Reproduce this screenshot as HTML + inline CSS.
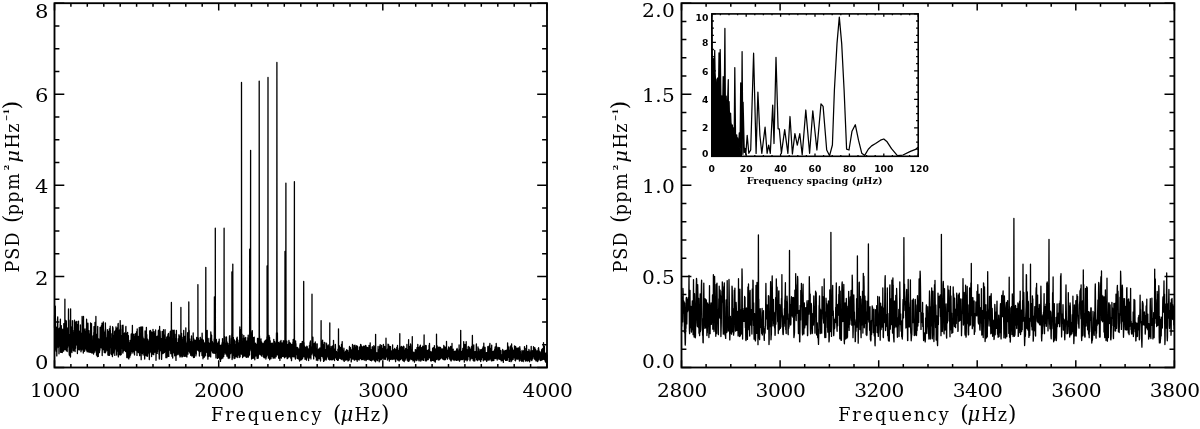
<!DOCTYPE html>
<html lang="en">
<head>
<meta charset="utf-8">
<title>PSD</title>
<style>
html,body{margin:0;padding:0;background:#fff;}
body{width:1200px;height:429px;overflow:hidden;}
svg{display:block;filter:grayscale(1);}
text{fill:#000;}
.s{font-family:"DejaVu Serif","Liberation Serif",serif;}
.b{font-family:"DejaVu Sans","Liberation Sans",sans-serif;font-weight:bold;}
.bs{font-family:"DejaVu Serif","Liberation Serif",serif;font-weight:bold;}
.mu{font-style:italic;}
.sup{font-weight:bold;}
.mub{font-style:italic;}
</style>
</head>
<body>
<svg width="1200" height="429" viewBox="0 0 1200 429">
<path d="M54.5,327.8L54.6,314.5L54.6,316.9L54.7,322.4L54.8,320.2L54.8,307.8L54.9,339.2L55.0,324.4L55.0,326.0L55.1,340.4L55.2,342.5L55.2,320.8L55.3,306.2L55.4,330.4L55.4,336.5L55.5,334.5L55.6,345.0L55.6,349.4L55.7,345.9L55.7,338.4L55.8,344.2L55.9,342.1L55.9,351.0L56.0,348.9L56.1,340.0L56.1,343.8L56.2,339.8L56.3,332.2L56.3,327.2L56.4,339.0L56.5,336.2L56.5,342.1L56.6,338.7L56.7,333.3L56.7,342.2L56.8,355.9L56.9,349.9L56.9,329.2L57.0,328.2L57.1,341.8L57.1,348.2L57.2,348.0L57.3,344.2L57.3,344.3L57.4,326.0L57.5,318.7L57.5,330.5L57.6,330.0L57.7,326.2L57.7,316.8L57.8,328.5L57.8,330.1L57.9,331.4L58.0,336.7L58.0,342.1L58.1,343.3L58.2,328.9L58.2,328.7L58.3,339.5L58.4,339.6L58.4,347.0L58.5,343.4L58.6,338.1L58.6,347.6L58.7,337.7L58.8,332.2L58.8,338.3L58.9,347.4L59.0,353.8L59.0,353.0L59.1,338.2L59.2,334.9L59.2,339.4L59.3,338.6L59.4,340.3L59.4,328.2L59.5,333.2L59.6,344.6L59.6,344.4L59.7,343.2L59.8,344.3L59.8,335.2L59.9,338.5L60.0,346.0L60.0,333.6L60.1,342.8L60.1,345.4L60.2,323.9L60.3,331.5L60.3,323.1L60.4,319.2L60.5,340.5L60.5,352.3L60.6,346.6L60.7,340.2L60.7,346.5L60.8,343.2L60.9,328.4L60.9,343.4L61.0,349.9L61.1,349.8L61.1,345.9L61.2,333.4L61.3,326.7L61.3,325.6L61.4,334.2L61.5,339.4L61.5,347.4L61.6,352.4L61.7,351.7L61.7,349.1L61.8,345.5L61.9,341.4L61.9,333.0L62.0,341.4L62.1,338.9L62.1,341.4L62.2,340.3L62.2,350.3L62.3,352.5L62.4,335.8L62.4,330.8L62.5,339.9L62.6,342.6L62.6,342.8L62.7,329.1L62.8,337.4L62.8,349.8L62.9,341.4L63.0,334.7L63.0,343.6L63.1,339.0L63.2,337.6L63.2,331.6L63.3,344.8L63.4,347.7L63.4,347.2L63.5,342.7L63.6,351.2L63.6,351.2L63.7,340.8L63.8,334.8L63.8,323.6L63.9,335.6L64.0,337.3L64.0,337.3L64.1,341.3L64.2,342.2L64.2,344.3L64.3,345.3L64.3,346.2L64.4,344.7L64.5,342.1L64.5,337.3L64.6,348.9L64.7,349.5L64.7,343.2L64.8,347.3L64.9,299.2L64.9,324.8L65.0,322.8L65.1,325.4L65.1,346.5L65.2,349.3L65.3,341.9L65.3,335.6L65.4,347.5L65.5,335.0L65.5,331.4L65.6,338.9L65.7,337.8L65.7,321.8L65.8,320.5L65.9,321.9L65.9,332.8L66.0,334.1L66.1,347.6L66.1,348.4L66.2,350.6L66.3,342.1L66.3,320.9L66.4,330.8L66.5,346.7L66.5,337.2L66.6,334.2L66.6,340.8L66.7,329.5L66.8,334.5L66.8,345.3L66.9,347.9L67.0,346.8L67.0,331.8L67.1,332.3L67.2,344.9L67.2,351.5L67.3,346.0L67.4,331.2L67.4,333.3L67.5,347.8L67.6,343.1L67.6,328.6L67.7,328.8L67.8,335.4L67.8,327.7L67.9,335.4L68.0,344.6L68.0,341.5L68.1,338.3L68.2,342.4L68.2,336.9L68.3,328.4L68.4,345.9L68.4,328.6L68.5,309.0L68.6,328.4L68.6,342.8L68.7,342.2L68.7,338.7L68.8,338.8L68.9,340.7L68.9,338.8L69.0,341.8L69.1,348.5L69.1,350.7L69.2,353.0L69.3,354.9L69.3,352.5L69.4,343.2L69.5,346.7L69.5,347.7L69.6,338.5L69.7,334.4L69.7,351.3L69.8,355.7L69.9,347.5L69.9,339.7L70.0,339.5L70.1,332.7L70.1,320.7L70.2,320.0L70.3,332.6L70.3,338.7L70.4,350.6L70.5,357.0L70.5,354.7L70.6,308.8L70.7,339.3L70.7,348.1L70.8,346.7L70.9,335.7L70.9,350.5L71.0,351.0L71.0,341.1L71.1,344.2L71.2,347.7L71.2,341.7L71.3,336.2L71.4,338.3L71.4,345.6L71.5,344.9L71.6,348.5L71.6,339.8L71.7,326.9L71.8,332.9L71.8,343.6L71.9,352.5L72.0,346.1L72.0,347.0L72.1,345.9L72.2,335.5L72.2,334.0L72.3,332.5L72.4,320.7L72.4,331.3L72.5,346.6L72.6,345.7L72.6,343.5L72.7,344.0L72.8,330.5L72.8,339.2L72.9,332.0L73.0,333.0L73.0,334.3L73.1,338.4L73.1,344.5L73.2,336.1L73.3,348.8L73.3,349.5L73.4,350.7L73.5,347.2L73.5,336.6L73.6,333.3L73.7,342.2L73.7,350.9L73.8,348.0L73.9,341.8L73.9,339.4L74.0,341.3L74.1,349.8L74.1,343.6L74.2,327.5L74.3,333.4L74.3,321.0L74.4,324.5L74.5,322.0L74.5,320.2L74.6,333.5L74.7,347.9L74.7,343.0L74.8,340.9L74.9,345.8L74.9,346.9L75.0,346.8L75.1,351.5L75.1,346.2L75.2,343.1L75.3,340.8L75.3,344.1L75.4,348.5L75.4,347.9L75.5,338.7L75.6,346.3L75.6,348.3L75.7,339.3L75.8,336.7L75.8,322.0L75.9,345.2L76.0,342.8L76.0,328.4L76.1,342.3L76.2,336.5L76.2,336.3L76.3,326.0L76.4,331.1L76.4,341.5L76.5,339.2L76.6,341.8L76.6,344.9L76.7,329.3L76.8,321.3L76.8,334.7L76.9,341.3L77.0,343.1L77.0,340.3L77.1,328.6L77.2,333.2L77.2,333.2L77.3,333.1L77.4,347.0L77.4,353.6L77.5,349.6L77.5,346.5L77.6,339.3L77.7,347.3L77.7,340.5L77.8,337.5L77.9,324.4L77.9,327.6L78.0,346.3L78.1,345.9L78.1,341.3L78.2,331.1L78.3,339.2L78.3,336.9L78.4,329.3L78.5,321.1L78.5,336.8L78.6,340.3L78.7,340.2L78.7,349.7L78.8,344.0L78.9,344.3L78.9,340.7L79.0,331.2L79.1,339.4L79.1,342.9L79.2,345.0L79.3,336.9L79.3,343.7L79.4,349.9L79.5,338.9L79.5,333.4L79.6,345.2L79.7,347.8L79.7,342.1L79.8,338.7L79.8,334.9L79.9,330.8L80.0,342.5L80.0,342.1L80.1,345.3L80.2,349.2L80.2,338.1L80.3,343.1L80.4,334.1L80.4,324.9L80.5,333.4L80.6,334.6L80.6,344.1L80.7,345.1L80.8,333.0L80.8,340.3L80.9,351.2L81.0,349.6L81.0,351.8L81.1,346.8L81.2,341.9L81.2,351.0L81.3,347.5L81.4,344.5L81.4,339.0L81.5,336.0L81.6,343.5L81.6,345.4L81.7,343.5L81.8,338.6L81.8,339.9L81.9,339.0L81.9,343.5L82.0,349.2L82.1,337.4L82.1,316.4L82.2,320.7L82.3,333.7L82.3,346.3L82.4,348.0L82.5,339.8L82.5,343.8L82.6,334.3L82.7,326.9L82.7,343.9L82.8,347.1L82.9,350.3L82.9,345.5L83.0,338.1L83.1,334.1L83.1,327.6L83.2,339.6L83.3,353.0L83.3,347.8L83.4,341.9L83.5,349.8L83.5,316.5L83.6,327.9L83.7,332.6L83.7,333.3L83.8,332.2L83.9,334.9L83.9,331.9L84.0,334.8L84.0,338.0L84.1,335.3L84.2,337.9L84.2,337.1L84.3,338.5L84.4,347.6L84.4,346.6L84.5,348.7L84.6,351.3L84.6,341.3L84.7,342.9L84.8,343.8L84.8,343.1L84.9,331.2L85.0,329.0L85.0,337.2L85.1,348.7L85.2,346.8L85.2,338.3L85.3,338.8L85.4,338.1L85.4,331.2L85.5,337.1L85.6,347.8L85.6,341.5L85.7,339.3L85.8,335.8L85.8,333.6L85.9,336.1L86.0,340.9L86.0,344.1L86.1,336.9L86.2,347.6L86.2,350.0L86.3,339.6L86.3,341.1L86.4,344.4L86.5,343.1L86.5,326.8L86.6,319.2L86.7,330.1L86.7,336.5L86.8,330.7L86.9,324.6L86.9,339.7L87.0,350.0L87.1,351.8L87.1,343.2L87.2,333.8L87.3,336.8L87.3,330.2L87.4,343.7L87.5,340.2L87.5,336.2L87.6,331.3L87.7,325.0L87.7,331.3L87.8,345.2L87.9,342.0L87.9,323.1L88.0,324.9L88.1,335.8L88.1,342.2L88.2,348.2L88.3,348.9L88.3,348.8L88.4,351.8L88.4,351.9L88.5,345.6L88.6,339.2L88.6,341.0L88.7,334.4L88.8,339.0L88.8,342.2L88.9,335.0L89.0,340.0L89.0,330.6L89.1,336.8L89.2,338.5L89.2,346.7L89.3,352.3L89.4,348.1L89.4,342.2L89.5,342.4L89.6,335.8L89.6,343.4L89.7,350.8L89.8,345.5L89.8,348.7L89.9,345.4L90.0,338.0L90.0,340.1L90.1,350.1L90.2,345.1L90.2,333.8L90.3,342.9L90.4,342.0L90.4,348.6L90.5,347.4L90.6,340.0L90.6,322.9L90.7,337.4L90.7,352.4L90.8,348.8L90.9,337.1L90.9,339.7L91.0,338.6L91.1,338.0L91.1,339.7L91.2,336.4L91.3,343.0L91.3,344.4L91.4,349.9L91.5,334.8L91.5,323.6L91.6,336.7L91.7,342.8L91.7,341.5L91.8,351.9L91.9,348.3L91.9,346.7L92.0,353.2L92.1,351.0L92.1,350.1L92.2,344.4L92.3,348.8L92.3,348.3L92.4,352.5L92.5,352.6L92.5,342.6L92.6,345.4L92.7,349.9L92.7,344.2L92.8,344.4L92.8,343.5L92.9,346.0L93.0,335.9L93.0,345.2L93.1,348.9L93.2,339.6L93.2,338.8L93.3,350.1L93.4,341.8L93.4,347.1L93.5,352.5L93.6,354.1L93.6,350.7L93.7,341.3L93.8,332.5L93.8,340.5L93.9,342.5L94.0,339.8L94.0,326.6L94.1,339.1L94.2,347.0L94.2,352.4L94.3,343.4L94.4,336.7L94.4,342.3L94.5,340.4L94.6,344.0L94.6,346.9L94.7,346.1L94.8,351.0L94.8,349.7L94.9,342.2L95.0,328.7L95.0,322.3L95.1,332.6L95.1,341.5L95.2,345.5L95.3,334.6L95.3,338.1L95.4,342.6L95.5,337.9L95.5,322.8L95.6,338.6L95.7,342.5L95.7,343.0L95.8,343.2L95.9,316.5L95.9,347.9L96.0,344.0L96.1,345.2L96.1,349.8L96.2,352.5L96.3,349.1L96.3,343.3L96.4,346.3L96.5,355.2L96.5,352.9L96.6,346.4L96.7,346.0L96.7,343.9L96.8,352.6L96.9,352.4L96.9,343.4L97.0,348.7L97.1,336.4L97.1,334.1L97.2,344.7L97.2,347.2L97.3,346.9L97.4,350.8L97.4,356.7L97.5,352.1L97.6,350.9L97.6,341.7L97.7,326.4L97.8,340.1L97.8,348.8L97.9,353.8L98.0,348.4L98.0,350.8L98.1,347.4L98.2,351.5L98.2,352.0L98.3,356.4L98.4,349.7L98.4,339.3L98.5,339.2L98.6,338.9L98.6,340.5L98.7,347.7L98.8,346.3L98.8,343.4L98.9,343.2L99.0,342.3L99.0,345.2L99.1,339.2L99.2,340.4L99.2,352.2L99.3,346.1L99.4,350.4L99.4,352.6L99.5,352.1L99.5,348.4L99.6,349.4L99.7,346.6L99.7,341.5L99.8,345.5L99.9,350.2L99.9,346.5L100.0,340.6L100.1,332.4L100.1,327.3L100.2,333.4L100.3,336.1L100.3,339.5L100.4,341.7L100.5,332.4L100.5,335.0L100.6,334.6L100.7,330.1L100.7,334.6L100.8,340.5L100.9,341.5L100.9,329.8L101.0,340.5L101.1,339.5L101.1,347.8L101.2,340.0L101.3,325.9L101.3,336.6L101.4,344.2L101.5,341.9L101.5,343.1L101.6,346.6L101.6,345.8L101.7,332.4L101.8,325.9L101.8,335.3L101.9,347.4L102.0,338.2L102.0,323.2L102.1,329.6L102.2,351.4L102.2,355.5L102.3,348.8L102.4,323.5L102.4,337.8L102.5,345.0L102.6,338.5L102.6,347.7L102.7,348.7L102.8,346.5L102.8,345.4L102.9,343.0L103.0,344.2L103.0,331.0L103.1,334.6L103.2,349.4L103.2,340.3L103.3,321.9L103.4,328.4L103.4,339.1L103.5,347.1L103.6,349.8L103.6,338.4L103.7,333.3L103.7,345.2L103.8,340.2L103.9,339.2L103.9,340.7L104.0,337.4L104.1,343.9L104.1,344.3L104.2,349.2L104.3,352.5L104.3,351.9L104.4,348.1L104.5,331.8L104.5,335.7L104.6,341.4L104.7,349.9L104.7,349.1L104.8,348.6L104.9,344.1L104.9,346.1L105.0,336.8L105.1,329.8L105.1,347.2L105.2,350.6L105.3,352.8L105.3,341.8L105.4,322.9L105.5,343.2L105.5,327.4L105.6,332.9L105.7,335.9L105.7,337.6L105.8,344.3L105.9,349.9L105.9,351.8L106.0,349.9L106.0,350.3L106.1,341.8L106.2,339.4L106.2,341.1L106.3,342.5L106.4,340.4L106.4,338.7L106.5,348.4L106.6,347.7L106.6,346.2L106.7,348.2L106.8,344.3L106.8,344.5L106.9,337.6L107.0,346.0L107.0,345.5L107.1,348.7L107.2,350.3L107.2,345.7L107.3,335.8L107.4,329.7L107.4,334.7L107.5,333.0L107.6,345.3L107.6,345.7L107.7,349.2L107.8,346.6L107.8,344.1L107.9,355.0L108.0,353.7L108.0,337.2L108.1,334.4L108.1,347.3L108.2,353.4L108.3,345.6L108.3,350.5L108.4,341.2L108.5,331.4L108.5,343.7L108.6,351.4L108.7,355.3L108.7,347.3L108.8,335.6L108.9,335.6L108.9,343.3L109.0,347.1L109.1,335.4L109.1,342.3L109.2,343.7L109.3,339.0L109.3,330.1L109.4,328.8L109.5,350.6L109.5,355.3L109.6,346.4L109.7,341.0L109.7,348.0L109.8,343.9L109.9,336.7L109.9,342.2L110.0,347.5L110.1,343.5L110.1,336.5L110.2,326.2L110.3,346.8L110.3,343.5L110.4,330.4L110.4,336.6L110.5,346.4L110.6,343.7L110.6,345.1L110.7,344.7L110.8,344.6L110.8,345.4L110.9,338.7L111.0,343.3L111.0,353.4L111.1,352.4L111.2,338.8L111.2,343.0L111.3,344.0L111.4,354.5L111.4,353.9L111.5,347.1L111.6,343.8L111.6,338.1L111.7,340.6L111.8,342.0L111.8,334.3L111.9,335.5L112.0,333.3L112.0,338.7L112.1,340.3L112.2,345.5L112.2,345.4L112.3,341.8L112.4,345.3L112.4,356.6L112.5,354.5L112.5,333.7L112.6,326.7L112.7,342.4L112.7,354.7L112.8,352.1L112.9,347.6L112.9,333.7L113.0,327.7L113.1,333.5L113.1,346.3L113.2,335.0L113.3,336.5L113.3,348.2L113.4,353.0L113.5,347.6L113.5,351.3L113.6,339.6L113.7,336.2L113.7,342.5L113.8,336.8L113.9,347.5L113.9,348.8L114.0,342.7L114.1,338.9L114.1,343.8L114.2,345.7L114.3,341.4L114.3,336.9L114.4,344.4L114.5,344.6L114.5,338.1L114.6,331.6L114.7,341.6L114.7,347.6L114.8,352.8L114.8,355.4L114.9,342.3L115.0,341.1L115.0,350.2L115.1,344.4L115.2,341.1L115.2,345.5L115.3,330.3L115.4,344.2L115.4,348.8L115.5,346.9L115.6,341.4L115.6,343.8L115.7,344.6L115.8,346.8L115.8,348.1L115.9,346.4L116.0,327.3L116.0,327.0L116.1,337.9L116.2,336.3L116.2,344.3L116.3,338.4L116.4,328.2L116.4,335.2L116.5,349.6L116.6,349.5L116.6,351.1L116.7,355.0L116.8,348.3L116.8,331.7L116.9,341.8L116.9,340.0L117.0,346.8L117.1,349.2L117.1,337.1L117.2,336.6L117.3,344.7L117.3,347.0L117.4,343.2L117.5,348.4L117.5,335.0L117.6,327.7L117.7,339.4L117.7,344.1L117.8,349.7L117.9,351.3L117.9,344.6L118.0,324.3L118.1,326.9L118.1,327.0L118.2,323.3L118.3,337.5L118.3,356.0L118.4,356.9L118.5,354.9L118.5,350.3L118.6,344.9L118.7,337.3L118.7,330.2L118.8,348.6L118.9,349.6L118.9,347.3L119.0,347.8L119.1,350.3L119.1,350.9L119.2,340.2L119.2,336.3L119.3,344.8L119.4,335.2L119.4,341.1L119.5,354.5L119.6,353.0L119.6,350.6L119.7,349.1L119.8,346.9L119.8,332.8L119.9,329.2L120.0,338.7L120.0,340.4L120.1,347.8L120.2,320.6L120.2,346.4L120.3,338.3L120.4,348.5L120.4,355.1L120.5,345.9L120.6,340.4L120.6,331.0L120.7,325.2L120.8,340.8L120.8,345.3L120.9,343.6L121.0,336.0L121.0,343.2L121.1,349.2L121.2,351.7L121.2,354.5L121.3,345.4L121.3,340.2L121.4,340.0L121.5,338.8L121.5,340.7L121.6,335.6L121.7,340.3L121.7,345.9L121.8,342.5L121.9,336.0L121.9,342.2L122.0,346.5L122.1,348.0L122.1,347.5L122.2,347.1L122.3,338.8L122.3,329.2L122.4,330.9L122.5,325.5L122.5,331.2L122.6,339.7L122.7,345.1L122.7,349.3L122.8,352.9L122.9,353.0L122.9,337.6L123.0,325.2L123.1,327.2L123.1,333.2L123.2,349.8L123.3,347.4L123.3,351.2L123.4,349.1L123.4,346.0L123.5,343.3L123.6,343.1L123.6,333.3L123.7,339.3L123.8,339.8L123.8,348.5L123.9,345.4L124.0,340.3L124.0,350.8L124.1,350.6L124.2,343.5L124.2,344.5L124.3,344.3L124.4,350.2L124.4,346.5L124.5,333.0L124.6,336.7L124.6,339.4L124.7,344.3L124.8,345.9L124.8,348.6L124.9,340.0L125.0,337.7L125.0,340.4L125.1,343.7L125.2,343.7L125.2,346.3L125.3,349.4L125.4,347.5L125.4,342.4L125.5,346.7L125.6,351.6L125.6,349.2L125.7,340.2L125.7,336.3L125.8,327.2L125.9,326.5L125.9,343.0L126.0,339.9L126.1,339.8L126.1,339.7L126.2,349.9L126.3,342.8L126.3,339.1L126.4,345.1L126.5,347.8L126.5,339.4L126.6,334.3L126.7,342.4L126.7,350.5L126.8,357.6L126.9,351.0L126.9,333.5L127.0,342.1L127.1,342.4L127.1,352.6L127.2,349.9L127.3,344.8L127.3,337.4L127.4,336.1L127.5,353.4L127.5,354.5L127.6,332.3L127.7,337.6L127.7,349.3L127.8,355.6L127.8,354.0L127.9,352.5L128.0,346.2L128.0,349.2L128.1,358.1L128.2,357.2L128.2,348.1L128.3,349.3L128.4,340.4L128.4,335.7L128.5,342.1L128.6,348.3L128.6,343.8L128.7,350.7L128.8,356.6L128.8,358.9L128.9,356.7L129.0,352.4L129.0,349.8L129.1,349.3L129.2,348.7L129.2,347.3L129.3,343.0L129.4,350.3L129.4,345.6L129.5,345.0L129.6,346.3L129.6,351.7L129.7,354.4L129.8,357.2L129.8,352.4L129.9,348.2L130.0,347.1L130.0,352.4L130.1,344.7L130.1,340.3L130.2,340.5L130.3,349.0L130.3,351.0L130.4,351.2L130.5,355.2L130.5,347.9L130.6,344.1L130.7,341.5L130.7,341.2L130.8,342.5L130.9,349.0L130.9,353.8L131.0,353.8L131.1,345.3L131.1,339.2L131.2,334.5L131.3,333.8L131.3,347.9L131.4,342.2L131.5,341.6L131.5,351.8L131.6,347.0L131.7,344.9L131.7,342.2L131.8,350.1L131.9,343.4L131.9,334.0L132.0,341.4L132.1,347.8L132.1,351.5L132.2,344.5L132.2,343.7L132.3,333.9L132.4,325.4L132.4,339.0L132.5,344.5L132.6,342.3L132.6,343.1L132.7,347.4L132.8,341.5L132.8,345.9L132.9,353.0L133.0,346.0L133.0,344.3L133.1,343.3L133.2,345.5L133.2,351.6L133.3,345.2L133.4,340.6L133.4,334.3L133.5,345.7L133.6,344.1L133.6,342.5L133.7,348.6L133.8,350.8L133.8,349.7L133.9,349.4L134.0,343.5L134.0,334.2L134.1,338.2L134.2,338.2L134.2,343.8L134.3,341.4L134.4,347.8L134.4,349.2L134.5,354.9L134.5,347.5L134.6,338.7L134.7,345.8L134.7,349.6L134.8,337.5L134.9,340.6L134.9,346.4L135.0,342.6L135.1,343.5L135.1,349.7L135.2,345.4L135.3,344.9L135.3,344.7L135.4,345.7L135.5,334.1L135.5,333.7L135.6,338.6L135.7,347.5L135.7,348.9L135.8,341.4L135.9,347.8L135.9,350.5L136.0,345.6L136.1,350.6L136.1,345.4L136.2,337.5L136.3,341.2L136.3,346.1L136.4,345.7L136.5,342.9L136.5,331.8L136.6,337.1L136.6,338.8L136.7,345.5L136.8,334.2L136.8,331.4L136.9,346.8L137.0,355.4L137.0,350.2L137.1,341.2L137.2,330.2L137.2,329.0L137.3,339.9L137.4,348.5L137.4,352.3L137.5,350.3L137.6,343.9L137.6,339.5L137.7,343.3L137.8,338.3L137.8,344.2L137.9,349.2L138.0,352.1L138.0,347.3L138.1,337.7L138.2,336.5L138.2,342.3L138.3,336.8L138.4,342.7L138.4,349.3L138.5,352.6L138.6,351.9L138.6,342.4L138.7,337.8L138.8,346.9L138.8,349.0L138.9,347.3L138.9,347.2L139.0,350.2L139.1,348.7L139.1,344.0L139.2,343.3L139.3,338.5L139.3,327.3L139.4,334.6L139.5,351.1L139.5,353.6L139.6,354.4L139.7,355.7L139.7,353.8L139.8,342.6L139.9,337.6L139.9,348.6L140.0,346.5L140.1,343.5L140.1,352.4L140.2,352.2L140.3,351.0L140.3,351.1L140.4,352.4L140.5,344.8L140.5,334.5L140.6,341.6L140.7,339.7L140.7,327.1L140.8,337.4L140.9,343.7L140.9,346.4L141.0,334.4L141.0,341.9L141.1,356.1L141.2,359.7L141.2,347.1L141.3,326.8L141.4,335.3L141.4,345.2L141.5,342.7L141.6,340.7L141.6,346.1L141.7,348.1L141.8,338.0L141.8,333.7L141.9,343.9L142.0,346.2L142.0,353.4L142.1,349.1L142.2,353.2L142.2,351.5L142.3,349.8L142.4,343.7L142.4,340.2L142.5,331.9L142.6,327.0L142.6,330.9L142.7,333.6L142.8,339.9L142.8,347.4L142.9,340.8L143.0,340.9L143.0,337.0L143.1,348.5L143.1,355.0L143.2,349.6L143.3,351.4L143.3,350.4L143.4,343.4L143.5,340.3L143.5,340.6L143.6,341.4L143.7,344.2L143.7,347.7L143.8,340.3L143.9,339.0L143.9,343.6L144.0,343.8L144.1,350.1L144.1,345.1L144.2,351.0L144.3,352.6L144.3,346.9L144.4,344.6L144.5,341.2L144.5,349.3L144.6,357.9L144.7,355.3L144.7,359.1L144.8,354.7L144.9,344.6L144.9,356.2L145.0,353.8L145.1,333.9L145.1,330.9L145.2,334.9L145.3,339.0L145.3,342.7L145.4,348.9L145.4,352.9L145.5,353.3L145.6,347.7L145.6,335.5L145.7,345.4L145.8,345.0L145.8,348.5L145.9,344.7L146.0,345.5L146.0,353.8L146.1,355.3L146.2,348.9L146.2,336.5L146.3,340.8L146.4,332.9L146.4,327.4L146.5,355.9L146.6,351.8L146.6,346.6L146.7,347.7L146.8,345.9L146.8,334.6L146.9,347.4L147.0,354.2L147.0,349.8L147.1,346.3L147.2,350.1L147.2,347.7L147.3,344.4L147.4,339.0L147.4,343.6L147.5,353.4L147.5,356.3L147.6,354.0L147.7,346.5L147.7,346.7L147.8,348.0L147.9,339.7L147.9,339.6L148.0,346.4L148.1,348.0L148.1,346.8L148.2,351.6L148.3,352.8L148.3,351.9L148.4,342.2L148.5,346.2L148.5,343.7L148.6,347.2L148.7,341.3L148.7,342.7L148.8,345.9L148.9,345.5L148.9,342.6L149.0,346.7L149.1,353.4L149.1,354.0L149.2,350.2L149.3,357.3L149.3,359.6L149.4,357.6L149.5,352.0L149.5,342.6L149.6,336.5L149.7,340.1L149.7,331.0L149.8,342.1L149.8,352.6L149.9,347.4L150.0,345.4L150.0,352.7L150.1,346.9L150.2,341.2L150.2,336.8L150.3,334.0L150.4,330.5L150.4,331.7L150.5,336.0L150.6,350.5L150.6,351.0L150.7,346.5L150.8,341.0L150.8,341.0L150.9,331.2L151.0,337.6L151.0,351.7L151.1,347.0L151.2,340.1L151.2,345.7L151.3,341.4L151.4,342.3L151.4,338.1L151.5,340.8L151.6,354.5L151.6,356.5L151.7,346.7L151.8,338.4L151.8,332.5L151.9,338.5L151.9,341.9L152.0,347.7L152.1,344.0L152.1,334.8L152.2,333.0L152.3,337.3L152.3,340.9L152.4,336.1L152.5,339.3L152.5,340.1L152.6,340.6L152.7,337.5L152.7,347.1L152.8,354.2L152.9,350.9L152.9,342.8L153.0,329.3L153.1,337.9L153.1,337.0L153.2,337.3L153.3,342.5L153.3,338.9L153.4,334.3L153.5,339.2L153.5,340.0L153.6,344.3L153.7,352.0L153.7,354.7L153.8,352.6L153.9,351.3L153.9,351.2L154.0,340.8L154.1,331.6L154.1,340.3L154.2,343.4L154.2,349.5L154.3,352.2L154.4,349.3L154.4,347.5L154.5,352.3L154.6,349.9L154.6,344.9L154.7,336.2L154.8,333.9L154.8,335.1L154.9,350.8L155.0,352.2L155.0,344.0L155.1,344.0L155.2,351.4L155.2,352.2L155.3,346.9L155.4,348.9L155.4,348.7L155.5,336.5L155.6,329.9L155.6,337.5L155.7,346.6L155.8,351.1L155.8,346.6L155.9,345.0L156.0,357.6L156.0,360.3L156.1,354.2L156.2,350.3L156.2,346.7L156.3,344.9L156.3,344.1L156.4,346.5L156.5,338.9L156.5,342.7L156.6,336.9L156.7,341.9L156.7,352.1L156.8,348.3L156.9,336.4L156.9,339.8L157.0,344.6L157.1,352.1L157.1,350.8L157.2,353.4L157.3,344.4L157.3,346.3L157.4,345.2L157.5,348.6L157.5,351.5L157.6,344.5L157.7,335.9L157.7,339.0L157.8,340.4L157.9,336.5L157.9,344.1L158.0,340.2L158.1,343.3L158.1,340.4L158.2,344.5L158.3,330.9L158.3,343.7L158.4,338.5L158.5,330.1L158.5,343.1L158.6,349.2L158.6,347.1L158.7,344.8L158.8,343.0L158.8,334.6L158.9,340.4L159.0,352.2L159.0,354.4L159.1,353.1L159.2,353.0L159.2,357.4L159.3,359.0L159.4,357.0L159.4,357.3L159.5,351.2L159.6,326.5L159.6,330.4L159.7,348.4L159.8,350.8L159.8,339.2L159.9,333.6L160.0,348.7L160.0,341.7L160.1,330.9L160.2,332.3L160.2,332.3L160.3,336.9L160.4,340.4L160.4,346.5L160.5,342.0L160.6,340.8L160.6,345.4L160.7,338.7L160.7,344.7L160.8,350.6L160.9,340.2L160.9,338.5L161.0,344.8L161.1,343.7L161.1,343.8L161.2,346.1L161.3,351.9L161.3,350.9L161.4,350.6L161.5,355.5L161.5,358.9L161.6,359.3L161.7,355.2L161.7,352.6L161.8,343.2L161.9,339.8L161.9,349.4L162.0,349.5L162.1,349.8L162.1,337.2L162.2,331.3L162.3,335.4L162.3,339.6L162.4,342.4L162.5,345.5L162.5,343.8L162.6,343.7L162.7,344.8L162.7,353.7L162.8,351.4L162.8,340.9L162.9,331.4L163.0,337.5L163.0,349.8L163.1,347.2L163.2,342.8L163.2,350.8L163.3,353.3L163.4,341.9L163.4,334.8L163.5,329.7L163.6,335.8L163.6,349.2L163.7,345.2L163.8,346.5L163.8,348.7L163.9,342.9L164.0,341.2L164.0,345.3L164.1,341.4L164.2,334.9L164.2,338.0L164.3,341.5L164.4,352.6L164.4,350.0L164.5,349.3L164.6,350.7L164.6,345.1L164.7,337.2L164.8,346.0L164.8,350.0L164.9,351.4L165.0,348.7L165.0,341.7L165.1,334.7L165.1,329.7L165.2,337.3L165.3,349.6L165.3,349.9L165.4,350.9L165.5,343.7L165.5,344.0L165.6,344.5L165.7,346.6L165.7,344.9L165.8,349.4L165.9,357.3L165.9,357.7L166.0,349.7L166.1,344.1L166.1,352.9L166.2,355.4L166.3,353.2L166.3,351.5L166.4,349.5L166.5,350.1L166.5,339.2L166.6,340.4L166.7,348.7L166.7,337.3L166.8,342.7L166.9,357.7L166.9,356.9L167.0,356.5L167.1,355.6L167.1,349.5L167.2,337.5L167.2,336.3L167.3,345.8L167.4,342.8L167.4,345.0L167.5,355.0L167.6,347.9L167.6,343.4L167.7,340.8L167.8,341.5L167.8,349.2L167.9,350.6L168.0,344.0L168.0,334.7L168.1,334.1L168.2,344.0L168.2,351.2L168.3,356.4L168.4,354.2L168.4,339.0L168.5,333.3L168.6,343.7L168.6,352.9L168.7,355.8L168.8,356.4L168.8,355.9L168.9,349.5L169.0,346.7L169.0,346.7L169.1,348.3L169.2,346.1L169.2,340.0L169.3,341.2L169.4,341.4L169.4,337.5L169.5,338.8L169.5,341.0L169.6,344.2L169.7,347.6L169.7,349.7L169.8,337.8L169.9,348.6L169.9,345.4L170.0,343.3L170.1,350.3L170.1,343.3L170.2,331.7L170.3,340.0L170.3,347.5L170.4,342.8L170.5,334.5L170.5,340.3L170.6,348.0L170.7,346.6L170.7,351.6L170.8,353.6L170.9,339.4L170.9,330.7L171.0,343.5L171.1,347.1L171.1,343.6L171.2,343.4L171.3,347.7L171.3,343.1L171.4,302.4L171.5,348.0L171.5,342.3L171.6,338.5L171.6,343.8L171.7,343.2L171.8,340.6L171.8,346.9L171.9,353.8L172.0,356.3L172.0,343.6L172.1,349.9L172.2,347.3L172.2,347.9L172.3,345.9L172.4,349.4L172.4,350.0L172.5,351.6L172.6,348.9L172.6,350.1L172.7,358.1L172.8,349.5L172.8,330.2L172.9,341.5L173.0,351.2L173.0,352.1L173.1,343.7L173.2,348.0L173.2,345.2L173.3,345.3L173.4,346.6L173.4,350.5L173.5,351.5L173.6,352.3L173.6,349.8L173.7,348.9L173.8,342.7L173.8,350.5L173.9,350.0L173.9,352.8L174.0,345.8L174.1,333.5L174.1,330.2L174.2,330.1L174.3,333.4L174.3,340.8L174.4,344.5L174.5,341.0L174.5,348.2L174.6,348.8L174.7,352.0L174.7,355.8L174.8,351.8L174.9,334.2L174.9,340.0L175.0,348.3L175.1,343.9L175.1,347.9L175.2,349.7L175.3,352.8L175.3,345.0L175.4,345.9L175.5,349.8L175.5,348.2L175.6,350.0L175.7,345.7L175.7,353.8L175.8,350.7L175.9,349.6L175.9,357.8L176.0,360.4L176.0,355.5L176.1,343.9L176.2,342.5L176.2,337.9L176.3,340.3L176.4,330.4L176.4,331.9L176.5,343.9L176.6,353.3L176.6,348.4L176.7,345.3L176.8,349.4L176.8,355.0L176.9,349.4L177.0,344.2L177.0,348.0L177.1,347.0L177.2,348.5L177.2,352.0L177.3,353.3L177.4,347.2L177.4,343.0L177.5,348.9L177.6,346.6L177.6,349.6L177.7,344.8L177.8,351.0L177.8,353.9L177.9,350.6L178.0,342.5L178.0,343.4L178.1,349.8L178.2,354.5L178.2,344.4L178.3,338.6L178.3,343.3L178.4,348.6L178.5,339.8L178.5,341.8L178.6,348.8L178.7,352.1L178.7,353.0L178.8,352.4L178.9,346.0L178.9,335.0L179.0,334.8L179.1,340.4L179.1,349.6L179.2,343.1L179.3,348.3L179.3,343.0L179.4,338.7L179.5,339.5L179.5,353.0L179.6,348.2L179.7,352.0L179.7,355.4L179.8,348.3L179.9,343.6L179.9,353.8L180.0,357.1L180.1,345.9L180.1,339.3L180.2,347.3L180.3,339.4L180.3,335.8L180.4,349.7L180.4,354.8L180.5,349.6L180.6,351.4L180.6,356.2L180.7,346.8L180.8,340.9L180.8,347.3L180.9,307.4L181.0,349.5L181.0,346.6L181.1,348.9L181.2,350.2L181.2,338.8L181.3,345.1L181.4,352.5L181.4,352.5L181.5,339.5L181.6,333.5L181.6,345.6L181.7,351.9L181.8,353.3L181.8,352.0L181.9,356.1L182.0,357.0L182.0,353.9L182.1,349.2L182.2,345.1L182.2,337.2L182.3,345.2L182.4,346.5L182.4,348.5L182.5,344.5L182.5,339.3L182.6,342.3L182.7,341.9L182.7,350.1L182.8,354.6L182.9,352.1L182.9,349.5L183.0,349.2L183.1,356.3L183.1,354.8L183.2,356.1L183.3,355.1L183.3,345.1L183.4,352.9L183.5,352.0L183.5,345.5L183.6,342.8L183.7,330.5L183.7,332.2L183.8,336.6L183.9,336.0L183.9,349.2L184.0,353.9L184.1,346.5L184.1,345.6L184.2,354.0L184.3,350.9L184.3,343.7L184.4,345.2L184.5,354.2L184.5,348.7L184.6,352.0L184.7,356.4L184.7,354.3L184.8,350.1L184.8,337.5L184.9,336.4L185.0,349.6L185.0,354.6L185.1,355.6L185.2,355.5L185.2,350.8L185.3,351.3L185.4,345.7L185.4,340.5L185.5,351.6L185.6,355.9L185.6,354.6L185.7,350.8L185.8,340.8L185.8,327.8L185.9,345.9L186.0,345.5L186.0,341.5L186.1,352.3L186.2,356.4L186.2,355.5L186.3,354.8L186.4,354.1L186.4,348.4L186.5,344.9L186.6,350.0L186.6,347.1L186.7,343.8L186.8,351.9L186.8,343.3L186.9,349.8L186.9,357.0L187.0,350.6L187.1,351.9L187.1,344.3L187.2,344.7L187.3,352.8L187.3,351.3L187.4,351.6L187.5,353.4L187.5,349.9L187.6,334.2L187.7,332.7L187.7,343.3L187.8,351.3L187.9,354.2L187.9,347.9L188.0,351.5L188.1,349.1L188.1,345.6L188.2,348.1L188.3,342.1L188.3,347.6L188.4,347.4L188.5,340.9L188.5,346.2L188.6,351.0L188.7,348.6L188.7,340.7L188.8,301.9L188.9,339.2L188.9,347.2L189.0,347.6L189.1,341.1L189.1,330.2L189.2,331.3L189.2,343.5L189.3,341.7L189.4,348.8L189.4,351.8L189.5,352.1L189.6,350.5L189.6,341.6L189.7,344.2L189.8,338.8L189.8,340.9L189.9,353.1L190.0,346.5L190.0,341.8L190.1,341.7L190.2,351.2L190.2,352.7L190.3,345.7L190.4,350.8L190.4,350.0L190.5,344.3L190.6,344.3L190.6,341.9L190.7,355.3L190.8,350.4L190.8,344.6L190.9,344.0L191.0,345.6L191.0,351.3L191.1,349.8L191.2,345.0L191.2,350.1L191.3,341.2L191.3,341.2L191.4,345.6L191.5,336.0L191.5,345.2L191.6,352.3L191.7,343.2L191.7,347.4L191.8,343.4L191.9,353.1L191.9,356.1L192.0,353.0L192.1,354.6L192.1,350.8L192.2,351.4L192.3,344.7L192.3,347.6L192.4,350.2L192.5,350.9L192.5,341.6L192.6,347.4L192.7,350.9L192.7,354.5L192.8,355.6L192.9,352.0L192.9,354.3L193.0,354.9L193.1,355.5L193.1,341.1L193.2,332.9L193.3,342.1L193.3,345.9L193.4,354.7L193.5,357.6L193.5,348.1L193.6,343.0L193.6,344.6L193.7,343.2L193.8,347.4L193.8,355.5L193.9,350.6L194.0,344.3L194.0,339.2L194.1,346.0L194.2,346.5L194.2,347.7L194.3,357.4L194.4,354.5L194.4,352.1L194.5,348.6L194.6,344.2L194.6,350.9L194.7,351.7L194.8,346.2L194.8,348.2L194.9,350.0L195.0,341.6L195.0,340.7L195.1,344.6L195.2,352.4L195.2,353.1L195.3,350.1L195.4,349.1L195.4,344.4L195.5,347.0L195.6,351.4L195.6,343.1L195.7,340.2L195.7,345.8L195.8,350.0L195.9,355.9L195.9,352.9L196.0,349.0L196.1,350.8L196.1,354.4L196.2,352.7L196.3,353.9L196.3,349.0L196.4,348.0L196.5,342.3L196.5,346.2L196.6,342.0L196.7,337.4L196.7,344.0L196.8,345.4L196.9,341.8L196.9,346.8L197.0,349.5L197.1,341.8L197.1,346.4L197.2,348.1L197.3,343.5L197.3,343.2L197.4,338.9L197.5,343.0L197.5,344.2L197.6,342.0L197.7,342.3L197.7,347.7L197.8,350.2L197.9,342.6L197.9,284.6L198.0,342.6L198.0,348.5L198.1,350.4L198.2,347.1L198.2,340.2L198.3,337.8L198.4,339.1L198.4,347.7L198.5,350.9L198.6,344.5L198.6,350.0L198.7,350.4L198.8,342.3L198.8,340.1L198.9,341.8L199.0,340.6L199.0,345.4L199.1,341.7L199.2,345.6L199.2,350.9L199.3,351.4L199.4,356.1L199.4,355.1L199.5,346.1L199.6,353.2L199.6,352.4L199.7,348.0L199.8,344.4L199.8,342.5L199.9,351.9L200.0,349.8L200.0,342.1L200.1,346.9L200.1,346.4L200.2,337.6L200.3,337.3L200.3,350.3L200.4,351.4L200.5,348.6L200.5,345.9L200.6,350.8L200.7,346.4L200.7,339.3L200.8,343.6L200.9,350.3L200.9,342.8L201.0,340.5L201.1,344.8L201.1,343.0L201.2,339.2L201.3,339.1L201.3,346.3L201.4,347.2L201.5,345.6L201.5,350.9L201.6,348.5L201.7,339.8L201.7,347.4L201.8,351.7L201.9,346.9L201.9,352.3L202.0,355.6L202.1,344.0L202.1,333.1L202.2,336.8L202.2,339.7L202.3,338.7L202.4,343.6L202.4,339.4L202.5,345.8L202.6,343.3L202.6,344.0L202.7,343.2L202.8,350.8L202.8,353.1L202.9,355.9L203.0,358.8L203.0,353.9L203.1,339.9L203.2,341.4L203.2,352.3L203.3,348.5L203.4,344.3L203.4,340.5L203.5,341.3L203.6,343.4L203.6,351.9L203.7,357.4L203.8,355.6L203.8,345.6L203.9,350.4L204.0,353.8L204.0,355.9L204.1,354.7L204.2,353.1L204.2,346.7L204.3,350.9L204.4,357.0L204.4,354.9L204.5,346.5L204.5,342.9L204.6,349.7L204.7,348.1L204.7,346.6L204.8,346.0L204.9,353.8L204.9,349.4L205.0,345.3L205.1,344.3L205.1,344.5L205.2,349.6L205.3,353.6L205.3,355.8L205.4,353.9L205.5,350.7L205.5,352.0L205.6,343.7L205.7,346.6L205.7,337.4L205.8,267.3L205.9,337.4L205.9,352.5L206.0,346.7L206.1,342.9L206.1,341.8L206.2,341.8L206.3,350.4L206.3,347.4L206.4,339.5L206.5,344.3L206.5,348.9L206.6,346.0L206.6,336.1L206.7,335.4L206.8,344.2L206.8,352.1L206.9,350.3L207.0,345.4L207.0,341.0L207.1,332.2L207.2,330.4L207.2,342.3L207.3,351.6L207.4,353.5L207.4,356.1L207.5,350.7L207.6,343.8L207.6,350.4L207.7,353.0L207.8,350.2L207.8,355.5L207.9,359.2L208.0,352.4L208.0,344.4L208.1,338.5L208.2,340.1L208.2,342.7L208.3,346.7L208.4,356.5L208.4,353.6L208.5,346.6L208.6,347.2L208.6,354.6L208.7,355.8L208.8,349.6L208.8,352.5L208.9,343.0L208.9,345.4L209.0,350.3L209.1,350.1L209.1,353.5L209.2,354.9L209.3,352.5L209.3,343.3L209.4,351.5L209.5,356.0L209.5,355.5L209.6,356.1L209.7,346.1L209.7,346.7L209.8,355.2L209.9,346.8L209.9,343.9L210.0,355.4L210.1,356.2L210.1,354.3L210.2,348.2L210.3,345.5L210.3,338.2L210.4,341.8L210.5,354.5L210.5,352.7L210.6,355.7L210.7,356.9L210.7,345.6L210.8,331.8L210.9,333.0L210.9,348.0L211.0,352.0L211.0,347.0L211.1,339.8L211.2,346.5L211.2,348.3L211.3,347.1L211.4,346.1L211.4,342.2L211.5,343.8L211.6,335.2L211.6,337.6L211.7,339.7L211.8,341.2L211.8,345.5L211.9,344.0L212.0,343.1L212.0,344.4L212.1,347.4L212.2,350.8L212.2,347.0L212.3,341.5L212.4,348.7L212.4,348.4L212.5,348.6L212.6,342.4L212.6,349.5L212.7,352.8L212.8,349.3L212.8,349.8L212.9,351.6L213.0,346.9L213.0,345.4L213.1,343.8L213.2,344.7L213.2,347.8L213.3,353.0L213.3,352.2L213.4,345.4L213.5,345.3L213.5,347.7L213.6,349.2L213.7,352.2L213.7,353.1L213.8,351.5L213.9,351.5L213.9,343.7L214.0,342.9L214.1,338.9L214.1,342.6L214.2,346.7L214.3,342.7L214.3,347.4L214.4,296.9L214.5,346.6L214.5,343.5L214.6,341.8L214.7,344.4L214.7,348.8L214.8,349.9L214.9,348.7L214.9,351.5L215.0,353.4L215.1,347.7L215.1,335.9L215.2,331.6L215.3,325.7L215.3,228.2L215.4,325.7L215.4,343.5L215.5,349.2L215.6,347.6L215.6,349.9L215.7,352.7L215.8,348.3L215.8,346.2L215.9,355.4L216.0,357.9L216.0,350.5L216.1,346.8L216.2,349.2L216.2,342.7L216.3,339.3L216.4,342.4L216.4,341.4L216.5,348.0L216.6,351.8L216.6,352.1L216.7,349.7L216.8,350.2L216.8,347.9L216.9,343.3L217.0,349.7L217.0,349.9L217.1,347.1L217.2,344.3L217.2,347.0L217.3,347.8L217.4,349.5L217.4,353.4L217.5,358.4L217.6,357.0L217.6,356.4L217.7,358.3L217.7,356.8L217.8,346.4L217.9,343.0L217.9,348.7L218.0,353.2L218.1,357.0L218.1,353.6L218.2,351.4L218.3,341.8L218.3,343.0L218.4,345.5L218.5,348.2L218.5,355.9L218.6,354.4L218.7,357.5L218.7,356.3L218.8,351.6L218.9,353.8L218.9,356.3L219.0,352.8L219.1,352.1L219.1,348.3L219.2,339.1L219.3,345.4L219.3,350.0L219.4,354.2L219.5,357.1L219.5,348.5L219.6,345.4L219.7,357.4L219.7,359.2L219.8,354.2L219.8,349.0L219.9,347.5L220.0,352.3L220.0,355.1L220.1,351.1L220.2,346.2L220.2,347.6L220.3,348.9L220.4,347.2L220.4,358.4L220.5,361.4L220.6,357.8L220.6,352.9L220.7,355.3L220.8,354.8L220.8,345.2L220.9,348.5L221.0,351.5L221.0,346.4L221.1,346.9L221.2,349.2L221.2,352.5L221.3,346.4L221.4,349.6L221.4,355.3L221.5,357.2L221.6,355.7L221.6,355.1L221.7,358.8L221.8,356.8L221.8,352.1L221.9,343.8L221.9,350.7L222.0,351.1L222.1,351.6L222.1,347.1L222.2,342.4L222.3,349.5L222.3,354.9L222.4,347.0L222.5,340.5L222.5,338.6L222.6,350.9L222.7,348.3L222.7,342.1L222.8,355.5L222.9,358.0L222.9,349.1L223.0,351.3L223.1,355.3L223.1,346.7L223.2,343.5L223.3,345.8L223.3,350.6L223.4,347.9L223.5,352.2L223.5,352.3L223.6,350.6L223.7,356.4L223.7,349.8L223.8,343.3L223.9,350.7L223.9,350.1L224.0,325.7L224.1,228.2L224.1,325.7L224.2,344.5L224.2,354.3L224.3,348.1L224.4,338.8L224.4,347.8L224.5,342.0L224.6,338.9L224.6,348.5L224.7,350.9L224.8,346.7L224.8,345.2L224.9,336.9L225.0,349.9L225.0,350.3L225.1,343.5L225.2,350.9L225.2,349.9L225.3,352.4L225.4,345.3L225.4,343.2L225.5,344.7L225.6,348.4L225.6,353.2L225.7,347.7L225.8,344.0L225.8,349.2L225.9,351.7L226.0,348.2L226.0,354.2L226.1,349.1L226.2,345.3L226.2,349.9L226.3,352.8L226.3,350.1L226.4,337.1L226.5,337.0L226.5,337.2L226.6,344.5L226.7,346.6L226.7,345.1L226.8,352.2L226.9,356.2L226.9,355.9L227.0,343.2L227.1,342.0L227.1,353.1L227.2,351.9L227.3,348.4L227.3,344.3L227.4,347.7L227.5,352.1L227.5,351.1L227.6,347.3L227.7,348.0L227.7,343.3L227.8,348.0L227.9,355.7L227.9,356.6L228.0,345.1L228.1,349.9L228.1,357.9L228.2,351.7L228.3,347.5L228.3,354.1L228.4,353.5L228.5,353.4L228.5,352.7L228.6,355.5L228.6,355.0L228.7,346.6L228.8,355.0L228.8,356.6L228.9,355.6L229.0,357.5L229.0,358.5L229.1,356.3L229.2,351.0L229.2,343.1L229.3,353.2L229.4,354.6L229.4,339.0L229.5,336.0L229.6,347.7L229.6,356.8L229.7,357.7L229.8,350.9L229.8,341.1L229.9,335.7L230.0,339.4L230.0,338.6L230.1,342.0L230.2,352.0L230.2,350.6L230.3,347.1L230.4,349.4L230.4,345.7L230.5,344.9L230.6,353.0L230.6,353.7L230.7,350.6L230.7,346.4L230.8,351.1L230.9,346.9L230.9,346.8L231.0,348.1L231.1,344.3L231.1,350.2L231.2,352.1L231.3,347.5L231.3,346.7L231.4,352.7L231.5,346.2L231.5,338.4L231.6,339.6L231.7,351.7L231.7,342.7L231.8,333.7L231.9,336.7L231.9,271.9L232.0,343.6L232.1,359.6L232.1,355.1L232.2,342.2L232.3,339.4L232.3,346.1L232.4,354.7L232.5,357.5L232.5,357.9L232.6,356.6L232.7,346.0L232.7,336.5L232.8,264.1L232.9,336.5L232.9,342.2L233.0,342.4L233.0,341.7L233.1,346.4L233.2,344.1L233.2,342.4L233.3,339.4L233.4,337.4L233.4,346.4L233.5,349.3L233.6,348.5L233.6,345.4L233.7,350.8L233.8,348.2L233.8,351.4L233.9,355.8L234.0,350.4L234.0,345.4L234.1,357.6L234.2,358.6L234.2,353.2L234.3,346.8L234.4,339.9L234.4,344.7L234.5,351.3L234.6,350.7L234.6,346.9L234.7,347.9L234.8,350.8L234.8,353.2L234.9,357.9L235.0,358.2L235.0,351.3L235.1,344.9L235.1,349.0L235.2,349.2L235.3,352.4L235.3,354.5L235.4,355.1L235.5,349.1L235.5,349.4L235.6,346.4L235.7,349.8L235.7,349.2L235.8,345.1L235.9,348.7L235.9,341.2L236.0,343.6L236.1,347.7L236.1,356.1L236.2,356.7L236.3,354.0L236.3,351.8L236.4,355.4L236.5,354.1L236.5,347.8L236.6,344.1L236.7,342.6L236.7,338.2L236.8,345.2L236.9,353.8L236.9,351.0L237.0,342.4L237.1,349.5L237.1,349.5L237.2,337.1L237.3,346.9L237.3,357.6L237.4,353.7L237.4,344.9L237.5,348.8L237.6,351.0L237.6,345.6L237.7,342.4L237.8,348.6L237.8,345.3L237.9,340.1L238.0,345.3L238.0,348.8L238.1,349.0L238.2,343.5L238.2,347.6L238.3,347.5L238.4,348.2L238.4,353.2L238.5,354.2L238.6,344.4L238.6,347.7L238.7,353.5L238.8,355.6L238.8,353.1L238.9,351.6L239.0,356.3L239.0,351.6L239.1,352.8L239.2,357.5L239.2,350.5L239.3,342.4L239.4,345.2L239.4,349.4L239.5,349.4L239.5,347.2L239.6,340.2L239.7,343.3L239.7,331.7L239.8,327.0L239.9,336.2L239.9,345.1L240.0,356.2L240.1,356.8L240.1,354.2L240.2,346.5L240.3,345.5L240.3,344.6L240.4,347.2L240.5,342.5L240.5,337.5L240.6,337.6L240.7,329.6L240.7,331.0L240.8,337.6L240.9,351.9L240.9,346.0L241.0,338.7L241.1,339.1L241.1,347.3L241.2,353.8L241.3,354.1L241.3,352.2L241.4,341.6L241.5,282.0L241.5,82.4L241.6,282.0L241.6,335.7L241.7,344.4L241.8,342.7L241.8,339.0L241.9,343.2L242.0,339.6L242.0,337.0L242.1,334.2L242.2,344.1L242.2,347.0L242.3,344.1L242.4,350.2L242.4,354.9L242.5,347.8L242.6,352.3L242.6,357.6L242.7,356.4L242.8,349.7L242.8,351.0L242.9,351.1L243.0,355.1L243.0,353.5L243.1,350.8L243.2,348.1L243.2,352.5L243.3,356.3L243.4,355.4L243.4,351.9L243.5,338.1L243.6,345.9L243.6,350.9L243.7,343.4L243.8,341.4L243.8,335.5L243.9,345.1L243.9,355.8L244.0,350.5L244.1,341.2L244.1,351.6L244.2,356.0L244.3,349.9L244.3,348.4L244.4,352.2L244.5,343.9L244.5,338.1L244.6,351.1L244.7,351.3L244.7,348.0L244.8,352.5L244.9,352.7L244.9,355.6L245.0,355.9L245.1,348.8L245.1,342.6L245.2,349.2L245.3,351.1L245.3,352.8L245.4,354.6L245.5,354.5L245.5,353.4L245.6,354.9L245.7,348.1L245.7,337.5L245.8,350.1L245.9,356.9L245.9,350.4L246.0,354.7L246.0,355.9L246.1,346.0L246.2,345.7L246.2,346.4L246.3,343.5L246.4,341.7L246.4,345.8L246.5,347.5L246.6,351.7L246.6,350.0L246.7,357.4L246.8,351.9L246.8,347.8L246.9,349.2L247.0,348.0L247.0,347.3L247.1,354.8L247.2,351.7L247.2,340.6L247.3,347.5L247.4,348.7L247.4,345.0L247.5,353.9L247.6,354.7L247.6,350.8L247.7,341.0L247.8,342.8L247.8,337.6L247.9,348.0L248.0,356.7L248.0,357.0L248.1,353.1L248.2,338.5L248.2,335.1L248.3,341.4L248.3,352.1L248.4,357.1L248.5,354.4L248.5,347.1L248.6,356.1L248.7,354.7L248.7,350.8L248.8,346.2L248.9,346.3L248.9,347.7L249.0,342.0L249.1,338.3L249.1,342.2L249.2,342.3L249.3,353.1L249.3,354.5L249.4,348.4L249.5,353.5L249.5,355.1L249.6,337.9L249.7,249.1L249.7,337.9L249.8,348.4L249.9,349.1L249.9,348.1L250.0,345.2L250.1,343.9L250.1,344.7L250.2,338.0L250.3,348.7L250.3,339.6L250.4,340.3L250.4,339.6L250.5,302.3L250.6,150.3L250.6,302.3L250.7,330.0L250.8,336.1L250.8,342.9L250.9,332.5L251.0,344.4L251.0,350.8L251.1,340.6L251.2,335.8L251.2,338.2L251.3,341.6L251.4,337.0L251.4,341.6L251.5,354.4L251.6,359.1L251.6,357.4L251.7,355.1L251.8,354.0L251.8,347.2L251.9,345.6L252.0,345.8L252.0,343.0L252.1,346.0L252.2,346.2L252.2,331.1L252.3,330.7L252.4,345.2L252.4,355.7L252.5,357.5L252.6,348.6L252.6,343.1L252.7,346.1L252.7,354.8L252.8,358.3L252.9,357.8L252.9,351.6L253.0,343.8L253.1,343.9L253.1,349.8L253.2,343.3L253.3,343.3L253.3,340.9L253.4,339.8L253.5,340.3L253.5,337.7L253.6,346.2L253.7,349.8L253.7,354.9L253.8,349.0L253.9,355.9L253.9,355.1L254.0,356.6L254.1,358.1L254.1,349.4L254.2,337.1L254.3,342.6L254.3,350.2L254.4,346.9L254.5,348.4L254.5,350.7L254.6,347.0L254.7,348.2L254.7,351.1L254.8,357.6L254.8,359.8L254.9,350.8L255.0,345.0L255.0,348.3L255.1,351.8L255.2,349.1L255.2,352.0L255.3,346.3L255.4,349.8L255.4,351.6L255.5,356.0L255.6,349.5L255.6,343.1L255.7,347.4L255.8,352.1L255.8,355.6L255.9,350.5L256.0,347.8L256.0,348.2L256.1,352.3L256.2,345.0L256.2,344.4L256.3,348.7L256.4,352.1L256.4,353.3L256.5,353.6L256.6,350.3L256.6,348.1L256.7,344.6L256.8,346.3L256.8,350.3L256.9,356.7L257.0,355.8L257.0,347.7L257.1,348.6L257.1,358.0L257.2,358.4L257.3,351.1L257.3,343.7L257.4,344.3L257.5,338.5L257.5,347.5L257.6,351.2L257.7,348.2L257.7,349.0L257.8,356.5L257.9,357.1L257.9,346.3L258.0,338.5L258.1,351.4L258.1,357.5L258.2,358.2L258.3,357.0L258.3,345.4L258.4,345.4L258.5,354.9L258.5,343.2L258.6,342.8L258.7,345.3L258.7,344.8L258.8,351.2L258.9,351.7L258.9,353.1L259.0,353.2L259.1,353.0L259.1,348.0L259.2,281.6L259.2,81.1L259.3,281.6L259.4,340.4L259.4,342.2L259.5,335.7L259.6,339.1L259.6,340.7L259.7,348.8L259.8,346.5L259.8,350.0L259.9,354.6L260.0,349.9L260.0,346.2L260.1,349.0L260.2,352.9L260.2,350.4L260.3,342.5L260.4,350.6L260.4,352.2L260.5,350.5L260.6,345.2L260.6,346.6L260.7,341.1L260.8,344.9L260.8,347.5L260.9,345.1L261.0,338.8L261.0,351.8L261.1,355.3L261.2,351.3L261.2,346.5L261.3,347.0L261.3,351.9L261.4,349.8L261.5,350.0L261.5,350.1L261.6,351.8L261.7,343.8L261.7,342.1L261.8,352.5L261.9,356.3L261.9,349.5L262.0,352.7L262.1,352.5L262.1,351.9L262.2,354.4L262.3,351.4L262.3,348.6L262.4,349.6L262.5,348.7L262.5,350.7L262.6,351.4L262.7,348.9L262.7,349.2L262.8,344.3L262.9,345.9L262.9,351.3L263.0,343.4L263.1,351.1L263.1,352.4L263.2,346.9L263.3,344.5L263.3,351.1L263.4,352.6L263.5,353.0L263.5,356.9L263.6,348.6L263.6,351.2L263.7,354.3L263.8,348.9L263.8,351.8L263.9,352.3L264.0,349.8L264.0,356.5L264.1,357.7L264.2,354.9L264.2,347.4L264.3,341.9L264.4,349.4L264.4,355.3L264.5,350.8L264.6,351.5L264.6,357.8L264.7,355.8L264.8,343.5L264.8,345.1L264.9,345.8L265.0,340.9L265.0,344.1L265.1,347.8L265.2,354.8L265.2,352.2L265.3,342.6L265.4,348.6L265.4,350.4L265.5,350.0L265.6,348.0L265.6,355.4L265.7,348.3L265.7,340.2L265.8,341.1L265.9,353.7L265.9,359.0L266.0,358.1L266.1,352.3L266.1,340.5L266.2,345.9L266.3,347.2L266.3,343.8L266.4,351.6L266.5,354.6L266.5,356.7L266.6,356.6L266.7,347.6L266.7,339.3L266.8,350.9L266.9,350.7L266.9,336.8L267.0,343.8L267.1,342.1L267.1,266.0L267.2,342.1L267.3,352.3L267.3,345.2L267.4,341.7L267.5,349.9L267.5,353.4L267.6,354.4L267.7,348.7L267.7,355.1L267.8,352.7L267.9,346.4L267.9,280.5L268.0,77.4L268.0,280.5L268.1,348.7L268.2,347.9L268.2,345.9L268.3,344.7L268.4,355.2L268.4,358.2L268.5,356.8L268.6,353.4L268.6,353.6L268.7,355.5L268.8,349.4L268.8,347.1L268.9,340.7L269.0,342.4L269.0,335.3L269.1,337.0L269.2,342.4L269.2,346.7L269.3,343.4L269.4,340.0L269.4,342.5L269.5,337.1L269.6,337.9L269.6,352.4L269.7,359.8L269.8,358.1L269.8,353.4L269.9,352.5L270.0,350.0L270.0,351.2L270.1,355.5L270.1,353.9L270.2,340.7L270.3,347.8L270.3,350.3L270.4,349.4L270.5,351.0L270.5,358.0L270.6,357.9L270.7,354.2L270.7,349.3L270.8,353.7L270.9,353.4L270.9,358.5L271.0,358.7L271.1,352.3L271.1,343.6L271.2,344.9L271.3,349.2L271.3,354.9L271.4,349.4L271.5,349.3L271.5,346.0L271.6,346.9L271.7,350.7L271.7,351.7L271.8,343.1L271.9,344.4L271.9,349.5L272.0,354.2L272.1,356.5L272.1,352.8L272.2,350.4L272.3,353.3L272.3,352.0L272.4,350.1L272.4,343.2L272.5,346.7L272.6,353.8L272.6,350.3L272.7,345.7L272.8,346.8L272.8,347.6L272.9,352.8L273.0,351.0L273.0,352.5L273.1,356.8L273.2,358.3L273.2,353.8L273.3,351.7L273.4,355.4L273.4,353.5L273.5,353.3L273.6,354.0L273.6,355.8L273.7,349.8L273.8,340.2L273.8,339.3L273.9,342.8L274.0,352.3L274.0,352.5L274.1,351.9L274.2,350.1L274.2,355.4L274.3,352.1L274.4,353.8L274.4,346.2L274.5,356.4L274.5,357.8L274.6,353.1L274.7,350.4L274.7,341.6L274.8,350.4L274.9,356.8L274.9,355.5L275.0,358.1L275.1,355.5L275.1,345.4L275.2,344.0L275.3,353.4L275.3,351.9L275.4,343.2L275.5,343.4L275.5,345.5L275.6,351.0L275.7,356.1L275.7,354.9L275.8,349.0L275.9,346.7L275.9,348.1L276.0,351.4L276.1,356.7L276.1,356.4L276.2,353.7L276.3,347.8L276.3,350.7L276.4,341.3L276.5,332.8L276.5,333.5L276.6,344.0L276.7,338.0L276.7,341.4L276.8,350.7L276.8,276.0L276.9,62.4L277.0,276.0L277.0,346.2L277.1,341.7L277.2,352.6L277.2,354.9L277.3,349.4L277.4,347.4L277.4,332.8L277.5,343.0L277.6,347.6L277.6,349.2L277.7,351.2L277.8,353.4L277.8,351.1L277.9,351.2L278.0,346.8L278.0,347.8L278.1,354.0L278.2,354.8L278.2,347.8L278.3,344.6L278.4,342.3L278.4,342.4L278.5,344.7L278.6,354.7L278.6,358.1L278.7,350.4L278.8,346.4L278.8,348.7L278.9,355.1L278.9,355.7L279.0,354.5L279.1,355.3L279.1,358.4L279.2,357.6L279.3,355.7L279.3,357.9L279.4,354.1L279.5,344.9L279.5,346.3L279.6,342.9L279.7,353.6L279.7,352.3L279.8,349.4L279.9,355.9L279.9,360.4L280.0,357.4L280.1,348.2L280.1,341.7L280.2,350.4L280.3,348.0L280.3,354.6L280.4,357.4L280.5,354.1L280.5,352.7L280.6,356.0L280.7,352.9L280.7,353.4L280.8,357.7L280.9,356.4L280.9,355.8L281.0,347.1L281.0,340.3L281.1,350.8L281.2,352.2L281.2,345.6L281.3,351.6L281.4,358.0L281.4,356.9L281.5,356.6L281.6,355.0L281.6,352.2L281.7,347.1L281.8,356.0L281.8,355.5L281.9,345.1L282.0,344.2L282.0,346.2L282.1,342.9L282.2,353.5L282.2,356.3L282.3,347.0L282.4,343.8L282.4,347.6L282.5,351.8L282.6,354.6L282.6,354.7L282.7,353.2L282.8,353.6L282.8,353.8L282.9,344.3L283.0,342.9L283.0,351.3L283.1,352.2L283.2,350.1L283.2,356.5L283.3,349.6L283.3,340.7L283.4,341.6L283.5,344.8L283.5,349.5L283.6,348.4L283.7,344.9L283.7,344.4L283.8,354.3L283.9,355.3L283.9,346.8L284.0,348.7L284.1,346.9L284.1,344.0L284.2,342.9L284.3,354.9L284.3,353.7L284.4,348.0L284.5,356.0L284.5,357.8L284.6,355.2L284.7,348.8L284.7,340.5L284.8,341.6L284.9,351.5L284.9,338.5L285.0,251.4L285.1,338.5L285.1,352.4L285.2,343.3L285.3,339.7L285.3,349.3L285.4,351.8L285.4,349.8L285.5,348.6L285.6,345.4L285.6,350.9L285.7,356.9L285.8,355.7L285.8,312.2L285.9,183.1L286.0,312.2L286.0,351.4L286.1,344.1L286.2,343.8L286.2,343.6L286.3,345.9L286.4,351.7L286.4,356.0L286.5,354.6L286.6,352.5L286.6,353.2L286.7,348.6L286.8,341.2L286.8,345.5L286.9,352.3L287.0,354.4L287.0,347.3L287.1,344.5L287.2,353.9L287.2,358.7L287.3,357.4L287.4,354.3L287.4,356.4L287.5,358.4L287.6,353.2L287.6,348.7L287.7,354.1L287.7,350.4L287.8,353.3L287.9,357.9L287.9,354.5L288.0,351.7L288.1,350.0L288.1,344.5L288.2,355.2L288.3,354.2L288.3,350.2L288.4,350.2L288.5,356.0L288.5,357.0L288.6,352.2L288.7,347.2L288.7,348.4L288.8,343.7L288.9,340.4L288.9,350.9L289.0,350.9L289.1,347.4L289.1,351.1L289.2,350.0L289.3,350.3L289.3,348.1L289.4,346.7L289.5,342.2L289.5,349.9L289.6,356.8L289.7,352.8L289.7,348.8L289.8,351.3L289.8,349.7L289.9,350.7L290.0,351.0L290.0,349.4L290.1,345.2L290.2,351.8L290.2,345.8L290.3,349.3L290.4,356.5L290.4,355.4L290.5,357.0L290.6,354.3L290.6,343.2L290.7,354.7L290.8,358.2L290.8,357.6L290.9,351.7L291.0,344.4L291.0,344.8L291.1,351.4L291.2,351.6L291.2,356.4L291.3,353.0L291.4,349.0L291.4,358.1L291.5,360.6L291.6,358.8L291.6,356.4L291.7,353.6L291.8,351.1L291.8,344.6L291.9,348.8L292.0,354.1L292.0,356.1L292.1,352.0L292.1,352.4L292.2,347.2L292.3,347.4L292.3,350.6L292.4,355.0L292.5,356.5L292.5,349.8L292.6,344.3L292.7,350.0L292.7,350.6L292.8,348.2L292.9,342.4L292.9,349.6L293.0,355.0L293.1,350.9L293.1,343.6L293.2,339.5L293.3,345.3L293.3,355.7L293.4,355.8L293.5,353.1L293.5,356.8L293.6,353.6L293.7,351.8L293.7,352.4L293.8,356.7L293.9,355.2L293.9,350.3L294.0,351.8L294.1,354.9L294.1,351.3L294.2,355.7L294.2,355.1L294.3,311.8L294.4,181.7L294.4,311.8L294.5,348.1L294.6,344.6L294.6,345.1L294.7,348.3L294.8,351.3L294.8,356.9L294.9,356.3L295.0,356.2L295.0,348.5L295.1,352.2L295.2,357.0L295.2,355.3L295.3,358.0L295.4,359.0L295.4,358.7L295.5,350.7L295.6,340.9L295.6,344.2L295.7,346.3L295.8,348.0L295.8,345.3L295.9,343.6L296.0,347.3L296.0,351.0L296.1,349.9L296.2,347.1L296.2,354.7L296.3,352.7L296.4,353.7L296.4,348.6L296.5,349.3L296.5,353.7L296.6,353.5L296.7,351.3L296.7,350.6L296.8,355.0L296.9,354.9L296.9,348.6L297.0,352.9L297.1,358.1L297.1,358.2L297.2,356.5L297.3,347.3L297.3,347.5L297.4,357.4L297.5,358.5L297.5,354.5L297.6,354.7L297.7,349.9L297.7,352.9L297.8,350.8L297.9,347.9L297.9,350.4L298.0,355.7L298.1,352.1L298.1,351.2L298.2,355.7L298.3,356.3L298.3,350.4L298.4,349.6L298.5,350.2L298.5,351.6L298.6,349.1L298.6,350.3L298.7,357.6L298.8,359.2L298.8,358.2L298.9,354.8L299.0,357.0L299.0,358.4L299.1,358.2L299.2,353.4L299.2,351.6L299.3,354.8L299.4,353.0L299.4,353.2L299.5,359.9L299.6,361.0L299.6,358.7L299.7,356.3L299.8,347.5L299.8,351.1L299.9,344.9L300.0,348.9L300.0,354.1L300.1,348.8L300.2,346.5L300.2,343.6L300.3,346.3L300.4,356.6L300.4,360.0L300.5,355.5L300.6,349.7L300.6,354.4L300.7,355.6L300.7,349.9L300.8,356.4L300.9,354.7L300.9,354.6L301.0,349.8L301.1,356.7L301.1,356.2L301.2,354.1L301.3,345.0L301.3,343.5L301.4,355.3L301.5,353.4L301.5,348.5L301.6,358.8L301.7,359.8L301.7,355.8L301.8,353.1L301.9,345.2L301.9,345.0L302.0,349.7L302.1,356.9L302.1,358.7L302.2,351.8L302.3,348.7L302.3,341.3L302.4,346.4L302.5,353.0L302.5,354.0L302.6,358.5L302.7,357.2L302.7,356.8L302.8,356.2L302.9,347.9L302.9,355.6L303.0,354.9L303.0,356.9L303.1,354.5L303.2,351.5L303.2,345.8L303.3,351.6L303.4,350.2L303.4,351.9L303.5,349.9L303.6,341.1L303.6,341.7L303.7,281.4L303.8,341.7L303.8,351.0L303.9,356.7L304.0,355.5L304.0,346.3L304.1,342.6L304.2,354.7L304.2,356.0L304.3,354.2L304.4,356.0L304.4,354.7L304.5,356.2L304.6,356.8L304.6,353.2L304.7,350.6L304.8,350.2L304.8,346.3L304.9,348.6L305.0,356.2L305.0,359.3L305.1,358.0L305.1,351.6L305.2,351.9L305.3,355.1L305.3,349.3L305.4,350.0L305.5,356.1L305.5,359.0L305.6,351.9L305.7,347.7L305.7,352.3L305.8,348.9L305.9,349.6L305.9,351.9L306.0,353.1L306.1,354.3L306.1,350.1L306.2,348.3L306.3,351.4L306.3,358.6L306.4,359.6L306.5,360.0L306.5,355.4L306.6,349.5L306.7,351.2L306.7,351.1L306.8,346.1L306.9,349.6L306.9,350.2L307.0,353.4L307.1,355.8L307.1,356.1L307.2,349.6L307.3,346.7L307.3,351.6L307.4,351.3L307.4,351.8L307.5,352.5L307.6,355.5L307.6,356.4L307.7,354.8L307.8,357.1L307.8,356.7L307.9,357.4L308.0,354.4L308.0,354.3L308.1,354.1L308.2,357.7L308.2,358.5L308.3,354.6L308.4,352.4L308.4,348.9L308.5,353.7L308.6,360.6L308.6,360.4L308.7,352.6L308.8,355.1L308.8,353.8L308.9,350.2L309.0,351.2L309.0,355.3L309.1,355.8L309.2,358.2L309.2,355.0L309.3,352.7L309.4,345.5L309.4,352.4L309.5,355.7L309.5,355.4L309.6,345.7L309.7,350.0L309.7,356.1L309.8,355.1L309.9,355.3L309.9,347.0L310.0,342.6L310.1,348.6L310.1,355.3L310.2,348.2L310.3,353.4L310.3,349.0L310.4,341.0L310.5,349.3L310.5,357.5L310.6,355.1L310.7,356.8L310.7,355.8L310.8,351.4L310.9,357.1L310.9,358.9L311.0,353.3L311.1,347.9L311.1,346.8L311.2,347.1L311.3,351.4L311.3,354.6L311.4,352.0L311.5,350.1L311.5,351.2L311.6,349.2L311.7,350.9L311.7,351.1L311.8,349.3L311.8,348.5L311.9,345.5L312.0,294.2L312.0,345.5L312.1,350.7L312.2,351.8L312.2,345.2L312.3,337.3L312.4,341.8L312.4,350.7L312.5,352.4L312.6,352.6L312.6,353.2L312.7,348.2L312.8,347.3L312.8,345.1L312.9,337.2L313.0,341.7L313.0,348.6L313.1,355.1L313.2,354.5L313.2,353.9L313.3,353.1L313.4,351.6L313.4,348.4L313.5,354.8L313.6,355.8L313.6,356.0L313.7,358.9L313.8,354.4L313.8,346.8L313.9,350.1L313.9,356.5L314.0,356.3L314.1,351.9L314.1,352.1L314.2,351.2L314.3,350.2L314.3,343.4L314.4,348.4L314.5,355.6L314.5,354.8L314.6,351.0L314.7,349.8L314.7,351.7L314.8,351.0L314.9,350.7L314.9,353.9L315.0,349.7L315.1,351.5L315.1,355.7L315.2,355.7L315.3,348.7L315.3,342.0L315.4,348.2L315.5,353.6L315.5,354.4L315.6,355.1L315.7,356.6L315.7,350.2L315.8,349.3L315.9,354.4L315.9,354.2L316.0,352.5L316.1,357.4L316.1,356.3L316.2,351.5L316.2,355.3L316.3,354.3L316.4,356.8L316.4,360.2L316.5,355.9L316.6,348.5L316.6,356.3L316.7,351.8L316.8,344.0L316.8,343.8L316.9,346.1L317.0,354.0L317.0,359.6L317.1,349.2L317.2,343.8L317.2,352.1L317.3,351.6L317.4,357.1L317.4,359.5L317.5,354.5L317.6,358.7L317.6,357.7L317.7,358.3L317.8,360.5L317.8,357.3L317.9,354.9L318.0,352.5L318.0,351.5L318.1,350.9L318.2,352.7L318.2,353.9L318.3,350.6L318.3,351.4L318.4,357.6L318.5,351.0L318.5,349.4L318.6,357.2L318.7,357.4L318.7,356.6L318.8,356.9L318.9,350.3L318.9,348.8L319.0,358.8L319.1,358.3L319.1,354.1L319.2,358.4L319.3,358.1L319.3,352.7L319.4,354.0L319.5,350.6L319.5,349.8L319.6,354.1L319.7,355.7L319.7,354.8L319.8,349.2L319.9,348.0L319.9,354.7L320.0,356.9L320.1,356.2L320.1,353.2L320.2,352.6L320.3,352.6L320.3,352.3L320.4,358.2L320.4,359.2L320.5,361.0L320.6,360.3L320.6,358.0L320.7,353.4L320.8,353.0L320.8,350.2L320.9,347.8L321.0,349.8L321.0,353.4L321.1,320.6L321.2,352.3L321.2,355.7L321.3,356.2L321.4,349.1L321.4,345.7L321.5,352.0L321.6,349.1L321.6,341.2L321.7,352.2L321.8,354.2L321.8,349.0L321.9,354.5L322.0,350.7L322.0,356.4L322.1,355.6L322.2,348.5L322.2,342.8L322.3,349.8L322.4,346.7L322.4,347.6L322.5,341.1L322.6,340.2L322.6,342.6L322.7,346.7L322.7,355.7L322.8,356.4L322.9,357.1L322.9,355.8L323.0,352.3L323.1,349.6L323.1,350.1L323.2,357.7L323.3,358.7L323.3,355.6L323.4,351.5L323.5,348.3L323.5,357.0L323.6,361.4L323.7,357.7L323.7,344.4L323.8,348.6L323.9,359.7L323.9,360.9L324.0,356.5L324.1,347.4L324.1,345.9L324.2,344.2L324.3,342.3L324.3,343.6L324.4,350.8L324.5,358.3L324.5,360.2L324.6,359.0L324.7,349.8L324.7,355.9L324.8,358.4L324.8,358.1L324.9,358.0L325.0,352.7L325.0,350.8L325.1,352.6L325.2,353.3L325.2,356.0L325.3,358.3L325.4,358.5L325.4,358.7L325.5,351.3L325.6,349.5L325.6,353.2L325.7,356.8L325.8,355.8L325.8,356.1L325.9,359.8L326.0,354.1L326.0,343.0L326.1,347.3L326.2,353.7L326.2,358.5L326.3,359.9L326.4,356.0L326.4,350.2L326.5,354.4L326.6,346.9L326.6,343.6L326.7,349.5L326.8,351.9L326.8,350.6L326.9,356.1L327.0,357.1L327.0,352.6L327.1,353.1L327.1,352.6L327.2,347.7L327.3,348.0L327.3,347.7L327.4,350.9L327.5,347.0L327.5,349.2L327.6,349.3L327.7,347.7L327.7,354.2L327.8,354.7L327.9,349.5L327.9,345.7L328.0,349.0L328.1,354.6L328.1,352.3L328.2,349.8L328.3,344.9L328.3,355.7L328.4,359.2L328.5,357.8L328.5,355.7L328.6,353.8L328.7,352.8L328.7,350.1L328.8,353.0L328.9,347.0L328.9,351.6L329.0,353.0L329.1,348.0L329.1,347.6L329.2,347.5L329.2,348.6L329.3,353.2L329.4,354.2L329.4,353.3L329.5,354.8L329.6,358.3L329.6,359.9L329.7,354.1L329.8,322.9L329.8,352.2L329.9,348.4L330.0,350.2L330.0,354.2L330.1,354.6L330.2,349.8L330.2,350.7L330.3,355.1L330.4,355.7L330.4,358.2L330.5,357.6L330.6,359.6L330.6,358.3L330.7,357.2L330.8,357.1L330.8,354.9L330.9,356.2L331.0,352.0L331.0,349.2L331.1,354.0L331.2,347.5L331.2,346.4L331.3,350.4L331.4,349.3L331.4,353.5L331.5,353.1L331.5,356.4L331.6,357.0L331.7,355.9L331.7,359.1L331.8,359.9L331.9,358.3L331.9,358.6L332.0,356.3L332.1,358.5L332.1,352.3L332.2,349.7L332.3,352.1L332.3,357.8L332.4,358.3L332.5,353.0L332.5,349.6L332.6,346.0L332.7,354.7L332.7,354.0L332.8,356.7L332.9,359.6L332.9,359.1L333.0,359.3L333.1,359.0L333.1,358.7L333.2,359.1L333.3,353.8L333.3,349.9L333.4,352.3L333.5,344.5L333.5,340.3L333.6,345.3L333.6,344.6L333.7,344.8L333.8,352.2L333.8,350.9L333.9,357.9L334.0,357.8L334.0,355.1L334.1,351.4L334.2,348.9L334.2,349.0L334.3,349.9L334.4,354.2L334.4,359.2L334.5,360.5L334.6,355.5L334.6,354.1L334.7,351.6L334.8,350.3L334.8,348.8L334.9,350.8L335.0,351.2L335.0,354.6L335.1,356.0L335.2,351.2L335.2,352.0L335.3,355.2L335.4,352.2L335.4,344.4L335.5,347.5L335.6,353.4L335.6,357.9L335.7,356.2L335.8,356.8L335.8,351.7L335.9,353.0L335.9,354.8L336.0,354.4L336.1,356.0L336.1,351.1L336.2,353.2L336.3,352.0L336.3,352.9L336.4,351.5L336.5,352.0L336.5,356.5L336.6,359.4L336.7,357.7L336.7,354.8L336.8,358.7L336.9,355.8L336.9,355.3L337.0,357.1L337.1,358.7L337.1,357.1L337.2,353.5L337.3,354.1L337.3,359.3L337.4,359.7L337.5,360.3L337.5,360.4L337.6,356.6L337.7,358.4L337.7,359.6L337.8,357.3L337.9,355.4L337.9,349.1L338.0,354.3L338.0,352.7L338.1,352.8L338.2,359.4L338.2,359.8L338.3,360.2L338.4,358.3L338.4,355.3L338.5,328.8L338.6,350.8L338.6,356.0L338.7,353.6L338.8,351.0L338.8,352.0L338.9,354.8L339.0,354.7L339.0,355.6L339.1,353.5L339.2,356.6L339.2,355.3L339.3,352.3L339.4,345.8L339.4,350.4L339.5,350.2L339.6,349.2L339.6,348.5L339.7,356.6L339.8,358.4L339.8,347.6L339.9,348.3L340.0,350.5L340.0,351.0L340.1,350.1L340.1,353.4L340.2,351.9L340.3,347.5L340.3,350.7L340.4,356.7L340.5,355.1L340.5,354.2L340.6,355.3L340.7,354.6L340.7,354.8L340.8,352.5L340.9,356.0L340.9,356.2L341.0,359.0L341.1,358.7L341.1,358.7L341.2,358.3L341.3,358.7L341.3,359.0L341.4,357.3L341.5,346.3L341.5,344.3L341.6,350.9L341.7,358.0L341.7,353.8L341.8,356.2L341.9,355.3L341.9,359.6L342.0,358.4L342.1,355.4L342.1,348.5L342.2,341.6L342.3,350.1L342.3,356.2L342.4,350.0L342.4,348.7L342.5,356.7L342.6,358.0L342.6,353.9L342.7,350.2L342.8,353.6L342.8,354.6L342.9,352.5L343.0,354.3L343.0,357.1L343.1,356.3L343.2,353.7L343.2,355.5L343.3,358.5L343.4,360.0L343.4,360.2L343.5,359.9L343.6,358.8L343.6,356.1L343.7,353.1L343.8,356.1L343.8,352.5L343.9,348.2L344.0,351.1L344.0,355.8L344.1,359.1L344.2,360.7L344.2,361.4L344.3,359.1L344.4,352.4L344.4,355.7L344.5,358.1L344.5,355.8L344.6,356.4L344.7,354.9L344.7,355.5L344.8,359.5L344.9,354.2L344.9,355.0L345.0,359.6L345.1,358.4L345.1,359.0L345.2,357.6L345.3,359.6L345.3,358.8L345.4,355.0L345.5,351.2L345.5,356.6L345.6,360.2L345.7,358.8L345.7,358.1L345.8,359.9L345.9,360.0L345.9,358.7L346.0,355.0L346.1,355.9L346.1,353.5L346.2,352.3L346.3,353.6L346.3,352.1L346.4,351.0L346.5,353.4L346.5,354.5L346.6,353.3L346.7,352.8L346.7,349.6L346.8,354.9L346.8,359.6L346.9,359.4L347.0,359.1L347.0,359.6L347.1,356.8L347.2,354.3L347.2,351.9L347.3,353.1L347.4,351.7L347.4,350.8L347.5,355.2L347.6,350.9L347.6,351.9L347.7,353.8L347.8,351.5L347.8,350.5L347.9,357.5L348.0,361.1L348.0,360.3L348.1,359.5L348.2,358.8L348.2,357.8L348.3,352.1L348.4,355.4L348.4,352.7L348.5,354.3L348.6,352.3L348.6,352.6L348.7,359.1L348.8,359.9L348.8,360.2L348.9,360.4L348.9,358.7L349.0,355.3L349.1,358.3L349.1,359.0L349.2,358.9L349.3,359.4L349.3,357.8L349.4,348.3L349.5,346.5L349.5,353.6L349.6,357.3L349.7,354.2L349.7,353.0L349.8,356.1L349.9,352.3L349.9,350.4L350.0,355.2L350.1,357.3L350.1,354.4L350.2,355.2L350.3,349.8L350.3,353.0L350.4,356.1L350.5,347.7L350.5,348.5L350.6,353.6L350.7,352.3L350.7,352.9L350.8,350.9L350.9,353.9L350.9,356.2L351.0,358.8L351.1,351.4L351.1,353.0L351.2,359.9L351.2,361.9L351.3,361.4L351.4,358.1L351.4,357.9L351.5,357.5L351.6,350.3L351.6,350.0L351.7,356.4L351.8,356.6L351.8,353.5L351.9,351.3L352.0,350.5L352.0,353.6L352.1,351.0L352.2,350.1L352.2,353.1L352.3,352.1L352.4,352.9L352.4,350.1L352.5,344.5L352.6,351.7L352.6,358.2L352.7,359.1L352.8,357.3L352.8,348.2L352.9,354.9L353.0,356.5L353.0,354.8L353.1,357.6L353.2,352.2L353.2,356.7L353.3,358.6L353.3,358.1L353.4,357.1L353.5,357.9L353.5,352.4L353.6,350.8L353.7,353.5L353.7,352.2L353.8,357.3L353.9,359.3L353.9,352.0L354.0,345.5L354.1,352.0L354.1,357.9L354.2,359.9L354.3,353.0L354.3,349.1L354.4,351.1L354.5,357.9L354.5,358.2L354.6,360.1L354.7,359.6L354.7,355.9L354.8,355.0L354.9,349.2L354.9,346.8L355.0,345.2L355.1,345.7L355.1,352.1L355.2,356.3L355.3,357.2L355.3,355.7L355.4,346.8L355.5,348.9L355.5,356.1L355.6,357.5L355.6,353.6L355.7,350.2L355.8,355.7L355.8,358.9L355.9,357.9L356.0,358.7L356.0,359.6L356.1,358.1L356.2,353.2L356.2,349.1L356.3,358.5L356.4,354.2L356.4,349.8L356.5,350.6L356.6,350.4L356.6,346.9L356.7,345.7L356.8,351.6L356.8,356.9L356.9,358.2L357.0,355.3L357.0,359.4L357.1,358.3L357.2,361.2L357.2,361.3L357.3,356.3L357.4,350.4L357.4,346.4L357.5,350.5L357.6,352.7L357.6,351.4L357.7,356.8L357.7,357.7L357.8,350.3L357.9,354.2L357.9,350.4L358.0,351.6L358.1,357.6L358.1,353.9L358.2,355.0L358.3,350.6L358.3,353.0L358.4,356.2L358.5,359.5L358.5,358.6L358.6,358.8L358.7,355.8L358.7,351.4L358.8,352.3L358.9,351.8L358.9,351.9L359.0,352.7L359.1,357.1L359.1,360.0L359.2,358.2L359.3,353.1L359.3,347.0L359.4,355.9L359.5,358.5L359.5,359.0L359.6,354.9L359.7,353.6L359.7,352.3L359.8,351.9L359.8,351.3L359.9,356.7L360.0,356.0L360.0,355.7L360.1,351.5L360.2,353.9L360.2,352.4L360.3,349.4L360.4,355.1L360.4,357.9L360.5,357.4L360.6,355.1L360.6,344.3L360.7,346.3L360.8,352.3L360.8,358.5L360.9,358.1L361.0,348.3L361.0,344.7L361.1,349.2L361.2,355.5L361.2,355.4L361.3,351.8L361.4,357.9L361.4,359.7L361.5,356.3L361.6,346.8L361.6,354.0L361.7,359.0L361.8,356.3L361.8,346.4L361.9,350.2L362.0,355.7L362.0,354.7L362.1,353.0L362.1,354.4L362.2,358.8L362.3,359.3L362.3,354.3L362.4,350.3L362.5,352.1L362.5,347.2L362.6,349.5L362.7,353.1L362.7,351.1L362.8,355.2L362.9,348.2L362.9,349.4L363.0,349.6L363.1,355.2L363.1,359.8L363.2,358.1L363.3,356.2L363.3,349.8L363.4,351.2L363.5,348.4L363.5,349.9L363.6,346.1L363.7,347.5L363.7,349.3L363.8,351.7L363.9,357.2L363.9,359.2L364.0,358.5L364.1,353.5L364.1,347.3L364.2,347.5L364.2,346.3L364.3,353.4L364.4,358.9L364.4,359.3L364.5,357.3L364.6,358.4L364.6,359.8L364.7,360.2L364.8,352.8L364.8,350.6L364.9,353.3L365.0,354.0L365.0,357.9L365.1,358.8L365.2,352.8L365.2,345.8L365.3,355.5L365.4,354.9L365.4,355.7L365.5,355.0L365.6,358.4L365.6,358.1L365.7,357.7L365.8,353.2L365.8,345.5L365.9,348.2L366.0,352.5L366.0,358.1L366.1,360.6L366.2,359.3L366.2,355.2L366.3,354.7L366.4,356.9L366.4,356.0L366.5,357.7L366.5,358.9L366.6,355.7L366.7,359.2L366.7,354.2L366.8,347.2L366.9,347.6L366.9,350.3L367.0,357.6L367.1,358.6L367.1,356.8L367.2,352.8L367.3,357.3L367.3,359.4L367.4,358.7L367.5,359.0L367.5,350.5L367.6,348.2L367.7,354.3L367.7,355.1L367.8,347.7L367.9,353.2L367.9,357.5L368.0,358.4L368.1,355.3L368.1,356.2L368.2,351.3L368.3,352.3L368.3,354.0L368.4,358.3L368.5,355.6L368.5,353.5L368.6,356.7L368.6,357.0L368.7,357.2L368.8,357.7L368.8,359.6L368.9,355.5L369.0,345.3L369.0,355.3L369.1,357.2L369.2,354.3L369.2,355.4L369.3,359.7L369.4,358.3L369.4,347.9L369.5,351.4L369.6,359.6L369.6,357.4L369.7,353.9L369.8,354.3L369.8,353.1L369.9,354.3L370.0,353.7L370.0,359.2L370.1,349.2L370.2,342.8L370.2,344.8L370.3,357.0L370.4,360.4L370.4,352.7L370.5,354.3L370.6,355.8L370.6,354.2L370.7,353.3L370.8,355.0L370.8,356.0L370.9,354.6L370.9,352.5L371.0,349.7L371.1,352.8L371.1,349.9L371.2,355.7L371.3,357.6L371.3,357.0L371.4,360.6L371.5,360.8L371.5,357.7L371.6,352.6L371.7,354.6L371.7,358.0L371.8,356.3L371.9,355.2L371.9,360.5L372.0,359.7L372.1,353.6L372.1,347.4L372.2,350.4L372.3,354.5L372.3,346.6L372.4,351.4L372.5,358.1L372.5,351.1L372.6,351.7L372.7,358.2L372.7,359.6L372.8,348.9L372.9,348.2L372.9,353.3L373.0,356.9L373.0,355.7L373.1,353.0L373.2,354.1L373.2,355.7L373.3,356.5L373.4,357.3L373.4,359.1L373.5,353.9L373.6,347.9L373.6,353.2L373.7,355.6L373.8,345.7L373.8,345.9L373.9,353.8L374.0,357.0L374.0,351.3L374.1,358.5L374.2,360.4L374.2,356.4L374.3,356.2L374.4,354.0L374.4,355.2L374.5,359.0L374.6,360.6L374.6,360.8L374.7,360.2L374.8,353.7L374.8,347.0L374.9,352.4L375.0,356.3L375.0,359.0L375.1,356.7L375.2,346.2L375.2,349.4L375.3,356.1L375.3,358.1L375.4,358.4L375.5,361.8L375.5,352.6L375.6,334.3L375.7,352.6L375.7,350.4L375.8,355.3L375.9,359.8L375.9,360.2L376.0,360.6L376.1,358.1L376.1,356.7L376.2,352.8L376.3,353.7L376.3,355.6L376.4,357.4L376.5,356.5L376.5,355.6L376.6,357.3L376.7,357.5L376.7,359.0L376.8,355.0L376.9,352.7L376.9,359.4L377.0,358.9L377.1,353.7L377.1,354.8L377.2,358.6L377.3,357.0L377.3,353.3L377.4,357.7L377.4,358.1L377.5,360.3L377.6,360.7L377.6,358.0L377.7,359.1L377.8,357.9L377.8,358.9L377.9,357.2L378.0,357.1L378.0,350.7L378.1,346.5L378.2,350.2L378.2,355.3L378.3,354.7L378.4,353.9L378.4,352.8L378.5,351.8L378.6,356.0L378.6,357.9L378.7,355.5L378.8,357.7L378.8,353.8L378.9,352.7L379.0,349.5L379.0,349.9L379.1,358.0L379.2,361.8L379.2,360.3L379.3,353.8L379.4,356.6L379.4,357.3L379.5,353.6L379.5,349.6L379.6,350.6L379.7,346.1L379.7,356.3L379.8,360.6L379.9,359.5L379.9,359.3L380.0,354.7L380.1,349.7L380.1,346.7L380.2,344.6L380.3,348.7L380.3,355.7L380.4,354.0L380.5,357.1L380.5,354.5L380.6,350.5L380.7,356.4L380.7,356.5L380.8,353.6L380.9,354.4L380.9,355.9L381.0,357.6L381.1,356.6L381.1,359.5L381.2,359.0L381.3,357.2L381.3,350.9L381.4,350.0L381.5,356.7L381.5,353.8L381.6,345.3L381.7,347.9L381.7,352.8L381.8,352.5L381.8,347.4L381.9,350.7L382.0,353.7L382.0,356.1L382.1,351.6L382.2,355.3L382.2,359.0L382.3,354.1L382.4,348.4L382.4,348.3L382.5,355.1L382.6,358.1L382.6,355.7L382.7,357.5L382.8,351.8L382.8,355.3L382.9,357.7L383.0,352.4L383.0,355.5L383.1,357.4L383.2,355.9L383.2,352.0L383.3,350.2L383.4,351.8L383.4,344.3L383.5,352.3L383.6,353.5L383.6,354.4L383.7,355.6L383.8,358.5L383.8,359.2L383.9,359.3L383.9,358.6L384.0,356.3L384.1,354.5L384.1,357.2L384.2,357.0L384.3,352.8L384.3,356.4L384.4,350.7L384.5,350.4L384.5,349.1L384.6,346.3L384.7,355.7L384.7,358.1L384.8,357.7L384.9,359.0L384.9,350.9L385.0,354.2L385.1,355.4L385.1,349.7L385.2,350.7L385.3,351.5L385.3,354.8L385.4,354.1L385.5,359.0L385.5,359.3L385.6,355.2L385.7,357.7L385.7,357.6L385.8,355.6L385.9,357.3L385.9,353.3L386.0,338.2L386.1,353.1L386.1,353.0L386.2,351.8L386.2,352.5L386.3,356.7L386.4,356.9L386.4,356.5L386.5,352.0L386.6,350.5L386.6,349.8L386.7,354.6L386.8,354.2L386.8,352.5L386.9,354.0L387.0,350.0L387.0,352.4L387.1,354.9L387.2,353.8L387.2,353.6L387.3,349.9L387.4,356.4L387.4,360.0L387.5,359.7L387.6,359.3L387.6,358.7L387.7,352.7L387.8,348.2L387.8,349.6L387.9,354.5L388.0,354.0L388.0,344.1L388.1,349.8L388.2,354.0L388.2,355.8L388.3,351.1L388.3,348.1L388.4,354.0L388.5,351.5L388.5,347.0L388.6,346.5L388.7,344.8L388.7,345.4L388.8,351.9L388.9,355.9L388.9,359.0L389.0,356.7L389.1,354.6L389.1,354.7L389.2,353.2L389.3,356.2L389.3,361.0L389.4,361.1L389.5,358.2L389.5,352.0L389.6,352.9L389.7,355.6L389.7,348.2L389.8,351.5L389.9,352.1L389.9,346.5L390.0,348.7L390.1,352.3L390.1,351.0L390.2,355.8L390.3,358.9L390.3,359.4L390.4,352.8L390.5,348.2L390.5,346.7L390.6,353.0L390.6,356.6L390.7,355.1L390.8,359.1L390.8,355.9L390.9,351.3L391.0,353.7L391.0,357.6L391.1,357.1L391.2,356.3L391.2,356.0L391.3,356.2L391.4,352.6L391.4,352.6L391.5,356.8L391.6,354.1L391.6,353.2L391.7,353.9L391.8,351.3L391.8,350.8L391.9,352.9L392.0,359.6L392.0,359.5L392.1,356.0L392.2,354.4L392.2,352.6L392.3,351.6L392.4,350.7L392.4,354.2L392.5,352.9L392.6,344.8L392.6,347.4L392.7,349.7L392.7,353.1L392.8,349.3L392.9,349.2L392.9,357.8L393.0,359.1L393.1,356.5L393.1,355.8L393.2,351.5L393.3,351.9L393.3,353.6L393.4,356.2L393.5,357.6L393.5,359.0L393.6,358.9L393.7,354.4L393.7,354.0L393.8,355.1L393.9,356.4L393.9,356.9L394.0,352.0L394.1,349.6L394.1,353.4L394.2,352.2L394.3,353.8L394.3,354.8L394.4,356.6L394.5,358.9L394.5,353.8L394.6,350.4L394.7,348.4L394.7,354.2L394.8,354.2L394.9,348.8L394.9,351.8L395.0,359.3L395.0,358.9L395.1,356.2L395.2,357.6L395.2,356.4L395.3,358.8L395.4,360.1L395.4,358.0L395.5,358.7L395.6,360.6L395.6,361.7L395.7,359.7L395.8,356.0L395.8,352.0L395.9,351.9L396.0,349.6L396.0,352.6L396.1,352.7L396.2,354.9L396.2,359.0L396.3,355.3L396.4,353.1L396.4,354.9L396.5,353.2L396.6,355.1L396.6,357.6L396.7,358.9L396.8,353.5L396.8,347.3L396.9,351.0L397.0,351.8L397.0,353.4L397.1,349.8L397.1,352.7L397.2,355.3L397.3,355.5L397.3,356.4L397.4,356.4L397.5,354.2L397.5,345.4L397.6,352.5L397.7,358.7L397.7,360.0L397.8,358.1L397.9,353.9L397.9,353.6L398.0,358.4L398.1,360.0L398.1,350.1L398.2,351.1L398.3,352.9L398.3,352.6L398.4,351.6L398.5,351.9L398.5,354.4L398.6,357.5L398.7,356.8L398.7,358.7L398.8,355.2L398.9,353.4L398.9,350.8L399.0,352.6L399.1,358.3L399.1,361.1L399.2,360.8L399.2,358.7L399.3,356.2L399.4,348.1L399.4,354.8L399.5,358.5L399.6,355.6L399.6,357.5L399.7,352.3L399.8,333.7L399.8,347.7L399.9,355.7L400.0,359.7L400.0,357.6L400.1,353.5L400.2,350.9L400.2,353.9L400.3,348.3L400.4,347.0L400.4,352.7L400.5,354.5L400.6,353.4L400.6,357.4L400.7,359.5L400.8,359.0L400.8,355.5L400.9,357.1L401.0,357.8L401.0,357.5L401.1,355.8L401.2,355.6L401.2,355.0L401.3,356.3L401.4,352.5L401.4,353.7L401.5,350.9L401.5,346.4L401.6,352.3L401.7,356.5L401.7,357.5L401.8,358.5L401.9,353.7L401.9,352.6L402.0,357.1L402.1,351.7L402.1,352.2L402.2,354.5L402.3,353.1L402.3,353.1L402.4,349.2L402.5,351.4L402.5,347.3L402.6,347.2L402.7,357.0L402.7,360.3L402.8,355.9L402.9,348.4L402.9,353.1L403.0,356.5L403.1,359.9L403.1,360.7L403.2,360.6L403.3,360.7L403.3,356.8L403.4,348.5L403.5,346.6L403.5,346.1L403.6,347.4L403.6,350.5L403.7,356.0L403.8,352.2L403.8,353.2L403.9,355.9L404.0,352.7L404.0,346.7L404.1,352.9L404.2,360.8L404.2,361.6L404.3,359.8L404.4,352.8L404.4,351.9L404.5,351.4L404.6,353.1L404.6,358.5L404.7,360.4L404.8,359.8L404.8,355.4L404.9,350.2L405.0,352.2L405.0,354.9L405.1,360.2L405.2,359.8L405.2,357.5L405.3,359.9L405.4,354.7L405.4,352.2L405.5,357.4L405.6,352.9L405.6,351.3L405.7,348.5L405.8,354.9L405.8,358.2L405.9,354.8L405.9,351.4L406.0,354.7L406.1,356.7L406.1,350.6L406.2,349.8L406.3,353.5L406.3,354.9L406.4,350.6L406.5,348.3L406.5,355.3L406.6,355.8L406.7,351.5L406.7,356.9L406.8,353.7L406.9,344.4L406.9,346.0L407.0,351.9L407.1,356.7L407.1,360.1L407.2,358.4L407.3,355.2L407.3,352.5L407.4,349.3L407.5,351.6L407.5,356.8L407.6,353.6L407.7,356.9L407.7,355.6L407.8,356.2L407.9,361.1L407.9,361.0L408.0,356.7L408.0,356.7L408.1,358.4L408.2,357.0L408.2,354.7L408.3,350.3L408.4,354.5L408.4,357.4L408.5,353.6L408.6,339.6L408.6,354.9L408.7,354.6L408.8,357.1L408.8,361.4L408.9,358.5L409.0,352.7L409.0,355.2L409.1,352.9L409.2,346.3L409.2,346.2L409.3,353.4L409.4,355.4L409.4,358.0L409.5,352.1L409.6,353.1L409.6,349.7L409.7,352.3L409.8,358.9L409.8,360.1L409.9,355.5L410.0,355.6L410.0,356.9L410.1,352.8L410.2,350.3L410.2,353.7L410.3,348.5L410.3,348.7L410.4,358.9L410.5,352.2L410.5,343.9L410.6,352.0L410.7,352.5L410.7,344.7L410.8,347.1L410.9,357.6L410.9,355.7L411.0,352.8L411.1,349.7L411.1,351.6L411.2,352.3L411.3,356.5L411.3,353.8L411.4,350.9L411.5,357.6L411.5,359.3L411.6,353.6L411.7,357.6L411.7,359.5L411.8,359.2L411.9,357.1L411.9,350.9L412.0,355.1L412.1,355.5L412.1,350.8L412.2,348.3L412.3,336.6L412.3,351.1L412.4,356.1L412.4,352.7L412.5,352.8L412.6,355.6L412.6,358.2L412.7,354.9L412.8,352.3L412.8,358.4L412.9,360.5L413.0,359.8L413.0,360.9L413.1,360.5L413.2,355.8L413.2,357.5L413.3,359.3L413.4,356.1L413.4,355.2L413.5,352.1L413.6,354.6L413.6,352.4L413.7,353.6L413.8,353.8L413.8,354.7L413.9,358.8L414.0,357.2L414.0,353.1L414.1,352.9L414.2,357.8L414.2,359.6L414.3,358.2L414.4,357.3L414.4,361.3L414.5,362.1L414.6,359.4L414.6,353.0L414.7,353.5L414.7,357.1L414.8,355.5L414.9,353.5L414.9,354.9L415.0,352.0L415.1,353.9L415.1,358.8L415.2,357.7L415.3,355.5L415.3,349.7L415.4,354.5L415.5,358.7L415.5,359.7L415.6,358.4L415.7,355.1L415.7,356.7L415.8,354.6L415.9,353.4L415.9,349.9L416.0,354.1L416.1,353.9L416.1,358.3L416.2,360.7L416.3,356.7L416.3,351.4L416.4,352.4L416.5,358.0L416.5,357.7L416.6,354.8L416.7,355.4L416.7,355.5L416.8,352.8L416.8,352.2L416.9,357.4L417.0,356.7L417.0,347.6L417.1,353.6L417.2,359.8L417.2,360.1L417.3,356.6L417.4,352.7L417.4,355.1L417.5,356.3L417.6,355.9L417.6,354.0L417.7,349.1L417.8,345.5L417.8,344.5L417.9,351.1L418.0,358.3L418.0,354.7L418.1,357.2L418.2,357.3L418.2,354.3L418.3,356.3L418.4,356.8L418.4,355.7L418.5,352.3L418.6,347.6L418.6,357.9L418.7,359.6L418.8,354.0L418.8,357.0L418.9,360.2L418.9,360.8L419.0,358.2L419.1,359.2L419.1,360.8L419.2,360.9L419.3,358.0L419.3,347.7L419.4,346.8L419.5,356.9L419.5,357.9L419.6,354.7L419.7,353.7L419.7,350.3L419.8,352.7L419.9,353.5L419.9,356.8L420.0,352.7L420.1,345.7L420.1,348.1L420.2,351.7L420.3,358.9L420.3,351.9L420.4,345.1L420.5,348.4L420.5,346.9L420.6,356.5L420.7,360.0L420.7,360.6L420.8,361.1L420.9,356.1L420.9,350.9L421.0,355.0L421.1,357.5L421.1,354.1L421.2,350.8L421.2,356.6L421.3,352.4L421.4,349.5L421.4,356.6L421.5,357.3L421.6,356.0L421.6,347.7L421.7,349.4L421.8,351.1L421.8,358.1L421.9,359.9L422.0,355.0L422.0,356.5L422.1,357.1L422.2,356.5L422.2,356.4L422.3,355.7L422.4,353.0L422.4,359.8L422.5,356.2L422.6,353.4L422.6,353.1L422.7,346.1L422.8,349.6L422.8,355.5L422.9,355.6L423.0,356.8L423.0,354.1L423.1,357.3L423.2,358.4L423.2,355.8L423.3,356.6L423.3,359.8L423.4,358.1L423.5,359.9L423.5,360.4L423.6,359.3L423.7,355.2L423.7,351.7L423.8,350.5L423.9,353.5L423.9,355.1L424.0,350.3L424.1,335.0L424.1,347.7L424.2,351.8L424.3,346.7L424.3,349.5L424.4,350.2L424.5,353.2L424.5,351.1L424.6,351.3L424.7,354.7L424.7,357.7L424.8,355.3L424.9,353.2L424.9,348.7L425.0,348.0L425.1,354.2L425.1,357.5L425.2,355.3L425.3,357.5L425.3,360.7L425.4,360.8L425.5,353.4L425.5,345.5L425.6,351.0L425.6,351.6L425.7,353.3L425.8,357.3L425.8,354.8L425.9,353.7L426.0,352.5L426.0,354.9L426.1,357.3L426.2,349.9L426.2,345.6L426.3,357.2L426.4,358.9L426.4,359.1L426.5,360.8L426.6,360.1L426.6,359.4L426.7,359.4L426.8,357.6L426.8,350.7L426.9,351.0L427.0,353.2L427.0,355.0L427.1,356.3L427.2,351.0L427.2,350.4L427.3,351.0L427.4,355.8L427.4,355.9L427.5,358.0L427.6,359.5L427.6,357.4L427.7,355.4L427.7,359.4L427.8,355.6L427.9,350.5L427.9,352.9L428.0,351.8L428.1,352.1L428.1,357.7L428.2,359.5L428.3,359.5L428.3,357.7L428.4,354.3L428.5,358.3L428.5,352.7L428.6,349.6L428.7,351.6L428.7,357.1L428.8,354.1L428.9,353.2L428.9,350.7L429.0,356.2L429.1,351.4L429.1,345.4L429.2,352.7L429.3,350.7L429.3,353.5L429.4,346.9L429.5,343.4L429.5,344.4L429.6,347.2L429.7,351.1L429.7,356.1L429.8,358.0L429.9,354.7L429.9,355.8L430.0,354.5L430.0,353.8L430.1,355.8L430.2,354.0L430.2,356.3L430.3,351.3L430.4,357.2L430.4,356.8L430.5,353.9L430.6,358.6L430.6,360.7L430.7,360.0L430.8,358.8L430.8,359.3L430.9,358.8L431.0,359.2L431.0,358.9L431.1,360.5L431.2,361.1L431.2,360.4L431.3,355.1L431.4,358.3L431.4,358.0L431.5,352.6L431.6,351.8L431.6,356.8L431.7,359.0L431.8,357.0L431.8,356.1L431.9,355.2L432.0,356.2L432.0,352.3L432.1,353.9L432.1,354.3L432.2,357.2L432.3,358.0L432.3,359.6L432.4,360.4L432.5,356.5L432.5,351.6L432.6,348.4L432.7,349.3L432.7,351.0L432.8,354.0L432.9,360.4L432.9,358.7L433.0,352.5L433.1,353.7L433.1,357.1L433.2,353.8L433.3,352.1L433.3,347.6L433.4,352.6L433.5,360.2L433.5,360.3L433.6,357.9L433.7,352.2L433.7,348.4L433.8,355.0L433.9,353.8L433.9,354.1L434.0,359.6L434.1,361.0L434.1,359.4L434.2,352.7L434.3,346.8L434.3,354.0L434.4,350.0L434.4,345.7L434.5,350.8L434.6,353.8L434.6,357.5L434.7,351.8L434.8,353.7L434.8,360.6L434.9,360.4L435.0,359.3L435.0,354.6L435.1,356.9L435.2,360.0L435.2,361.6L435.3,362.0L435.4,359.0L435.4,348.9L435.5,351.3L435.6,356.8L435.6,353.8L435.7,350.3L435.8,352.2L435.8,349.8L435.9,352.5L436.0,351.5L436.0,351.4L436.1,350.7L436.2,349.3L436.2,354.8L436.3,352.8L436.4,355.4L436.4,359.5L436.5,352.5L436.5,334.2L436.6,349.3L436.7,352.4L436.7,350.4L436.8,353.4L436.9,358.5L436.9,357.4L437.0,351.7L437.1,352.2L437.1,347.0L437.2,346.0L437.3,348.0L437.3,350.1L437.4,358.8L437.5,359.1L437.5,354.7L437.6,347.8L437.7,351.8L437.7,358.1L437.8,358.1L437.9,356.8L437.9,353.4L438.0,352.5L438.1,354.0L438.1,351.6L438.2,353.8L438.3,359.9L438.3,360.1L438.4,354.2L438.5,353.9L438.5,356.4L438.6,355.7L438.6,351.1L438.7,347.1L438.8,351.2L438.8,351.8L438.9,353.5L439.0,352.5L439.0,348.2L439.1,351.1L439.2,355.9L439.2,351.3L439.3,353.7L439.4,357.7L439.4,359.8L439.5,350.8L439.6,347.2L439.6,358.1L439.7,356.1L439.8,349.6L439.8,353.6L439.9,354.6L440.0,353.9L440.0,358.9L440.1,356.9L440.2,358.8L440.2,358.6L440.3,358.0L440.4,358.8L440.4,354.4L440.5,347.4L440.6,349.9L440.6,349.1L440.7,350.1L440.8,356.5L440.8,356.5L440.9,357.3L440.9,350.2L441.0,353.9L441.1,355.2L441.1,355.2L441.2,356.5L441.3,357.5L441.3,353.1L441.4,352.9L441.5,354.4L441.5,356.5L441.6,352.7L441.7,348.9L441.7,351.4L441.8,354.4L441.9,353.4L441.9,351.7L442.0,353.6L442.1,358.5L442.1,358.2L442.2,349.4L442.3,350.9L442.3,355.8L442.4,356.0L442.5,350.8L442.5,348.9L442.6,355.8L442.7,355.1L442.7,352.3L442.8,352.4L442.9,355.7L442.9,354.2L443.0,350.3L443.0,355.0L443.1,355.9L443.2,355.4L443.2,359.6L443.3,357.8L443.4,354.3L443.4,353.8L443.5,350.3L443.6,351.4L443.6,352.1L443.7,350.4L443.8,345.3L443.8,349.4L443.9,356.9L444.0,354.2L444.0,356.6L444.1,354.8L444.2,348.8L444.2,353.5L444.3,349.2L444.4,355.9L444.4,359.2L444.5,359.4L444.6,353.8L444.6,346.9L444.7,353.1L444.8,359.9L444.8,359.7L444.9,356.7L445.0,356.4L445.0,356.6L445.1,349.6L445.2,347.2L445.2,353.8L445.3,354.6L445.3,353.1L445.4,351.8L445.5,358.5L445.5,359.3L445.6,359.3L445.7,354.4L445.7,353.9L445.8,357.1L445.9,354.0L445.9,347.6L446.0,352.0L446.1,354.6L446.1,352.1L446.2,353.6L446.3,356.9L446.3,349.5L446.4,346.4L446.5,354.6L446.5,341.5L446.6,352.5L446.7,349.9L446.7,353.3L446.8,354.3L446.9,357.8L446.9,357.2L447.0,355.1L447.1,350.0L447.1,353.5L447.2,357.1L447.3,353.4L447.3,357.0L447.4,354.2L447.4,350.9L447.5,359.2L447.6,358.7L447.6,355.4L447.7,358.6L447.8,355.7L447.8,354.1L447.9,354.0L448.0,354.3L448.0,351.1L448.1,353.2L448.2,354.4L448.2,351.3L448.3,351.9L448.4,354.6L448.4,348.5L448.5,348.9L448.6,350.4L448.6,349.9L448.7,346.8L448.8,350.4L448.8,355.9L448.9,356.4L449.0,355.4L449.0,356.6L449.1,354.3L449.2,349.2L449.2,353.4L449.3,356.2L449.4,357.9L449.4,358.2L449.5,357.0L449.6,353.5L449.6,352.5L449.7,356.4L449.7,355.7L449.8,355.6L449.9,347.8L449.9,354.0L450.0,359.4L450.1,356.5L450.1,353.2L450.2,359.0L450.3,359.3L450.3,354.4L450.4,358.0L450.5,360.0L450.5,356.1L450.6,346.3L450.7,346.6L450.7,352.7L450.8,355.3L450.9,349.3L450.9,347.3L451.0,350.2L451.1,357.6L451.1,361.0L451.2,360.3L451.3,354.7L451.3,351.9L451.4,351.8L451.5,358.1L451.5,360.1L451.6,355.3L451.7,355.2L451.7,353.5L451.8,357.1L451.8,359.9L451.9,353.5L452.0,343.5L452.0,352.6L452.1,354.5L452.2,353.1L452.2,355.0L452.3,354.8L452.4,356.5L452.4,357.1L452.5,353.5L452.6,349.7L452.6,352.4L452.7,352.2L452.8,350.5L452.8,349.7L452.9,355.3L453.0,356.0L453.0,359.1L453.1,356.8L453.2,349.1L453.2,351.9L453.3,358.2L453.4,358.9L453.4,354.5L453.5,352.7L453.6,355.0L453.6,359.7L453.7,356.1L453.8,357.3L453.8,357.8L453.9,357.4L454.0,356.4L454.0,355.6L454.1,360.5L454.1,360.2L454.2,357.8L454.3,355.2L454.3,351.7L454.4,352.6L454.5,359.3L454.5,357.1L454.6,357.1L454.7,356.7L454.7,357.1L454.8,353.7L454.9,353.6L454.9,357.7L455.0,352.8L455.1,350.9L455.1,354.1L455.2,358.1L455.3,359.2L455.3,357.6L455.4,358.5L455.5,359.9L455.5,359.8L455.6,356.1L455.7,354.4L455.7,355.9L455.8,359.7L455.9,358.0L455.9,357.1L456.0,358.7L456.1,358.7L456.1,355.8L456.2,352.6L456.2,351.5L456.3,356.2L456.4,359.8L456.4,360.4L456.5,358.9L456.6,351.5L456.6,349.5L456.7,352.5L456.8,353.0L456.8,349.8L456.9,354.8L457.0,354.5L457.0,349.2L457.1,348.4L457.2,353.4L457.2,353.0L457.3,356.3L457.4,360.0L457.4,360.1L457.5,355.7L457.6,349.6L457.6,351.6L457.7,354.0L457.8,354.9L457.8,353.9L457.9,358.6L458.0,360.2L458.0,359.4L458.1,352.5L458.2,351.8L458.2,351.2L458.3,355.7L458.3,359.8L458.4,355.2L458.5,355.1L458.5,355.6L458.6,350.8L458.7,356.0L458.7,354.5L458.8,354.1L458.9,354.5L458.9,354.0L459.0,359.0L459.1,353.5L459.1,344.9L459.2,355.9L459.3,360.0L459.3,357.6L459.4,356.7L459.5,361.2L459.5,360.8L459.6,355.1L459.7,352.6L459.7,356.6L459.8,358.3L459.9,356.2L459.9,352.3L460.0,354.6L460.1,359.3L460.1,357.5L460.2,349.1L460.3,350.5L460.3,358.6L460.4,358.0L460.5,359.8L460.5,359.0L460.6,351.9L460.6,350.7L460.7,330.3L460.8,350.7L460.8,357.6L460.9,359.7L461.0,357.8L461.0,359.4L461.1,358.7L461.2,352.8L461.2,352.0L461.3,352.2L461.4,354.8L461.4,356.9L461.5,353.6L461.6,355.4L461.6,357.8L461.7,352.8L461.8,354.2L461.8,356.8L461.9,356.8L462.0,355.4L462.0,351.3L462.1,352.4L462.2,359.7L462.2,359.7L462.3,352.8L462.4,351.7L462.4,357.5L462.5,358.2L462.6,352.4L462.6,350.9L462.7,358.8L462.7,357.1L462.8,348.4L462.9,355.8L462.9,359.3L463.0,353.8L463.1,356.0L463.1,353.3L463.2,353.2L463.3,358.5L463.3,355.6L463.4,355.8L463.5,358.0L463.5,353.5L463.6,350.7L463.7,353.8L463.7,341.7L463.8,355.9L463.9,354.1L463.9,352.2L464.0,348.7L464.1,351.7L464.1,355.3L464.2,359.4L464.3,362.0L464.3,361.1L464.4,358.5L464.5,355.0L464.5,359.7L464.6,359.3L464.7,354.9L464.7,353.6L464.8,352.1L464.9,344.3L464.9,344.4L465.0,354.2L465.0,357.7L465.1,352.6L465.2,348.6L465.2,350.5L465.3,352.8L465.4,358.1L465.4,356.4L465.5,351.0L465.6,351.6L465.6,358.3L465.7,360.0L465.8,359.4L465.8,355.3L465.9,357.8L466.0,359.5L466.0,357.2L466.1,355.1L466.2,355.9L466.2,341.7L466.3,355.9L466.4,353.7L466.4,353.7L466.5,351.6L466.6,355.4L466.6,357.3L466.7,356.2L466.8,358.1L466.8,355.8L466.9,349.6L467.0,354.3L467.0,350.3L467.1,354.5L467.1,360.9L467.2,360.5L467.3,355.5L467.3,354.8L467.4,358.4L467.5,357.6L467.5,357.1L467.6,354.8L467.7,352.3L467.7,353.0L467.8,354.9L467.9,359.4L467.9,359.6L468.0,353.0L468.1,348.8L468.1,347.5L468.2,349.3L468.3,346.5L468.3,353.2L468.4,355.0L468.5,355.9L468.5,351.3L468.6,349.4L468.7,355.4L468.7,356.3L468.8,352.7L468.9,355.9L468.9,354.2L469.0,353.6L469.1,356.4L469.1,353.6L469.2,351.7L469.3,356.8L469.3,353.4L469.4,353.9L469.4,356.9L469.5,353.0L469.6,352.6L469.6,351.7L469.7,347.2L469.8,350.1L469.8,355.1L469.9,359.9L470.0,360.8L470.0,359.3L470.1,354.8L470.2,354.6L470.2,359.1L470.3,357.4L470.4,357.0L470.4,354.2L470.5,355.5L470.6,353.7L470.6,353.7L470.7,351.7L470.8,349.1L470.8,357.2L470.9,359.1L471.0,354.4L471.0,355.7L471.1,352.3L471.2,355.3L471.2,356.5L471.3,355.0L471.4,354.4L471.4,351.7L471.5,357.2L471.5,357.2L471.6,354.4L471.7,346.4L471.7,348.7L471.8,346.1L471.9,346.5L471.9,354.0L472.0,354.5L472.1,358.3L472.1,355.6L472.2,353.9L472.3,348.7L472.3,346.1L472.4,335.4L472.5,351.7L472.5,351.5L472.6,356.6L472.7,356.9L472.7,357.8L472.8,356.3L472.9,354.5L472.9,353.4L473.0,354.9L473.1,359.7L473.1,360.3L473.2,357.3L473.3,355.4L473.3,357.8L473.4,356.9L473.5,353.7L473.5,354.6L473.6,348.8L473.7,352.5L473.7,350.8L473.8,344.9L473.8,353.9L473.9,360.5L474.0,361.1L474.0,357.4L474.1,357.5L474.2,351.5L474.2,355.9L474.3,360.7L474.4,359.8L474.4,360.2L474.5,356.8L474.6,357.1L474.6,360.0L474.7,359.2L474.8,354.9L474.8,360.8L474.9,360.3L475.0,358.5L475.0,354.8L475.1,351.6L475.2,357.3L475.2,355.1L475.3,356.4L475.4,355.5L475.4,356.5L475.5,356.2L475.6,353.9L475.6,356.0L475.7,355.9L475.8,351.5L475.8,355.0L475.9,357.2L475.9,357.3L476.0,356.2L476.1,351.4L476.1,350.8L476.2,352.8L476.3,344.6L476.3,346.3L476.4,344.0L476.5,353.2L476.5,356.7L476.6,359.8L476.7,358.2L476.7,355.7L476.8,355.8L476.9,354.1L476.9,356.5L477.0,354.4L477.1,351.8L477.1,354.4L477.2,358.1L477.3,355.3L477.3,357.4L477.4,357.6L477.5,358.1L477.5,355.6L477.6,359.6L477.7,360.6L477.7,358.7L477.8,359.0L477.9,356.6L477.9,356.1L478.0,349.6L478.0,346.9L478.1,351.8L478.2,354.7L478.2,356.4L478.3,357.4L478.4,359.1L478.4,355.8L478.5,356.7L478.6,358.3L478.6,358.4L478.7,359.0L478.8,358.1L478.8,348.8L478.9,352.5L479.0,357.2L479.0,355.1L479.1,353.5L479.2,352.2L479.2,357.6L479.3,359.9L479.4,356.3L479.4,351.4L479.5,352.1L479.6,353.9L479.6,356.0L479.7,359.4L479.8,358.1L479.8,356.4L479.9,356.3L480.0,359.1L480.0,358.4L480.1,358.9L480.2,354.3L480.2,357.1L480.3,358.5L480.3,349.7L480.4,354.6L480.5,356.8L480.5,353.8L480.6,358.8L480.7,361.5L480.7,360.7L480.8,357.4L480.9,351.9L480.9,355.6L481.0,359.6L481.1,355.0L481.1,355.4L481.2,356.8L481.3,355.4L481.3,350.8L481.4,357.2L481.5,359.6L481.5,358.3L481.6,357.0L481.7,351.0L481.7,349.3L481.8,350.8L481.9,350.2L481.9,349.7L482.0,354.3L482.1,354.6L482.1,355.8L482.2,356.6L482.3,354.8L482.3,357.3L482.4,357.7L482.4,354.5L482.5,351.9L482.6,351.4L482.6,350.8L482.7,348.3L482.8,351.6L482.8,349.1L482.9,347.8L483.0,354.0L483.0,355.3L483.1,346.8L483.2,353.9L483.2,359.8L483.3,360.8L483.4,359.0L483.4,355.9L483.5,354.1L483.6,350.8L483.6,353.8L483.7,359.6L483.8,356.5L483.8,343.1L483.9,354.8L484.0,346.8L484.0,356.0L484.1,354.8L484.2,353.9L484.2,359.3L484.3,359.6L484.4,359.9L484.4,359.8L484.5,352.1L484.6,347.7L484.6,352.9L484.7,351.1L484.7,357.1L484.8,355.9L484.9,351.2L484.9,347.3L485.0,356.3L485.1,353.3L485.1,347.5L485.2,353.6L485.3,358.1L485.3,355.9L485.4,353.5L485.5,354.5L485.5,358.0L485.6,359.1L485.7,353.5L485.7,358.9L485.8,360.0L485.9,355.3L485.9,358.5L486.0,357.4L486.1,355.4L486.1,353.7L486.2,355.3L486.3,355.7L486.3,352.6L486.4,353.2L486.5,352.6L486.5,356.1L486.6,360.4L486.7,361.4L486.7,360.8L486.8,357.8L486.8,360.7L486.9,359.9L487.0,356.9L487.0,353.5L487.1,355.2L487.2,357.5L487.2,355.6L487.3,356.7L487.4,359.2L487.4,359.5L487.5,356.4L487.6,353.7L487.6,358.3L487.7,354.3L487.8,348.1L487.8,346.6L487.9,350.4L488.0,353.5L488.0,359.7L488.1,360.2L488.2,355.6L488.2,358.9L488.3,357.2L488.4,357.0L488.4,357.0L488.5,356.0L488.6,354.9L488.6,353.0L488.7,350.6L488.8,356.6L488.8,356.4L488.9,349.2L489.0,346.2L489.0,346.4L489.1,347.2L489.1,354.7L489.2,359.9L489.3,356.6L489.3,358.4L489.4,359.9L489.5,353.2L489.5,349.5L489.6,346.5L489.7,344.8L489.7,347.8L489.8,353.8L489.9,343.4L489.9,355.7L490.0,354.0L490.1,349.4L490.1,353.9L490.2,356.1L490.3,355.9L490.3,355.9L490.4,349.6L490.5,350.2L490.5,355.6L490.6,352.9L490.7,354.1L490.7,358.7L490.8,353.4L490.9,349.9L490.9,359.3L491.0,360.0L491.1,357.7L491.1,352.7L491.2,348.1L491.2,353.3L491.3,357.2L491.4,360.8L491.4,359.9L491.5,357.6L491.6,356.3L491.6,351.8L491.7,345.2L491.8,354.6L491.8,360.9L491.9,357.5L492.0,359.0L492.0,357.7L492.1,357.7L492.2,360.0L492.2,353.9L492.3,351.4L492.4,353.1L492.4,351.4L492.5,352.4L492.6,353.3L492.6,356.5L492.7,353.2L492.8,351.8L492.8,354.9L492.9,355.0L493.0,360.5L493.0,360.6L493.1,359.9L493.2,357.9L493.2,356.3L493.3,357.0L493.4,351.2L493.4,352.9L493.5,352.6L493.5,352.6L493.6,355.0L493.7,355.2L493.7,353.0L493.8,359.7L493.9,360.3L493.9,355.2L494.0,351.5L494.1,357.2L494.1,354.0L494.2,354.2L494.3,351.5L494.3,353.3L494.4,358.3L494.5,352.7L494.5,351.3L494.6,358.4L494.7,354.9L494.7,349.2L494.8,352.3L494.9,357.5L494.9,357.7L495.0,356.3L495.1,351.8L495.1,347.6L495.2,346.9L495.3,351.1L495.3,352.9L495.4,348.4L495.5,350.3L495.5,358.6L495.6,358.5L495.6,354.0L495.7,355.4L495.8,358.7L495.8,356.6L495.9,356.4L496.0,353.7L496.0,349.9L496.1,354.4L496.2,349.6L496.2,343.4L496.3,344.9L496.4,348.5L496.4,355.9L496.5,358.0L496.6,355.0L496.6,352.7L496.7,353.6L496.8,350.2L496.8,346.9L496.9,347.8L497.0,354.3L497.0,356.1L497.1,350.2L497.2,357.4L497.2,360.0L497.3,358.1L497.4,353.4L497.4,355.0L497.5,352.2L497.6,350.3L497.6,353.0L497.7,353.7L497.7,357.2L497.8,358.0L497.9,352.2L497.9,354.8L498.0,355.1L498.1,356.6L498.1,358.1L498.2,352.0L498.3,347.8L498.3,347.5L498.4,353.2L498.5,356.0L498.5,358.1L498.6,353.1L498.7,350.6L498.7,357.2L498.8,358.9L498.9,352.9L498.9,350.4L499.0,356.7L499.1,359.3L499.1,356.6L499.2,351.2L499.3,353.2L499.3,354.9L499.4,356.3L499.5,357.1L499.5,354.5L499.6,347.7L499.7,354.6L499.7,358.0L499.8,356.0L499.9,358.7L499.9,359.1L500.0,357.6L500.0,359.1L500.1,357.5L500.2,356.5L500.2,357.0L500.3,358.4L500.4,357.1L500.4,353.6L500.5,359.7L500.6,358.9L500.6,353.7L500.7,350.5L500.8,354.1L500.8,354.7L500.9,357.8L501.0,350.7L501.0,354.6L501.1,358.6L501.2,358.3L501.2,356.1L501.3,360.9L501.4,360.7L501.4,356.7L501.5,359.8L501.6,358.2L501.6,358.1L501.7,356.4L501.8,359.8L501.8,358.8L501.9,359.7L502.0,356.4L502.0,356.4L502.1,358.1L502.1,355.0L502.2,356.0L502.3,355.2L502.3,354.5L502.4,356.7L502.5,360.6L502.5,360.3L502.6,355.5L502.7,353.3L502.7,349.4L502.8,353.9L502.9,353.0L502.9,356.1L503.0,356.3L503.1,355.9L503.1,357.5L503.2,359.7L503.3,361.1L503.3,362.4L503.4,360.6L503.5,351.4L503.5,351.0L503.6,355.9L503.7,351.3L503.7,351.9L503.8,356.9L503.9,356.7L503.9,355.5L504.0,355.5L504.1,354.6L504.1,355.3L504.2,353.6L504.3,356.9L504.3,355.0L504.4,354.5L504.4,359.2L504.5,358.5L504.6,357.6L504.6,357.6L504.7,354.0L504.8,352.1L504.8,355.4L504.9,352.8L505.0,350.4L505.0,357.6L505.1,356.1L505.2,357.9L505.2,355.5L505.3,354.1L505.4,358.1L505.4,357.1L505.5,356.5L505.6,360.4L505.6,360.1L505.7,357.3L505.8,356.6L505.8,358.9L505.9,359.3L506.0,359.8L506.0,358.5L506.1,352.5L506.2,350.3L506.2,354.8L506.3,359.8L506.4,360.3L506.4,354.7L506.5,354.8L506.5,357.0L506.6,354.1L506.7,350.2L506.7,353.4L506.8,356.7L506.9,356.6L506.9,355.3L507.0,360.3L507.1,359.5L507.1,355.4L507.2,356.8L507.3,353.8L507.3,355.7L507.4,360.1L507.5,356.9L507.5,354.2L507.6,342.9L507.7,356.4L507.7,353.0L507.8,345.4L507.9,350.3L507.9,350.6L508.0,352.3L508.1,355.3L508.1,353.8L508.2,354.6L508.3,357.3L508.3,354.8L508.4,354.4L508.5,348.5L508.5,351.9L508.6,354.6L508.7,357.0L508.7,353.0L508.8,349.2L508.8,349.9L508.9,350.9L509.0,347.0L509.0,348.3L509.1,359.9L509.2,361.4L509.2,359.6L509.3,354.9L509.4,357.5L509.4,361.3L509.5,360.5L509.6,360.2L509.6,355.4L509.7,357.8L509.8,359.6L509.8,357.5L509.9,354.9L510.0,357.8L510.0,355.9L510.1,357.6L510.2,357.5L510.2,353.3L510.3,350.6L510.4,349.9L510.4,352.9L510.5,353.6L510.6,352.4L510.6,348.9L510.7,345.9L510.8,350.2L510.8,350.5L510.9,349.2L510.9,356.8L511.0,361.7L511.1,360.8L511.1,354.9L511.2,355.1L511.3,357.7L511.3,351.6L511.4,356.8L511.5,357.6L511.5,348.3L511.6,343.9L511.7,350.3L511.7,359.7L511.8,360.8L511.9,359.9L511.9,353.4L512.0,351.6L512.1,354.0L512.1,355.1L512.2,354.6L512.3,350.5L512.3,348.0L512.4,350.8L512.5,357.1L512.5,357.8L512.6,356.1L512.7,353.7L512.7,353.2L512.8,356.6L512.9,356.6L512.9,351.3L513.0,356.9L513.1,359.4L513.1,358.5L513.2,350.5L513.2,352.7L513.3,351.5L513.4,350.2L513.4,351.9L513.5,355.1L513.6,355.3L513.6,355.5L513.7,351.8L513.8,353.2L513.8,352.3L513.9,352.2L514.0,356.9L514.0,355.8L514.1,357.9L514.2,357.9L514.2,357.5L514.3,355.8L514.4,354.1L514.4,352.0L514.5,345.8L514.6,347.2L514.6,350.9L514.7,350.9L514.8,356.0L514.8,356.3L514.9,353.4L515.0,346.5L515.0,352.7L515.1,360.4L515.2,355.1L515.2,346.3L515.3,354.5L515.3,360.3L515.4,360.7L515.5,360.8L515.5,360.1L515.6,355.3L515.7,346.7L515.7,348.3L515.8,353.9L515.9,356.0L515.9,357.3L516.0,358.2L516.1,354.9L516.1,359.0L516.2,358.5L516.3,353.4L516.3,350.1L516.4,352.0L516.5,353.4L516.5,350.9L516.6,352.3L516.7,352.9L516.7,358.5L516.8,354.6L516.9,348.2L516.9,353.3L517.0,356.6L517.1,355.6L517.1,353.6L517.2,351.9L517.3,358.1L517.3,359.0L517.4,359.1L517.4,354.8L517.5,358.5L517.6,359.0L517.6,358.9L517.7,359.2L517.8,354.8L517.8,355.3L517.9,358.7L518.0,356.5L518.0,358.7L518.1,358.0L518.2,350.6L518.2,347.8L518.3,353.6L518.4,352.8L518.4,353.6L518.5,352.1L518.6,355.3L518.6,352.9L518.7,348.1L518.8,352.4L518.8,359.1L518.9,352.2L519.0,351.4L519.0,353.1L519.1,354.4L519.2,354.3L519.2,351.6L519.3,349.7L519.4,357.8L519.4,361.1L519.5,356.9L519.6,354.7L519.6,357.2L519.7,356.2L519.7,350.7L519.8,346.7L519.9,350.3L519.9,352.1L520.0,349.1L520.1,348.8L520.1,354.8L520.2,354.6L520.3,358.7L520.3,357.2L520.4,356.7L520.5,354.7L520.5,351.4L520.6,351.9L520.7,355.2L520.7,359.2L520.8,357.8L520.9,359.2L520.9,360.5L521.0,360.6L521.1,357.2L521.1,358.8L521.2,359.4L521.3,358.1L521.3,356.8L521.4,358.7L521.5,360.7L521.5,359.7L521.6,358.9L521.7,357.0L521.7,357.3L521.8,361.3L521.8,361.0L521.9,355.5L522.0,353.7L522.0,350.6L522.1,350.4L522.2,354.4L522.2,354.9L522.3,356.6L522.4,357.3L522.4,357.5L522.5,359.3L522.6,352.2L522.6,351.3L522.7,356.2L522.8,355.9L522.8,354.5L522.9,355.5L523.0,357.1L523.0,356.2L523.1,360.6L523.2,361.0L523.2,361.6L523.3,360.4L523.4,358.5L523.4,352.4L523.5,351.6L523.6,358.0L523.6,356.8L523.7,350.7L523.8,356.1L523.8,356.4L523.9,354.1L524.0,354.6L524.0,358.3L524.1,358.8L524.1,356.9L524.2,356.2L524.3,357.8L524.3,354.5L524.4,354.0L524.5,346.7L524.5,352.1L524.6,357.7L524.7,359.4L524.7,355.7L524.8,355.8L524.9,358.6L524.9,356.3L525.0,352.8L525.1,350.9L525.1,348.3L525.2,356.6L525.3,361.0L525.3,358.0L525.4,354.8L525.5,353.9L525.5,352.8L525.6,357.3L525.7,359.4L525.7,360.9L525.8,355.8L525.9,352.7L525.9,356.6L526.0,358.7L526.1,359.5L526.1,360.6L526.2,355.9L526.2,352.6L526.3,355.8L526.4,358.9L526.4,356.0L526.5,348.9L526.6,345.4L526.6,352.9L526.7,358.6L526.8,357.2L526.8,355.3L526.9,354.1L527.0,354.1L527.0,352.5L527.1,356.5L527.2,359.9L527.2,359.2L527.3,361.2L527.4,360.3L527.4,361.1L527.5,358.2L527.6,359.9L527.6,360.1L527.7,355.6L527.8,352.3L527.8,351.4L527.9,355.1L528.0,357.4L528.0,355.4L528.1,355.3L528.2,359.5L528.2,358.5L528.3,356.4L528.4,358.6L528.4,358.7L528.5,356.4L528.5,356.8L528.6,359.5L528.7,360.6L528.7,360.3L528.8,352.7L528.9,349.4L528.9,352.2L529.0,355.7L529.1,355.0L529.1,353.3L529.2,350.2L529.3,355.6L529.3,359.7L529.4,358.0L529.5,359.2L529.5,361.8L529.6,358.9L529.7,354.7L529.7,356.7L529.8,353.9L529.9,356.8L529.9,360.9L530.0,359.1L530.1,360.3L530.1,353.9L530.2,352.0L530.3,354.7L530.3,353.4L530.4,355.5L530.5,353.5L530.5,355.3L530.6,354.8L530.6,355.7L530.7,358.0L530.8,353.5L530.8,350.6L530.9,353.0L531.0,357.9L531.0,359.1L531.1,357.7L531.2,350.6L531.2,346.3L531.3,354.6L531.4,355.5L531.4,357.8L531.5,355.8L531.6,355.6L531.6,355.9L531.7,360.6L531.8,360.4L531.8,360.5L531.9,360.3L532.0,359.1L532.0,355.3L532.1,356.9L532.2,353.4L532.2,351.5L532.3,353.4L532.4,350.8L532.4,356.3L532.5,358.3L532.6,357.9L532.6,358.9L532.7,355.0L532.8,353.2L532.8,350.3L532.9,353.1L532.9,358.8L533.0,356.6L533.1,357.5L533.1,356.4L533.2,354.7L533.3,356.8L533.3,355.2L533.4,352.9L533.5,346.6L533.5,350.0L533.6,354.7L533.7,355.4L533.7,355.1L533.8,353.4L533.9,350.6L533.9,355.1L534.0,355.7L534.1,355.0L534.1,352.9L534.2,352.7L534.3,356.1L534.3,356.3L534.4,355.2L534.5,358.0L534.5,359.0L534.6,353.4L534.7,353.7L534.7,349.6L534.8,347.6L534.9,350.7L534.9,358.2L535.0,358.9L535.0,356.9L535.1,358.5L535.2,359.4L535.2,359.7L535.3,357.1L535.4,357.4L535.4,358.3L535.5,356.8L535.6,349.5L535.6,352.1L535.7,358.5L535.8,358.4L535.8,352.8L535.9,360.3L536.0,360.9L536.0,356.3L536.1,355.3L536.2,355.6L536.2,355.0L536.3,353.5L536.4,353.1L536.4,360.9L536.5,360.2L536.6,358.0L536.6,353.7L536.7,350.9L536.8,355.4L536.8,358.8L536.9,357.8L537.0,352.8L537.0,358.7L537.1,360.2L537.1,356.7L537.2,351.6L537.3,351.0L537.3,352.3L537.4,355.3L537.5,357.8L537.5,360.6L537.6,361.3L537.7,361.6L537.7,361.0L537.8,360.4L537.9,357.4L537.9,359.9L538.0,355.7L538.1,354.5L538.1,353.5L538.2,352.8L538.3,348.3L538.3,354.4L538.4,358.0L538.5,351.8L538.5,350.2L538.6,347.7L538.7,349.7L538.7,357.3L538.8,357.3L538.9,349.9L538.9,354.1L539.0,360.0L539.1,359.0L539.1,356.4L539.2,351.2L539.3,351.8L539.3,355.7L539.4,356.1L539.4,353.3L539.5,355.6L539.6,351.7L539.6,352.9L539.7,357.3L539.8,357.9L539.8,352.1L539.9,352.4L540.0,352.0L540.0,353.1L540.1,351.9L540.2,355.4L540.2,354.6L540.3,355.3L540.4,355.2L540.4,352.8L540.5,359.4L540.6,360.5L540.6,357.3L540.7,356.5L540.8,359.9L540.8,358.5L540.9,356.1L541.0,353.8L541.0,353.2L541.1,355.9L541.2,358.5L541.2,360.2L541.3,357.5L541.4,357.4L541.4,356.9L541.5,353.7L541.5,351.7L541.6,351.2L541.7,349.7L541.7,354.5L541.8,355.7L541.9,359.2L541.9,360.0L542.0,359.9L542.1,355.1L542.1,356.5L542.2,353.9L542.3,353.0L542.3,353.5L542.4,348.7L542.5,350.3L542.5,351.0L542.6,350.9L542.7,350.1L542.7,354.5L542.8,354.2L542.9,359.4L542.9,358.5L543.0,357.5L543.1,355.3L543.1,353.0L543.2,358.0L543.3,356.2L543.3,356.2L543.4,359.3L543.5,352.5L543.5,342.7L543.6,351.2L543.7,355.6L543.7,353.4L543.8,354.3L543.8,352.4L543.9,353.1L544.0,347.8L544.0,349.1L544.1,353.6L544.2,356.9L544.2,354.1L544.3,346.2L544.4,346.1L544.4,352.7L544.5,357.2L544.6,359.5L544.6,357.1L544.7,355.6L544.8,358.3L544.8,359.1L544.9,354.1L545.0,353.7L545.0,355.7L545.1,361.0L545.2,360.7L545.2,358.4L545.3,355.7L545.4,360.4L545.4,357.1L545.5,353.3L545.6,353.9L545.6,360.0L545.7,362.2L545.8,360.8L545.8,355.5L545.9,358.6L545.9,361.9L546.0,359.8L546.1,353.9L546.1,354.2L546.2,352.7L546.3,354.4L546.3,355.2L546.4,358.1L546.5,361.1L546.5,362.3L546.6,360.0L546.7,358.1L546.7,357.5L546.8,356.4L546.9,355.2L546.9,360.1L547.0,354.4" fill="none" stroke="#000" stroke-width="1.3" stroke-linejoin="round"/>
<rect x="54.5" y="3.2" width="492.5" height="364.3" fill="none" stroke="#000" stroke-width="1.85"/>
<path d="M54.5,367.5v-7.3M54.5,3.2v7.3M70.9,367.5v-3.6M70.9,3.2v3.6M87.3,367.5v-3.6M87.3,3.2v3.6M103.8,367.5v-3.6M103.8,3.2v3.6M120.2,367.5v-3.6M120.2,3.2v3.6M136.6,367.5v-3.6M136.6,3.2v3.6M153.0,367.5v-3.6M153.0,3.2v3.6M169.4,367.5v-3.6M169.4,3.2v3.6M185.8,367.5v-3.6M185.8,3.2v3.6M202.2,367.5v-3.6M202.2,3.2v3.6M218.7,367.5v-7.3M218.7,3.2v7.3M235.1,367.5v-3.6M235.1,3.2v3.6M251.5,367.5v-3.6M251.5,3.2v3.6M267.9,367.5v-3.6M267.9,3.2v3.6M284.3,367.5v-3.6M284.3,3.2v3.6M300.8,367.5v-3.6M300.8,3.2v3.6M317.2,367.5v-3.6M317.2,3.2v3.6M333.6,367.5v-3.6M333.6,3.2v3.6M350.0,367.5v-3.6M350.0,3.2v3.6M366.4,367.5v-3.6M366.4,3.2v3.6M382.8,367.5v-7.3M382.8,3.2v7.3M399.2,367.5v-3.6M399.2,3.2v3.6M415.7,367.5v-3.6M415.7,3.2v3.6M432.1,367.5v-3.6M432.1,3.2v3.6M448.5,367.5v-3.6M448.5,3.2v3.6M464.9,367.5v-3.6M464.9,3.2v3.6M481.3,367.5v-3.6M481.3,3.2v3.6M497.8,367.5v-3.6M497.8,3.2v3.6M514.2,367.5v-3.6M514.2,3.2v3.6M530.6,367.5v-3.6M530.6,3.2v3.6M547.0,367.5v-7.3M547.0,3.2v7.3M54.5,367.5h9.8M547.0,367.5h-9.8M54.5,344.7h4.9M547.0,344.7h-4.9M54.5,322.0h4.9M547.0,322.0h-4.9M54.5,299.2h4.9M547.0,299.2h-4.9M54.5,276.4h9.8M547.0,276.4h-9.8M54.5,253.7h4.9M547.0,253.7h-4.9M54.5,230.9h4.9M547.0,230.9h-4.9M54.5,208.1h4.9M547.0,208.1h-4.9M54.5,185.3h9.8M547.0,185.3h-9.8M54.5,162.6h4.9M547.0,162.6h-4.9M54.5,139.8h4.9M547.0,139.8h-4.9M54.5,117.0h4.9M547.0,117.0h-4.9M54.5,94.3h9.8M547.0,94.3h-9.8M54.5,71.5h4.9M547.0,71.5h-4.9M54.5,48.7h4.9M547.0,48.7h-4.9M54.5,26.0h4.9M547.0,26.0h-4.9M54.5,3.2h9.8M547.0,3.2h-9.8" fill="none" stroke="#000" stroke-width="1.48"/>
<text class="s" transform="translate(54.9,396.6) scale(1.120,1)" font-size="18.0" text-anchor="middle" letter-spacing="-0.3">1000</text>
<text class="s" transform="translate(219.1,396.6) scale(1.120,1)" font-size="18.0" text-anchor="middle" letter-spacing="-0.3">2000</text>
<text class="s" transform="translate(383.2,396.6) scale(1.120,1)" font-size="18.0" text-anchor="middle" letter-spacing="-0.3">3000</text>
<text class="s" transform="translate(547.4,396.6) scale(1.120,1)" font-size="18.0" text-anchor="middle" letter-spacing="-0.3">4000</text>
<text class="s" transform="translate(48.4,368.7) scale(1.176,1)" font-size="18.0" text-anchor="end">0</text>
<text class="s" transform="translate(48.4,284.5) scale(1.176,1)" font-size="18.0" text-anchor="end">2</text>
<text class="s" transform="translate(48.4,193.4) scale(1.176,1)" font-size="18.0" text-anchor="end">4</text>
<text class="s" transform="translate(48.4,102.4) scale(1.176,1)" font-size="18.0" text-anchor="end">6</text>
<text class="s" transform="translate(48.4,17.5) scale(1.176,1)" font-size="18.0" text-anchor="end">8</text>
<text class="s" x="211.0" y="421.0" font-size="17.6" letter-spacing="1.92">Frequency</text>
<text class="s" x="333.0" y="421.0" font-size="21.5" letter-spacing="0.00">(</text>
<text class="s mu" x="340.4" y="421.0" font-size="19.6" letter-spacing="0.00">μ</text>
<text class="s" x="354.4" y="421.0" font-size="17.6" letter-spacing="0.90">Hz</text>
<text class="s" x="380.9" y="421.0" font-size="21.5" letter-spacing="0.00">)</text>
<g transform="translate(18.6,272.6) rotate(-90)"><text class="s" x="0.0" y="0.0" font-size="17.6" letter-spacing="1.10">PSD</text><text class="s" x="49.6" y="0.0" font-size="21.5" letter-spacing="0.00">(</text><text class="s" x="57.3" y="0.0" font-size="17.6" letter-spacing="1.35">ppm</text><text class="s sup" x="102.4" y="-9.4" font-size="8.0" letter-spacing="0.00">2</text><text class="s mu" x="110.0" y="0.0" font-size="19.0" letter-spacing="0.00">μ</text><text class="s" x="124.2" y="0.0" font-size="17.6" letter-spacing="0.40">Hz</text><text class="s sup" x="151.6" y="-9.4" font-size="7.6" letter-spacing="0.30">−1</text><text class="s" x="163.4" y="0.0" font-size="21.5" letter-spacing="0.00">)</text></g>
<path d="M681.7,326.5L681.9,315.0L682.1,318.4L682.3,296.7L682.5,309.5L682.7,321.9L682.9,288.4L683.1,291.4L683.3,312.0L683.5,306.6L683.7,309.0L683.9,301.2L684.1,312.9L684.3,322.2L684.5,332.8L684.7,303.0L684.9,309.5L685.0,337.0L685.2,345.1L685.4,343.2L685.6,329.8L685.8,329.1L686.0,327.6L686.2,298.6L686.4,297.3L686.6,323.0L686.8,323.9L687.0,311.6L687.2,302.9L687.4,299.4L687.6,311.7L687.8,301.5L688.0,298.0L688.2,310.1L688.4,305.8L688.6,309.0L688.8,297.7L689.0,275.5L689.2,304.2L689.4,330.4L689.6,333.7L689.8,326.7L690.0,290.3L690.2,317.0L690.4,323.7L690.6,316.8L690.8,327.7L691.0,306.5L691.2,324.5L691.4,332.1L691.6,329.9L691.8,325.7L691.9,329.1L692.1,307.1L692.3,300.8L692.5,311.4L692.7,306.4L692.9,326.6L693.1,334.7L693.3,305.3L693.5,279.6L693.7,305.7L693.9,329.2L694.1,337.1L694.3,309.6L694.5,293.7L694.7,302.1L694.9,329.1L695.1,330.4L695.3,337.8L695.5,335.9L695.7,321.1L695.9,317.5L696.1,294.4L696.3,284.5L696.5,278.3L696.7,280.3L696.9,305.8L697.1,322.8L697.3,326.3L697.5,320.1L697.7,284.6L697.9,293.0L698.1,321.9L698.3,327.5L698.5,311.9L698.7,298.4L698.9,320.5L699.0,333.2L699.2,329.0L699.4,332.2L699.6,335.7L699.8,329.9L700.0,310.3L700.2,293.8L700.4,331.7L700.6,314.2L700.8,296.8L701.0,300.0L701.2,299.0L701.4,285.3L701.6,280.2L701.8,303.7L702.0,325.0L702.2,330.1L702.4,318.7L702.6,335.2L702.8,330.8L703.0,342.5L703.2,342.7L703.4,322.8L703.6,298.9L703.8,283.1L704.0,299.7L704.2,308.5L704.4,303.2L704.6,324.5L704.8,328.3L705.0,298.7L705.2,314.2L705.4,299.1L705.6,303.9L705.8,327.8L705.9,313.2L706.1,317.3L706.3,299.8L706.5,309.3L706.7,322.5L706.9,335.6L707.1,331.9L707.3,332.8L707.5,320.5L707.7,302.9L707.9,306.9L708.1,304.5L708.3,305.2L708.5,308.4L708.7,326.0L708.9,337.6L709.1,330.2L709.3,309.9L709.5,285.6L709.7,321.0L709.9,331.6L710.1,333.7L710.3,317.1L710.5,312.0L710.7,306.9L710.9,305.2L711.1,302.9L711.3,324.4L711.5,321.4L711.7,320.3L711.9,303.6L712.1,313.0L712.3,307.2L712.5,295.0L712.7,317.9L712.8,329.2L713.0,327.2L713.2,317.9L713.4,274.7L713.6,282.7L713.8,306.7L714.0,331.5L714.2,329.7L714.4,290.6L714.6,276.4L714.8,294.3L715.0,319.3L715.2,318.9L715.4,304.6L715.6,329.1L715.8,336.3L716.0,322.8L716.2,284.5L716.4,313.5L716.6,333.7L716.8,322.6L717.0,283.1L717.2,298.4L717.4,320.4L717.6,316.4L717.8,309.3L718.0,315.3L718.2,332.8L718.4,334.7L718.6,314.9L718.8,298.8L719.0,305.9L719.2,286.2L719.4,295.3L719.6,309.8L719.7,301.8L719.9,318.1L720.1,290.2L720.3,295.0L720.5,296.0L720.7,318.4L720.9,336.6L721.1,330.1L721.3,322.5L721.5,296.5L721.7,302.2L721.9,291.2L722.1,297.0L722.3,281.8L722.5,287.3L722.7,294.5L722.9,304.3L723.1,326.2L723.3,334.2L723.5,331.6L723.7,311.5L723.9,286.7L724.1,287.5L724.3,282.8L724.5,311.1L724.7,333.2L724.9,334.9L725.1,326.7L725.3,331.1L725.5,336.7L725.7,338.4L725.9,308.6L726.1,299.9L726.3,310.8L726.5,313.3L726.6,329.1L726.8,332.6L727.0,308.6L727.2,280.6L727.4,319.4L727.6,317.1L727.8,320.3L728.0,317.7L728.2,331.2L728.4,329.8L728.6,328.2L728.8,310.4L729.0,279.4L729.2,290.5L729.4,307.5L729.6,329.8L729.8,339.9L730.0,334.6L730.2,318.3L730.4,316.4L730.6,324.9L730.8,321.7L731.0,328.2L731.2,333.3L731.4,320.5L731.6,334.2L731.8,314.2L732.0,286.1L732.2,287.8L732.4,298.8L732.6,327.9L732.8,331.9L733.0,324.8L733.2,308.8L733.4,326.8L733.6,335.2L733.7,332.4L733.9,333.3L734.1,299.6L734.3,290.1L734.5,314.9L734.7,318.1L734.9,288.1L735.1,310.4L735.3,327.3L735.5,331.1L735.7,318.6L735.9,322.2L736.1,302.5L736.3,306.8L736.5,313.5L736.7,330.5L736.9,319.9L737.1,311.5L737.3,324.2L737.5,325.3L737.7,326.1L737.9,328.1L738.1,335.9L738.3,319.5L738.5,278.7L738.7,318.8L738.9,326.2L739.1,314.8L739.3,319.1L739.5,336.5L739.7,330.6L739.9,289.1L740.1,303.2L740.3,335.9L740.5,327.0L740.6,313.0L740.8,314.6L741.0,310.0L741.2,314.7L741.4,312.4L741.6,334.1L741.8,294.2L742.0,268.8L742.2,276.9L742.4,325.4L742.6,339.1L742.8,308.3L743.0,314.8L743.2,320.6L743.4,314.1L743.6,310.8L743.8,317.6L744.0,321.4L744.2,315.8L744.4,307.4L744.6,296.4L744.8,308.6L745.0,297.3L745.2,320.4L745.4,327.8L745.6,325.6L745.8,340.0L746.0,340.6L746.2,328.2L746.4,307.9L746.6,316.1L746.8,329.5L747.0,322.7L747.2,318.3L747.4,339.4L747.5,336.1L747.7,312.0L747.9,287.0L748.1,299.1L748.3,315.4L748.5,284.0L748.7,303.2L748.9,329.7L749.1,301.7L749.3,304.4L749.5,330.2L749.7,336.0L749.9,293.0L750.1,290.4L750.3,310.7L750.5,325.0L750.7,320.3L750.9,309.3L751.1,313.9L751.3,320.2L751.5,323.6L751.7,326.7L751.9,334.0L752.1,313.2L752.3,289.0L752.5,310.4L752.7,319.8L752.9,280.2L753.1,281.0L753.3,312.5L753.5,325.5L753.7,302.8L753.9,331.6L754.1,339.2L754.3,323.3L754.4,322.3L754.6,313.7L754.8,318.3L755.0,333.5L755.2,339.8L755.4,340.9L755.6,338.1L755.8,312.5L756.0,285.3L756.2,307.1L756.4,322.7L756.6,333.4L756.8,324.2L757.0,282.5L757.2,295.3L757.4,322.0L757.6,330.1L757.8,331.2L758.0,344.7L758.2,307.8L758.4,234.9L758.6,307.8L758.8,299.1L759.0,318.9L759.2,336.9L759.4,338.3L759.6,339.7L759.8,330.0L760.0,324.2L760.2,308.6L760.4,312.1L760.6,319.9L760.8,327.3L761.0,323.7L761.2,320.0L761.3,326.8L761.5,327.3L761.7,333.4L761.9,317.3L762.1,308.3L762.3,335.0L762.5,333.1L762.7,312.4L762.9,316.6L763.1,331.8L763.3,325.6L763.5,310.6L763.7,328.4L763.9,329.9L764.1,338.6L764.3,340.4L764.5,329.5L764.7,333.8L764.9,328.9L765.1,332.9L765.3,326.3L765.5,326.0L765.7,300.2L765.9,283.4L766.1,298.3L766.3,318.8L766.5,316.3L766.7,313.2L766.9,308.8L767.1,304.9L767.3,321.6L767.5,329.2L767.7,319.7L767.9,328.2L768.1,312.9L768.3,308.3L768.4,295.7L768.6,296.9L768.8,329.5L769.0,344.6L769.2,338.7L769.4,312.7L769.6,323.9L769.8,326.7L770.0,311.8L770.2,295.8L770.4,300.0L770.6,281.7L770.8,322.6L771.0,339.8L771.2,335.5L771.4,334.6L771.6,316.4L771.8,296.3L772.0,284.3L772.2,275.8L772.4,292.4L772.6,320.4L772.8,313.6L773.0,325.9L773.2,315.3L773.4,299.3L773.6,323.3L773.8,323.4L774.0,312.1L774.2,315.0L774.4,321.2L774.6,328.0L774.8,323.9L775.0,335.3L775.2,333.7L775.3,326.3L775.5,300.9L775.7,297.5L775.9,324.2L776.1,312.8L776.3,278.8L776.5,289.1L776.7,308.8L776.9,307.4L777.1,287.2L777.3,300.4L777.5,312.3L777.7,321.8L777.9,304.1L778.1,318.9L778.3,333.5L778.5,313.8L778.7,291.3L778.9,290.9L779.1,318.0L779.3,329.8L779.5,320.5L779.7,327.4L779.9,304.7L780.1,318.9L780.3,328.4L780.5,307.0L780.7,319.6L780.9,327.1L781.1,321.0L781.3,305.6L781.5,298.3L781.7,304.7L781.9,274.6L782.1,306.6L782.2,311.5L782.4,315.2L782.6,319.9L782.8,331.4L783.0,334.4L783.2,334.6L783.4,332.1L783.6,322.8L783.8,315.6L784.0,326.3L784.2,325.3L784.4,308.7L784.6,323.0L784.8,300.4L785.0,299.2L785.2,293.8L785.4,282.6L785.6,320.4L785.8,329.8L786.0,328.4L786.2,333.5L786.4,301.3L786.6,314.2L786.8,319.2L787.0,296.1L787.2,300.3L787.4,303.4L787.6,316.6L787.8,313.8L788.0,333.5L788.2,334.7L788.4,318.5L788.6,328.4L788.8,328.0L789.0,320.0L789.1,326.5L789.3,310.8L789.5,250.4L789.7,309.9L789.9,309.3L790.1,304.5L790.3,307.5L790.5,324.3L790.7,325.0L790.9,323.4L791.1,305.4L791.3,299.6L791.5,296.7L791.7,315.8L791.9,314.4L792.1,307.4L792.3,313.6L792.5,297.6L792.7,307.1L792.9,317.2L793.1,312.9L793.3,312.0L793.5,297.3L793.7,323.0L793.9,337.6L794.1,336.4L794.3,334.8L794.5,332.5L794.7,308.5L794.9,290.2L795.1,296.0L795.3,315.7L795.5,313.5L795.7,273.7L795.9,296.7L796.0,313.5L796.2,320.5L796.4,301.9L796.6,289.9L796.8,313.5L797.0,303.7L797.2,285.4L797.4,283.5L797.6,276.5L797.8,279.2L798.0,304.9L798.2,321.2L798.4,333.5L798.6,324.5L798.8,315.8L799.0,316.1L799.2,310.5L799.4,322.3L799.6,341.7L799.8,341.9L800.0,330.2L800.2,305.4L800.4,308.9L800.6,319.9L800.8,290.4L801.0,303.3L801.2,305.9L801.4,283.4L801.6,292.2L801.8,306.5L802.0,301.7L802.2,320.7L802.4,332.9L802.6,334.9L802.8,308.9L803.0,290.5L803.1,284.2L803.3,309.5L803.5,323.9L803.7,317.8L803.9,333.9L804.1,321.3L804.3,302.8L804.5,312.1L804.7,327.8L804.9,326.1L805.1,322.8L805.3,321.5L805.5,322.5L805.7,307.7L805.9,307.9L806.1,324.9L806.3,313.8L806.5,310.4L806.7,313.0L806.9,302.6L807.1,300.7L807.3,309.1L807.5,335.7L807.7,335.3L807.9,321.4L808.1,314.9L808.3,308.0L808.5,304.0L808.7,300.3L808.9,314.2L809.1,309.1L809.3,276.7L809.5,287.0L809.7,296.2L809.9,309.7L810.0,294.8L810.2,294.2L810.4,328.7L810.6,333.9L810.8,323.6L811.0,320.9L811.2,303.4L811.4,305.0L811.6,311.9L811.8,322.3L812.0,328.1L812.2,333.5L812.4,332.9L812.6,315.1L812.8,313.6L813.0,317.9L813.2,323.2L813.4,325.0L813.6,305.6L813.8,295.9L814.0,311.2L814.2,306.4L814.4,312.8L814.6,316.6L814.8,323.8L815.0,333.2L815.2,312.6L815.4,298.9L815.6,291.1L815.8,314.2L816.0,314.2L816.2,292.6L816.4,304.8L816.6,334.9L816.8,332.9L816.9,322.4L817.1,327.9L817.3,323.0L817.5,332.6L817.7,337.7L817.9,329.5L818.1,332.3L818.3,339.8L818.5,344.4L818.7,336.5L818.9,321.4L819.1,305.6L819.3,305.3L819.5,295.8L819.7,307.7L819.9,308.3L820.1,317.2L820.3,333.6L820.5,318.8L820.7,310.0L820.9,317.3L821.1,310.2L821.3,317.7L821.5,327.9L821.7,333.2L821.9,311.4L822.1,286.6L822.3,301.6L822.5,304.8L822.7,311.2L822.9,296.7L823.1,308.5L823.3,318.7L823.5,319.7L823.7,323.0L823.8,322.9L824.0,314.3L824.2,278.9L824.4,307.3L824.6,332.3L824.8,337.6L825.0,329.8L825.2,313.2L825.4,311.8L825.6,331.0L825.8,337.6L826.0,298.1L826.2,301.9L826.4,309.1L826.6,307.7L826.8,303.7L827.0,305.0L827.2,315.2L827.4,327.4L827.6,324.8L827.8,332.2L828.0,318.3L828.2,311.2L828.4,300.8L828.6,308.0L828.8,330.6L829.0,341.9L829.2,340.5L829.4,332.2L829.6,322.1L829.8,289.9L830.0,316.6L830.2,331.5L830.4,319.9L830.6,327.3L830.8,306.7L830.9,232.3L831.1,288.4L831.3,320.3L831.5,336.4L831.7,327.8L831.9,311.4L832.1,301.0L832.3,313.3L832.5,290.7L832.7,285.4L832.9,308.4L833.1,315.5L833.3,311.0L833.5,327.1L833.7,335.7L833.9,333.4L834.1,319.3L834.3,326.0L834.5,328.7L834.7,327.5L834.9,320.9L835.1,320.0L835.3,317.7L835.5,322.6L835.7,307.3L835.9,312.3L836.1,301.3L836.3,283.0L836.5,306.7L836.7,323.3L836.9,327.4L837.1,331.3L837.3,312.3L837.5,307.9L837.7,325.8L837.8,304.3L838.0,306.4L838.2,315.5L838.4,310.0L838.6,310.0L838.8,294.4L839.0,303.1L839.2,286.8L839.4,286.5L839.6,325.6L839.8,338.8L840.0,321.1L840.2,291.1L840.4,310.1L840.6,323.7L840.8,336.9L841.0,340.3L841.2,339.9L841.4,340.3L841.6,324.7L841.8,291.6L842.0,283.8L842.2,282.0L842.4,287.3L842.6,299.4L842.8,321.5L843.0,306.5L843.2,310.3L843.4,321.2L843.6,308.1L843.8,284.5L844.0,309.2L844.2,340.6L844.4,343.8L844.6,336.6L844.7,308.6L844.9,304.9L845.1,303.0L845.3,309.9L845.5,331.4L845.7,339.0L845.9,336.5L846.1,319.1L846.3,298.4L846.5,306.3L846.7,317.1L846.9,338.2L847.1,336.5L847.3,327.6L847.5,337.2L847.7,316.2L847.9,306.2L848.1,327.2L848.3,308.9L848.5,302.8L848.7,291.3L848.9,317.1L849.1,330.4L849.3,316.6L849.5,303.1L849.7,316.2L849.9,324.3L850.1,299.7L850.3,296.9L850.5,311.4L850.7,317.0L850.9,299.9L851.1,290.5L851.3,318.8L851.5,320.7L851.6,303.7L851.8,325.2L852.0,312.3L852.2,275.1L852.4,281.6L852.6,305.0L852.8,324.1L853.0,337.7L853.2,331.2L853.4,318.3L853.6,307.7L853.8,294.8L854.0,303.9L854.2,324.5L854.4,311.9L854.6,324.9L854.8,319.7L855.0,322.5L855.2,341.7L855.4,341.4L855.6,324.3L855.8,324.3L856.0,331.3L856.2,325.5L856.4,316.3L856.6,298.7L856.8,315.4L857.0,327.0L857.2,311.7L857.4,255.8L857.6,317.3L857.8,316.0L858.0,326.0L858.2,343.2L858.4,331.3L858.5,308.3L858.7,318.4L858.9,308.9L859.1,282.8L859.3,282.2L859.5,311.0L859.7,319.3L859.9,329.5L860.1,305.9L860.3,309.8L860.5,296.4L860.7,306.5L860.9,333.0L861.1,337.7L861.3,319.7L861.5,319.9L861.7,325.1L861.9,308.6L862.1,298.8L862.3,312.2L862.5,291.3L862.7,292.5L862.9,333.1L863.1,306.4L863.3,273.3L863.5,305.7L863.7,307.4L863.9,276.2L864.1,285.9L864.3,327.8L864.5,320.4L864.7,308.7L864.9,296.2L865.1,304.0L865.3,306.7L865.5,323.3L865.6,312.6L865.8,301.0L866.0,327.8L866.2,334.7L866.4,312.0L866.6,327.9L866.8,335.5L867.0,334.2L867.2,325.9L867.4,301.2L867.6,317.9L867.8,319.6L868.0,300.9L868.2,290.7L868.4,244.0L868.6,302.0L868.8,322.0L869.0,308.1L869.2,308.6L869.4,319.7L869.6,330.3L869.8,317.1L870.0,306.7L870.2,331.1L870.4,339.4L870.6,336.7L870.8,340.9L871.0,339.7L871.2,320.9L871.4,327.4L871.6,334.6L871.8,321.8L872.0,318.4L872.2,305.9L872.4,315.9L872.5,307.1L872.7,311.9L872.9,312.7L873.1,316.1L873.3,332.7L873.5,326.2L873.7,309.7L873.9,309.1L874.1,328.6L874.3,335.9L874.5,330.1L874.7,326.7L874.9,342.7L875.1,345.8L875.3,335.2L875.5,309.7L875.7,311.4L875.9,325.8L876.1,319.5L876.3,311.4L876.5,317.2L876.7,305.6L876.9,312.9L877.1,332.6L877.3,328.2L877.5,319.3L877.7,296.4L877.9,315.4L878.1,332.2L878.3,336.4L878.5,331.3L878.7,317.7L878.9,324.4L879.1,315.8L879.3,310.9L879.4,297.0L879.6,314.0L879.8,313.2L880.0,330.7L880.2,340.2L880.4,324.4L880.6,303.1L880.8,307.0L881.0,329.7L881.2,328.2L881.4,316.5L881.6,319.1L881.8,319.7L882.0,308.6L882.2,306.2L882.4,327.0L882.6,324.3L882.8,288.0L883.0,311.9L883.2,336.7L883.4,337.7L883.6,323.7L883.8,308.1L884.0,317.9L884.2,322.6L884.4,321.2L884.6,313.6L884.8,293.8L885.0,279.5L885.2,275.7L885.4,302.0L885.6,330.5L885.8,316.1L886.0,326.1L886.2,326.6L886.3,314.6L886.5,322.9L886.7,324.5L886.9,320.3L887.1,306.8L887.3,288.0L887.5,329.1L887.7,335.7L887.9,313.5L888.1,325.5L888.3,338.1L888.5,340.8L888.7,330.4L888.9,334.3L889.1,340.8L889.3,341.1L889.5,329.7L889.7,288.3L889.9,284.8L890.1,325.0L890.3,329.2L890.5,316.3L890.7,312.1L890.9,298.9L891.1,308.3L891.3,311.5L891.5,324.5L891.7,308.4L891.9,280.2L892.1,289.8L892.3,304.2L892.5,333.0L892.7,305.0L892.9,277.9L893.1,291.0L893.2,285.1L893.4,323.5L893.6,337.5L893.8,339.8L894.0,341.9L894.2,321.9L894.4,301.2L894.6,317.4L894.8,327.7L895.0,314.0L895.2,300.8L895.4,324.0L895.6,307.3L895.8,295.3L896.0,323.8L896.2,326.8L896.4,321.5L896.6,288.4L896.8,295.1L897.0,301.9L897.2,329.7L897.4,337.3L897.6,317.7L897.8,323.5L898.0,325.9L898.2,323.3L898.4,323.3L898.6,320.3L898.8,309.5L899.0,336.6L899.2,322.1L899.4,311.0L899.6,309.9L899.8,281.8L900.0,296.1L900.2,319.6L900.3,319.9L900.5,324.8L900.7,313.8L900.9,326.8L901.1,331.1L901.3,320.6L901.5,324.0L901.7,336.7L901.9,329.9L902.1,337.2L902.3,339.0L902.5,334.6L902.7,318.4L902.9,304.4L903.1,299.3L903.3,311.5L903.5,317.9L903.7,298.6L903.9,237.6L904.1,288.5L904.3,304.7L904.5,284.2L904.7,295.3L904.9,298.2L905.1,310.5L905.3,301.7L905.5,302.9L905.7,316.2L905.9,328.1L906.1,318.5L906.3,310.1L906.5,292.2L906.7,289.5L906.9,314.4L907.1,327.5L907.2,318.7L907.4,327.3L907.6,340.5L907.8,340.5L908.0,311.1L908.2,279.4L908.4,301.5L908.6,303.7L908.8,310.8L909.0,326.9L909.2,316.7L909.4,312.4L909.6,307.5L909.8,317.0L910.0,326.8L910.2,297.3L910.4,279.8L910.6,326.2L910.8,333.2L911.0,334.0L911.2,340.8L911.4,337.9L911.6,335.3L911.8,335.1L912.0,328.0L912.2,300.2L912.4,301.6L912.6,310.4L912.8,317.4L913.0,322.5L913.2,301.7L913.4,298.9L913.6,301.5L913.8,320.7L914.0,321.1L914.1,329.4L914.3,335.6L914.5,327.2L914.7,319.2L914.9,335.1L915.1,320.0L915.3,299.4L915.5,309.2L915.7,304.7L915.9,305.8L916.1,328.3L916.3,335.6L916.5,335.4L916.7,328.5L916.9,314.5L917.1,330.5L917.3,308.3L917.5,295.7L917.7,303.9L917.9,326.0L918.1,314.0L918.3,310.2L918.5,300.3L918.7,322.4L918.9,303.1L919.1,279.0L919.3,308.5L919.5,300.4L919.7,311.4L919.9,285.3L920.1,271.1L920.3,275.0L920.5,286.1L920.7,301.9L920.9,321.8L921.0,329.4L921.2,316.5L921.4,320.8L921.6,315.5L921.8,312.8L922.0,320.6L922.2,313.6L922.4,322.8L922.6,302.5L922.8,326.5L923.0,324.6L923.2,313.2L923.4,331.8L923.6,340.5L923.8,337.4L924.0,332.6L924.2,334.8L924.4,332.8L924.6,334.4L924.8,333.2L925.0,339.6L925.2,341.9L925.4,339.0L925.6,317.9L925.8,330.5L926.0,329.3L926.2,308.1L926.4,304.9L926.6,324.8L926.8,333.6L927.0,325.6L927.2,321.8L927.4,318.4L927.6,322.4L927.8,306.6L927.9,313.1L928.1,314.5L928.3,326.4L928.5,329.7L928.7,335.8L928.9,339.0L929.1,323.5L929.3,303.9L929.5,291.0L929.7,294.8L929.9,301.5L930.1,313.7L930.3,339.0L930.5,332.3L930.7,307.4L930.9,312.2L931.1,325.8L931.3,312.7L931.5,305.8L931.7,287.9L931.9,308.0L932.1,338.5L932.3,338.8L932.5,329.1L932.7,306.5L932.9,291.2L933.1,317.3L933.3,312.8L933.5,313.9L933.7,335.8L933.9,341.6L934.1,334.9L934.3,308.4L934.5,284.7L934.7,313.3L934.9,297.3L935.0,280.3L935.2,300.5L935.4,312.9L935.6,327.5L935.8,304.9L936.0,312.4L936.2,340.1L936.4,339.0L936.6,334.8L936.8,315.9L937.0,324.9L937.2,337.3L937.4,344.0L937.6,345.6L937.8,333.5L938.0,293.1L938.2,302.7L938.4,324.6L938.6,312.6L938.8,298.6L939.0,306.4L939.2,296.5L939.4,307.7L939.6,303.4L939.8,303.0L940.0,300.2L940.2,294.8L940.4,316.6L940.6,308.6L940.8,318.9L941.0,335.7L941.2,307.6L941.4,234.3L941.6,294.6L941.8,307.0L941.9,299.0L942.1,311.0L942.3,331.5L942.5,326.9L942.7,304.2L942.9,306.4L943.1,285.4L943.3,281.5L943.5,289.4L943.7,298.1L943.9,332.6L944.1,333.9L944.3,316.2L944.5,288.6L944.7,304.6L944.9,329.8L945.1,330.1L945.3,324.7L945.5,310.9L945.7,307.4L945.9,313.6L946.1,303.8L946.3,312.8L946.5,337.2L946.7,338.0L946.9,314.4L947.1,313.0L947.3,323.0L947.5,320.4L947.7,301.8L947.9,285.9L948.1,302.2L948.3,304.6L948.5,311.3L948.7,307.4L948.8,290.1L949.0,301.7L949.2,321.0L949.4,302.8L949.6,312.2L949.8,328.3L950.0,336.8L950.2,300.7L950.4,286.5L950.6,329.8L950.8,322.1L951.0,296.0L951.2,312.0L951.4,315.8L951.6,313.1L951.8,333.3L952.0,325.2L952.2,332.7L952.4,332.0L952.6,329.6L952.8,332.6L953.0,315.2L953.2,287.0L953.4,297.2L953.6,293.8L953.8,297.9L954.0,323.4L954.2,323.6L954.4,326.5L954.6,298.1L954.8,313.2L955.0,318.3L955.2,318.5L955.4,323.5L955.6,327.6L955.7,310.0L955.9,309.2L956.1,315.3L956.3,323.5L956.5,308.2L956.7,293.1L956.9,303.3L957.1,314.9L957.3,311.0L957.5,304.4L957.7,312.0L957.9,331.4L958.1,330.2L958.3,295.0L958.5,301.2L958.7,320.7L958.9,321.4L959.1,300.5L959.3,293.1L959.5,320.7L959.7,317.9L959.9,306.7L960.1,306.9L960.3,320.2L960.5,314.2L960.7,298.8L960.9,317.5L961.1,321.0L961.3,319.0L961.5,335.7L961.7,328.6L961.9,314.7L962.1,312.9L962.3,298.9L962.5,302.9L962.7,305.7L962.8,298.9L963.0,278.6L963.2,295.1L963.4,325.1L963.6,314.4L963.8,323.7L964.0,316.7L964.2,292.5L964.4,311.6L964.6,294.4L964.8,321.1L965.0,334.2L965.2,335.1L965.4,312.9L965.6,285.1L965.8,310.1L966.0,337.2L966.2,336.2L966.4,324.4L966.6,323.2L966.8,323.8L967.0,295.8L967.2,286.4L967.4,312.8L967.6,316.1L967.8,309.9L968.0,304.8L968.2,331.6L968.4,334.9L968.6,334.8L968.8,315.0L969.0,313.2L969.2,326.1L969.4,313.5L969.6,288.0L969.7,305.6L969.9,315.9L970.1,305.8L970.3,311.7L970.5,325.1L970.7,295.4L970.9,282.9L971.1,315.7L971.3,263.5L971.5,307.5L971.7,297.1L971.9,310.7L972.1,314.8L972.3,328.7L972.5,326.4L972.7,318.0L972.9,297.6L973.1,311.7L973.3,325.8L973.5,311.2L973.7,325.5L973.9,314.4L974.1,300.9L974.3,334.4L974.5,332.4L974.7,319.0L974.9,331.7L975.1,320.1L975.3,313.7L975.5,313.6L975.7,314.8L975.9,302.0L976.1,310.2L976.3,315.3L976.5,302.5L976.6,304.9L976.8,315.9L977.0,291.5L977.2,293.0L977.4,299.0L977.6,297.1L977.8,284.7L978.0,299.2L978.2,321.1L978.4,323.2L978.6,319.2L978.8,324.0L979.0,314.5L979.2,294.2L979.4,311.0L979.6,322.4L979.8,329.2L980.0,330.2L980.2,325.6L980.4,311.4L980.6,307.6L980.8,322.9L981.0,320.3L981.2,319.8L981.4,288.7L981.6,313.7L981.8,335.1L982.0,323.7L982.2,310.3L982.4,333.7L982.6,334.6L982.8,315.3L983.0,329.4L983.2,337.5L983.4,321.8L983.5,282.8L983.7,283.8L983.9,308.3L984.1,318.5L984.3,294.6L984.5,286.8L984.7,298.2L984.9,327.9L985.1,341.5L985.3,338.8L985.5,316.4L985.7,305.2L985.9,304.8L986.1,329.7L986.3,338.0L986.5,318.7L986.7,318.4L986.9,311.6L987.1,325.7L987.3,336.9L987.5,311.3L987.7,271.7L987.9,307.9L988.1,315.5L988.3,309.9L988.5,317.4L988.7,316.6L988.9,323.6L989.1,326.0L989.3,311.6L989.5,296.4L989.7,307.2L989.9,306.3L990.1,299.6L990.3,296.2L990.4,318.8L990.6,321.5L990.8,333.8L991.0,324.8L991.2,293.7L991.4,305.2L991.6,330.2L991.8,333.2L992.0,315.3L992.2,308.5L992.4,317.3L992.6,336.3L992.8,321.8L993.0,326.7L993.2,328.8L993.4,327.2L993.6,323.1L993.8,320.1L994.0,339.5L994.2,338.4L994.4,328.6L994.6,318.4L994.8,304.4L995.0,308.0L995.2,334.8L995.4,325.7L995.6,325.9L995.8,324.4L996.0,326.1L996.2,312.3L996.4,311.8L996.6,328.4L996.8,308.7L997.0,301.1L997.2,313.9L997.4,330.1L997.5,334.2L997.7,328.0L997.9,331.6L998.1,337.3L998.3,336.7L998.5,322.0L998.7,315.1L998.9,321.2L999.1,336.5L999.3,329.4L999.5,326.0L999.7,332.3L999.9,332.5L1000.1,320.6L1000.3,308.0L1000.5,303.6L1000.7,322.4L1000.9,336.7L1001.1,338.9L1001.3,333.1L1001.5,303.4L1001.7,295.4L1001.9,307.5L1002.1,309.6L1002.3,296.6L1002.5,316.6L1002.7,315.6L1002.9,294.3L1003.1,291.0L1003.3,311.3L1003.5,309.5L1003.7,322.8L1003.9,337.4L1004.1,337.9L1004.3,320.3L1004.4,295.8L1004.6,303.8L1004.8,313.5L1005.0,317.2L1005.2,313.1L1005.4,332.0L1005.6,338.1L1005.8,335.1L1006.0,307.6L1006.2,304.7L1006.4,302.5L1006.6,320.4L1006.8,336.7L1007.0,318.5L1007.2,317.8L1007.4,319.8L1007.6,300.6L1007.8,321.5L1008.0,315.6L1008.2,313.9L1008.4,315.5L1008.6,313.5L1008.8,333.4L1009.0,311.3L1009.2,277.2L1009.4,321.3L1009.6,337.3L1009.8,327.7L1010.0,324.3L1010.2,342.1L1010.4,340.7L1010.6,317.8L1010.8,307.9L1011.0,324.1L1011.2,330.9L1011.3,322.2L1011.5,306.6L1011.7,316.1L1011.9,334.6L1012.1,327.5L1012.3,293.9L1012.5,299.4L1012.7,332.0L1012.9,329.5L1013.1,336.5L1013.3,333.3L1013.5,305.2L1013.7,300.5L1013.9,218.5L1014.1,300.5L1014.3,328.1L1014.5,336.3L1014.7,328.6L1014.9,335.1L1015.1,332.1L1015.3,308.7L1015.5,305.5L1015.7,306.3L1015.9,316.8L1016.1,325.0L1016.3,311.9L1016.5,319.1L1016.7,328.6L1016.9,308.7L1017.1,314.5L1017.3,324.7L1017.5,324.9L1017.7,319.1L1017.9,302.8L1018.1,307.3L1018.2,336.4L1018.4,336.2L1018.6,308.6L1018.8,304.5L1019.0,327.7L1019.2,330.2L1019.4,307.3L1019.6,301.1L1019.8,332.7L1020.0,325.9L1020.2,291.1L1020.4,320.6L1020.6,334.5L1020.8,312.7L1021.0,321.4L1021.2,310.9L1021.4,310.1L1021.6,331.7L1021.8,319.9L1022.0,320.7L1022.2,329.7L1022.4,311.4L1022.6,300.5L1022.8,312.8L1023.0,264.2L1023.2,321.0L1023.4,313.9L1023.6,306.4L1023.8,292.4L1024.0,304.4L1024.2,318.7L1024.4,335.0L1024.6,345.5L1024.8,341.8L1025.0,331.4L1025.1,317.4L1025.3,336.4L1025.5,334.7L1025.7,317.0L1025.9,311.7L1026.1,306.0L1026.3,274.6L1026.5,275.0L1026.7,314.5L1026.9,328.5L1027.1,307.9L1027.3,291.9L1027.5,299.4L1027.7,308.6L1027.9,330.0L1028.1,323.3L1028.3,301.5L1028.5,304.1L1028.7,330.5L1028.9,337.4L1029.1,335.1L1029.3,318.7L1029.5,328.7L1029.7,335.5L1029.9,326.2L1030.1,317.8L1030.3,321.0L1030.5,264.2L1030.7,321.0L1030.9,312.5L1031.1,312.5L1031.3,303.7L1031.5,319.1L1031.7,326.8L1031.9,322.1L1032.1,329.9L1032.2,320.9L1032.4,295.8L1032.6,314.6L1032.8,298.8L1033.0,315.5L1033.2,341.2L1033.4,339.4L1033.6,319.4L1033.8,316.5L1034.0,330.9L1034.2,328.0L1034.4,326.0L1034.6,316.8L1034.8,306.6L1035.0,309.5L1035.2,317.1L1035.4,334.9L1035.6,336.0L1035.8,309.6L1036.0,292.9L1036.2,287.7L1036.4,294.5L1036.6,283.4L1036.8,310.4L1037.0,317.4L1037.2,321.3L1037.4,302.7L1037.6,295.2L1037.8,319.0L1038.0,322.6L1038.2,308.3L1038.4,321.2L1038.6,314.5L1038.8,311.9L1039.0,323.2L1039.1,311.8L1039.3,304.4L1039.5,324.6L1039.7,311.3L1039.9,313.2L1040.1,325.0L1040.3,309.3L1040.5,308.0L1040.7,304.3L1040.9,286.2L1041.1,298.1L1041.3,317.8L1041.5,337.2L1041.7,340.9L1041.9,334.7L1042.1,316.7L1042.3,315.9L1042.5,333.7L1042.7,327.1L1042.9,325.4L1043.1,314.4L1043.3,319.4L1043.5,312.1L1043.7,312.2L1043.9,304.4L1044.1,293.7L1044.3,326.2L1044.5,333.7L1044.7,315.2L1044.9,320.4L1045.1,306.6L1045.3,318.8L1045.5,323.7L1045.7,317.3L1045.9,315.2L1046.0,304.1L1046.2,326.3L1046.4,326.2L1046.6,315.0L1046.8,283.1L1047.0,292.4L1047.2,282.0L1047.4,283.3L1047.6,313.4L1047.8,315.5L1048.0,330.9L1048.2,319.9L1048.4,313.1L1048.6,292.5L1048.8,281.7L1049.0,239.3L1049.2,304.4L1049.4,303.3L1049.6,323.8L1049.8,325.0L1050.0,328.8L1050.2,322.5L1050.4,315.3L1050.6,311.1L1050.8,317.3L1051.0,336.5L1051.2,338.8L1051.4,326.5L1051.6,319.2L1051.8,328.7L1052.0,325.0L1052.2,312.2L1052.4,315.9L1052.6,292.7L1052.8,307.6L1052.9,300.5L1053.1,277.0L1053.3,313.1L1053.5,339.5L1053.7,341.8L1053.9,327.1L1054.1,327.6L1054.3,303.6L1054.5,321.1L1054.7,340.2L1054.9,336.6L1055.1,338.1L1055.3,324.5L1055.5,326.0L1055.7,337.4L1055.9,334.1L1056.1,317.3L1056.3,340.6L1056.5,338.5L1056.7,331.5L1056.9,316.9L1057.1,304.0L1057.3,326.7L1057.5,317.9L1057.7,323.0L1057.9,319.5L1058.1,323.6L1058.3,322.4L1058.5,313.0L1058.7,321.4L1058.9,321.3L1059.1,303.6L1059.3,317.6L1059.5,326.4L1059.7,326.7L1059.9,322.2L1060.0,303.0L1060.2,300.7L1060.4,308.7L1060.6,276.0L1060.8,282.5L1061.0,273.7L1061.2,310.1L1061.4,324.4L1061.6,336.9L1061.8,330.4L1062.0,320.5L1062.2,320.7L1062.4,314.0L1062.6,323.4L1062.8,315.1L1063.0,304.7L1063.2,315.3L1063.4,330.0L1063.6,318.6L1063.8,326.9L1064.0,327.9L1064.2,330.0L1064.4,319.9L1064.6,335.9L1064.8,339.8L1065.0,332.5L1065.2,333.6L1065.4,323.9L1065.6,321.9L1065.8,296.0L1066.0,285.0L1066.2,304.8L1066.4,316.3L1066.6,323.0L1066.8,327.2L1066.9,333.8L1067.1,320.8L1067.3,324.3L1067.5,330.8L1067.7,331.2L1067.9,333.3L1068.1,329.8L1068.3,292.6L1068.5,307.4L1068.7,326.3L1068.9,317.7L1069.1,311.7L1069.3,306.2L1069.5,327.8L1069.7,337.1L1069.9,322.9L1070.1,303.0L1070.3,306.0L1070.5,313.2L1070.7,321.6L1070.9,334.9L1071.1,330.0L1071.3,322.9L1071.5,322.8L1071.7,333.9L1071.9,330.9L1072.1,333.2L1072.3,314.6L1072.5,325.9L1072.7,331.4L1072.9,296.1L1073.1,315.9L1073.3,324.9L1073.5,312.6L1073.7,332.7L1073.8,343.6L1074.0,340.2L1074.2,327.0L1074.4,305.0L1074.6,319.8L1074.8,335.9L1075.0,317.5L1075.2,319.1L1075.4,324.5L1075.6,319.3L1075.8,300.7L1076.0,326.2L1076.2,336.0L1076.4,330.7L1076.6,325.5L1076.8,301.5L1077.0,294.7L1077.2,300.6L1077.4,298.3L1077.6,296.4L1077.8,314.7L1078.0,316.1L1078.2,320.9L1078.4,323.9L1078.6,316.7L1078.8,326.8L1079.0,328.2L1079.2,315.4L1079.4,304.9L1079.6,303.0L1079.8,300.7L1080.0,290.7L1080.2,303.8L1080.4,293.8L1080.6,288.7L1080.7,313.7L1080.9,318.6L1081.1,284.8L1081.3,313.1L1081.5,336.9L1081.7,340.5L1081.9,333.7L1082.1,321.2L1082.3,313.8L1082.5,300.9L1082.7,312.7L1082.9,335.8L1083.1,323.6L1083.3,270.0L1083.5,316.9L1083.7,284.7L1083.9,321.4L1084.1,316.6L1084.3,313.3L1084.5,334.6L1084.7,335.8L1084.9,337.2L1085.1,336.8L1085.3,305.9L1085.5,288.4L1085.7,309.2L1085.9,301.9L1086.1,326.0L1086.3,321.2L1086.5,302.4L1086.7,286.6L1086.9,322.5L1087.1,310.6L1087.3,287.6L1087.5,311.8L1087.6,329.8L1087.8,321.2L1088.0,311.5L1088.2,315.3L1088.4,329.6L1088.6,334.0L1088.8,311.6L1089.0,333.0L1089.2,337.7L1089.4,318.5L1089.6,331.6L1089.8,327.0L1090.0,318.9L1090.2,312.1L1090.4,318.7L1090.6,320.4L1090.8,307.8L1091.0,310.1L1091.2,307.9L1091.4,321.8L1091.6,339.0L1091.8,343.0L1092.0,340.6L1092.2,328.7L1092.4,340.2L1092.6,337.0L1092.8,325.0L1093.0,311.5L1093.2,318.4L1093.4,327.4L1093.6,319.9L1093.8,324.5L1094.0,334.1L1094.2,335.3L1094.4,323.0L1094.6,312.2L1094.7,330.8L1094.9,314.8L1095.1,289.9L1095.3,284.0L1095.5,299.1L1095.7,311.5L1095.9,336.5L1096.1,338.2L1096.3,319.9L1096.5,333.2L1096.7,326.4L1096.9,325.4L1097.1,325.6L1097.3,321.5L1097.5,317.1L1097.7,309.5L1097.9,299.9L1098.1,323.8L1098.3,322.9L1098.5,294.4L1098.7,282.4L1098.9,283.2L1099.1,286.3L1099.3,316.2L1099.5,337.0L1099.7,323.7L1099.9,330.9L1100.1,337.1L1100.3,310.4L1100.5,295.4L1100.7,283.4L1100.9,276.7L1101.1,288.7L1101.3,312.7L1101.5,271.0L1101.6,320.3L1101.8,313.5L1102.0,295.2L1102.2,313.0L1102.4,321.8L1102.6,321.0L1102.8,321.1L1103.0,296.1L1103.2,298.3L1103.4,319.8L1103.6,309.2L1103.8,313.9L1104.0,332.1L1104.2,311.0L1104.4,296.9L1104.6,334.8L1104.8,337.6L1105.0,328.4L1105.2,308.4L1105.4,290.0L1105.6,310.8L1105.8,326.1L1106.0,340.5L1106.2,337.1L1106.4,327.9L1106.6,322.7L1106.8,304.8L1107.0,278.2L1107.2,315.9L1107.4,341.2L1107.6,327.4L1107.8,333.4L1108.0,328.3L1108.2,328.3L1108.4,337.6L1108.5,312.9L1108.7,303.0L1108.9,310.0L1109.1,302.9L1109.3,306.9L1109.5,310.7L1109.7,323.5L1109.9,310.2L1110.1,304.8L1110.3,317.0L1110.5,317.3L1110.7,339.5L1110.9,339.9L1111.1,337.2L1111.3,329.0L1111.5,322.7L1111.7,325.6L1111.9,302.4L1112.1,309.2L1112.3,308.0L1112.5,308.1L1112.7,317.4L1112.9,318.4L1113.1,309.7L1113.3,336.2L1113.5,338.6L1113.7,318.3L1113.9,303.5L1114.1,326.4L1114.3,313.4L1114.5,314.3L1114.7,303.7L1114.9,310.8L1115.1,330.9L1115.3,308.3L1115.4,302.9L1115.6,331.0L1115.8,317.2L1116.0,294.2L1116.2,306.7L1116.4,327.7L1116.6,328.3L1116.8,322.6L1117.0,304.6L1117.2,288.1L1117.4,285.3L1117.6,302.0L1117.8,309.0L1118.0,291.2L1118.2,298.6L1118.4,331.7L1118.6,331.5L1118.8,313.7L1119.0,319.1L1119.2,332.5L1119.4,324.0L1119.6,323.0L1119.8,312.4L1120.0,297.2L1120.2,315.2L1120.4,295.7L1120.6,271.2L1120.8,277.2L1121.0,291.4L1121.2,321.1L1121.4,329.4L1121.6,317.6L1121.8,308.1L1122.0,312.1L1122.2,298.2L1122.3,285.2L1122.5,288.6L1122.7,314.7L1122.9,321.8L1123.1,298.3L1123.3,327.0L1123.5,337.3L1123.7,330.0L1123.9,311.0L1124.1,317.5L1124.3,306.5L1124.5,298.6L1124.7,309.5L1124.9,312.2L1125.1,326.4L1125.3,329.6L1125.5,306.5L1125.7,316.9L1125.9,318.0L1126.1,324.0L1126.3,330.0L1126.5,305.6L1126.7,288.6L1126.9,287.6L1127.1,310.5L1127.3,321.5L1127.5,329.8L1127.7,310.0L1127.9,299.8L1128.1,326.3L1128.3,333.1L1128.5,309.3L1128.7,299.0L1128.9,324.1L1129.1,334.7L1129.3,323.7L1129.4,302.1L1129.6,310.3L1129.8,317.0L1130.0,322.5L1130.2,326.1L1130.4,315.6L1130.6,288.3L1130.8,315.7L1131.0,329.4L1131.2,321.3L1131.4,332.2L1131.6,333.9L1131.8,328.0L1132.0,334.0L1132.2,327.6L1132.4,323.4L1132.6,325.4L1132.8,331.2L1133.0,326.0L1133.2,311.9L1133.4,336.5L1133.6,333.3L1133.8,312.4L1134.0,299.4L1134.2,314.0L1134.4,316.5L1134.6,328.6L1134.8,300.2L1135.0,316.0L1135.2,331.8L1135.4,330.7L1135.6,322.1L1135.8,340.9L1136.0,340.4L1136.2,324.5L1136.3,336.6L1136.5,330.5L1136.7,329.8L1136.9,323.1L1137.1,336.5L1137.3,332.8L1137.5,336.4L1137.7,323.3L1137.9,323.0L1138.1,329.8L1138.3,317.7L1138.5,321.6L1138.7,318.3L1138.9,315.4L1139.1,324.4L1139.3,339.8L1139.5,338.9L1139.7,319.5L1139.9,310.8L1140.1,295.1L1140.3,313.2L1140.5,309.5L1140.7,322.0L1140.9,322.8L1141.1,321.3L1141.3,327.3L1141.5,336.2L1141.7,341.8L1141.9,347.2L1142.1,340.1L1142.3,303.2L1142.5,301.3L1142.7,320.9L1142.9,302.7L1143.1,305.0L1143.2,324.9L1143.4,324.4L1143.6,319.6L1143.8,319.6L1144.0,315.7L1144.2,318.6L1144.4,312.0L1144.6,325.2L1144.8,317.6L1145.0,315.5L1145.2,334.1L1145.4,331.6L1145.6,327.8L1145.8,328.1L1146.0,313.5L1146.2,305.8L1146.4,319.1L1146.6,308.8L1146.8,299.2L1147.0,327.7L1147.2,321.9L1147.4,329.1L1147.6,319.5L1147.8,314.1L1148.0,329.9L1148.2,326.0L1148.4,323.3L1148.6,339.0L1148.8,338.0L1149.0,326.6L1149.2,323.8L1149.4,333.2L1149.6,334.8L1149.8,336.6L1150.0,331.4L1150.1,307.6L1150.3,298.6L1150.5,316.5L1150.7,336.6L1150.9,338.5L1151.1,316.1L1151.3,316.7L1151.5,325.4L1151.7,313.8L1151.9,298.1L1152.1,311.0L1152.3,324.2L1152.5,323.8L1152.7,318.6L1152.9,338.9L1153.1,335.6L1153.3,319.2L1153.5,324.7L1153.7,312.6L1153.9,320.2L1154.1,337.7L1154.3,325.2L1154.5,314.1L1154.7,269.1L1154.9,323.2L1155.1,309.4L1155.3,278.9L1155.5,298.9L1155.7,299.8L1155.9,306.9L1156.1,318.5L1156.3,312.6L1156.5,315.9L1156.7,326.6L1156.9,316.6L1157.0,315.2L1157.2,291.4L1157.4,305.2L1157.6,315.7L1157.8,325.4L1158.0,309.5L1158.2,294.3L1158.4,297.0L1158.6,301.3L1158.8,285.7L1159.0,290.9L1159.2,337.2L1159.4,342.9L1159.6,336.0L1159.8,317.0L1160.0,327.7L1160.2,342.8L1160.4,339.7L1160.6,338.5L1160.8,319.3L1161.0,328.6L1161.2,335.9L1161.4,327.3L1161.6,317.2L1161.8,328.6L1162.0,321.0L1162.2,328.1L1162.4,327.4L1162.6,310.7L1162.8,300.0L1163.0,296.9L1163.2,309.0L1163.4,312.1L1163.6,307.0L1163.8,293.1L1164.0,280.9L1164.1,298.3L1164.3,299.6L1164.5,294.2L1164.7,324.7L1164.9,344.5L1165.1,340.5L1165.3,317.3L1165.5,317.8L1165.7,328.1L1165.9,304.0L1166.1,324.7L1166.3,328.0L1166.5,290.9L1166.7,273.0L1166.9,298.9L1167.1,336.2L1167.3,340.8L1167.5,337.0L1167.7,311.0L1167.9,303.8L1168.1,313.5L1168.3,318.0L1168.5,316.0L1168.7,299.4L1168.9,289.4L1169.1,300.5L1169.3,325.9L1169.5,328.6L1169.7,321.7L1169.9,312.2L1170.1,310.3L1170.3,323.7L1170.5,323.7L1170.7,302.9L1170.9,324.9L1171.0,335.3L1171.2,331.4L1171.4,299.3L1171.6,308.4L1171.8,303.6L1172.0,298.5L1172.2,305.1L1172.4,317.8L1172.6,318.9L1172.8,319.5L1173.0,304.9L1173.2,310.2L1173.4,306.7L1173.6,306.5L1173.8,325.1L1174.0,320.7L1174.2,328.9L1174.4,329.2" fill="none" stroke="#000" stroke-width="1.3" stroke-linejoin="round"/>
<rect x="681.5" y="3.2" width="492.9" height="364.3" fill="none" stroke="#000" stroke-width="1.85"/>
<path d="M681.5,367.5v-7.3M681.5,3.2v7.3M706.1,367.5v-3.6M706.1,3.2v3.6M730.8,367.5v-3.6M730.8,3.2v3.6M755.4,367.5v-3.6M755.4,3.2v3.6M780.1,367.5v-7.3M780.1,3.2v7.3M804.7,367.5v-3.6M804.7,3.2v3.6M829.4,367.5v-3.6M829.4,3.2v3.6M854.0,367.5v-3.6M854.0,3.2v3.6M878.7,367.5v-7.3M878.7,3.2v7.3M903.3,367.5v-3.6M903.3,3.2v3.6M928.0,367.5v-3.6M928.0,3.2v3.6M952.6,367.5v-3.6M952.6,3.2v3.6M977.2,367.5v-7.3M977.2,3.2v7.3M1001.9,367.5v-3.6M1001.9,3.2v3.6M1026.5,367.5v-3.6M1026.5,3.2v3.6M1051.2,367.5v-3.6M1051.2,3.2v3.6M1075.8,367.5v-7.3M1075.8,3.2v7.3M1100.5,367.5v-3.6M1100.5,3.2v3.6M1125.1,367.5v-3.6M1125.1,3.2v3.6M1149.8,367.5v-3.6M1149.8,3.2v3.6M1174.4,367.5v-7.3M1174.4,3.2v7.3M681.5,367.5h9.9M1174.4,367.5h-9.9M681.5,349.3h4.9M1174.4,349.3h-4.9M681.5,331.1h4.9M1174.4,331.1h-4.9M681.5,312.9h4.9M1174.4,312.9h-4.9M681.5,294.6h4.9M1174.4,294.6h-4.9M681.5,276.4h9.9M1174.4,276.4h-9.9M681.5,258.2h4.9M1174.4,258.2h-4.9M681.5,240.0h4.9M1174.4,240.0h-4.9M681.5,221.8h4.9M1174.4,221.8h-4.9M681.5,203.6h4.9M1174.4,203.6h-4.9M681.5,185.3h9.9M1174.4,185.3h-9.9M681.5,167.1h4.9M1174.4,167.1h-4.9M681.5,148.9h4.9M1174.4,148.9h-4.9M681.5,130.7h4.9M1174.4,130.7h-4.9M681.5,112.5h4.9M1174.4,112.5h-4.9M681.5,94.3h9.9M1174.4,94.3h-9.9M681.5,76.1h4.9M1174.4,76.1h-4.9M681.5,57.8h4.9M1174.4,57.8h-4.9M681.5,39.6h4.9M1174.4,39.6h-4.9M681.5,21.4h4.9M1174.4,21.4h-4.9M681.5,3.2h9.9M1174.4,3.2h-9.9" fill="none" stroke="#000" stroke-width="1.48"/>
<text class="s" transform="translate(681.9,396.6) scale(1.120,1)" font-size="18.0" text-anchor="middle" letter-spacing="-0.3">2800</text>
<text class="s" transform="translate(780.5,396.6) scale(1.120,1)" font-size="18.0" text-anchor="middle" letter-spacing="-0.3">3000</text>
<text class="s" transform="translate(879.1,396.6) scale(1.120,1)" font-size="18.0" text-anchor="middle" letter-spacing="-0.3">3200</text>
<text class="s" transform="translate(977.6,396.6) scale(1.120,1)" font-size="18.0" text-anchor="middle" letter-spacing="-0.3">3400</text>
<text class="s" transform="translate(1076.2,396.6) scale(1.120,1)" font-size="18.0" text-anchor="middle" letter-spacing="-0.3">3600</text>
<text class="s" transform="translate(1174.8,396.6) scale(1.120,1)" font-size="18.0" text-anchor="middle" letter-spacing="-0.3">3800</text>
<text class="s" transform="translate(675.2,368.2) scale(1.120,1)" font-size="18.0" text-anchor="end" letter-spacing="0.3">0.0</text>
<text class="s" transform="translate(675.2,284.0) scale(1.120,1)" font-size="18.0" text-anchor="end" letter-spacing="0.3">0.5</text>
<text class="s" transform="translate(675.2,192.9) scale(1.120,1)" font-size="18.0" text-anchor="end" letter-spacing="0.3">1.0</text>
<text class="s" transform="translate(675.2,101.9) scale(1.120,1)" font-size="18.0" text-anchor="end" letter-spacing="0.3">1.5</text>
<text class="s" transform="translate(675.2,17.0) scale(1.120,1)" font-size="18.0" text-anchor="end" letter-spacing="0.3">2.0</text>
<text class="s" x="838.2" y="421.0" font-size="17.6" letter-spacing="1.92">Frequency</text>
<text class="s" x="960.2" y="421.0" font-size="21.5" letter-spacing="0.00">(</text>
<text class="s mu" x="967.6" y="421.0" font-size="19.6" letter-spacing="0.00">μ</text>
<text class="s" x="981.6" y="421.0" font-size="17.6" letter-spacing="0.90">Hz</text>
<text class="s" x="1008.1" y="421.0" font-size="21.5" letter-spacing="0.00">)</text>
<g transform="translate(627.3,272.6) rotate(-90)"><text class="s" x="0.0" y="0.0" font-size="17.6" letter-spacing="1.10">PSD</text><text class="s" x="49.6" y="0.0" font-size="21.5" letter-spacing="0.00">(</text><text class="s" x="57.3" y="0.0" font-size="17.6" letter-spacing="1.35">ppm</text><text class="s sup" x="102.4" y="-9.4" font-size="8.0" letter-spacing="0.00">2</text><text class="s mu" x="110.0" y="0.0" font-size="19.0" letter-spacing="0.00">μ</text><text class="s" x="124.2" y="0.0" font-size="17.6" letter-spacing="0.40">Hz</text><text class="s sup" x="151.6" y="-9.4" font-size="7.6" letter-spacing="0.30">−1</text><text class="s" x="163.4" y="0.0" font-size="21.5" letter-spacing="0.00">)</text></g>
<rect x="711.8" y="13.9" width="206.4" height="142.4" fill="#fff"/>
<polygon points="711.8,156.3 711.8,56.6 719.7,96.5 729.0,117.1 738.3,142.1 742.1,156.3" fill="#000"/>
<path d="M711.8,13.9L712.5,74.5L713.2,58.4L714.0,82.1L714.7,50.3L715.4,91.6L715.9,79.4L716.9,105.0L717.5,78.0L718.3,104.3L719.0,52.9L719.7,106.5L720.2,49.5L721.2,118.0L721.9,95.9L722.6,111.1L723.2,76.6L724.1,118.7L724.9,28.4L725.5,125.5L726.2,96.1L727.0,119.6L728.3,79.7L728.4,125.8L729.1,101.6L729.9,131.8L730.6,113.2L731.3,130.6L732.4,125.0L732.7,135.5L733.3,127.8L734.2,138.4L734.8,67.6L735.6,141.5L736.7,134.9L737.1,143.4L737.6,137.8L738.5,148.2L739.3,132.8L740.0,152.1L740.7,82.8L741.4,155.9L742.1,51.6L742.9,154.3L743.1,102.2L744.3,152.4L745.0,148.3L745.8,154.5L747.2,135.3L748.8,153.3L750.7,150.0L753.6,53.2L756.1,153.5L757.9,92.1L759.9,135.3L761.8,153.3L765.1,127.2L767.1,153.3L768.7,145.1L770.3,153.3L772.7,105.1L774.0,143.5L776.0,57.3L778.1,128.8L779.3,128.8L781.4,153.3L784.7,129.6L787.9,153.3L790.0,116.5L792.4,154.0L794.9,133.7L797.3,145.1L799.8,133.7L802.2,154.8L805.8,110.0L809.6,153.3L812.8,110.8L816.9,150.0L821.0,103.8L823.1,106.3L826.7,150.0L829.6,155.7L832.4,145.0L834.4,90.0L837.0,43.6L839.3,17.1L841.7,43.6L844.1,90.0L846.6,149.2L849.0,150.0L852.0,131.2L855.3,124.7L858.5,140.2L861.8,153.3L864.7,155.4L868.3,149.2L871.6,145.9L875.6,143.5L880.5,140.2L883.8,139.0L887.1,141.8L891.5,148.7L897.4,155.6L903.0,155.0L910.4,151.4L915.6,149.3L918.2,147.2" fill="none" stroke="#000" stroke-width="1.25" stroke-linejoin="round"/>
<rect x="711.8" y="13.9" width="206.4" height="142.4" fill="none" stroke="#000" stroke-width="1.60"/>
<path d="M711.8,156.3v-2.8M711.8,13.9v2.8M720.4,156.3v-1.4M720.4,13.9v1.4M729.0,156.3v-1.4M729.0,13.9v1.4M737.6,156.3v-1.4M737.6,13.9v1.4M746.2,156.3v-2.8M746.2,13.9v2.8M754.8,156.3v-1.4M754.8,13.9v1.4M763.4,156.3v-1.4M763.4,13.9v1.4M772.0,156.3v-1.4M772.0,13.9v1.4M780.6,156.3v-2.8M780.6,13.9v2.8M789.2,156.3v-1.4M789.2,13.9v1.4M797.8,156.3v-1.4M797.8,13.9v1.4M806.4,156.3v-1.4M806.4,13.9v1.4M815.0,156.3v-2.8M815.0,13.9v2.8M823.6,156.3v-1.4M823.6,13.9v1.4M832.2,156.3v-1.4M832.2,13.9v1.4M840.8,156.3v-1.4M840.8,13.9v1.4M849.4,156.3v-2.8M849.4,13.9v2.8M858.0,156.3v-1.4M858.0,13.9v1.4M866.6,156.3v-1.4M866.6,13.9v1.4M875.2,156.3v-1.4M875.2,13.9v1.4M883.8,156.3v-2.8M883.8,13.9v2.8M892.4,156.3v-1.4M892.4,13.9v1.4M901.0,156.3v-1.4M901.0,13.9v1.4M909.6,156.3v-1.4M909.6,13.9v1.4M918.2,156.3v-2.8M918.2,13.9v2.8M711.8,156.3h4.1M918.2,156.3h-4.1M711.8,149.2h2.1M918.2,149.2h-2.1M711.8,142.1h2.1M918.2,142.1h-2.1M711.8,134.9h2.1M918.2,134.9h-2.1M711.8,127.8h4.1M918.2,127.8h-4.1M711.8,120.7h2.1M918.2,120.7h-2.1M711.8,113.6h2.1M918.2,113.6h-2.1M711.8,106.5h2.1M918.2,106.5h-2.1M711.8,99.3h4.1M918.2,99.3h-4.1M711.8,92.2h2.1M918.2,92.2h-2.1M711.8,85.1h2.1M918.2,85.1h-2.1M711.8,78.0h2.1M918.2,78.0h-2.1M711.8,70.9h4.1M918.2,70.9h-4.1M711.8,63.7h2.1M918.2,63.7h-2.1M711.8,56.6h2.1M918.2,56.6h-2.1M711.8,49.5h2.1M918.2,49.5h-2.1M711.8,42.4h4.1M918.2,42.4h-4.1M711.8,35.3h2.1M918.2,35.3h-2.1M711.8,28.1h2.1M918.2,28.1h-2.1M711.8,21.0h2.1M918.2,21.0h-2.1M711.8,13.9h4.1M918.2,13.9h-4.1" fill="none" stroke="#000" stroke-width="1.30"/>
<text class="b" transform="translate(711.8,171.8) scale(1.000,1)" font-size="9.2" text-anchor="middle">0</text>
<text class="b" transform="translate(746.2,171.8) scale(1.000,1)" font-size="9.2" text-anchor="middle">20</text>
<text class="b" transform="translate(780.6,171.8) scale(1.000,1)" font-size="9.2" text-anchor="middle">40</text>
<text class="b" transform="translate(815.0,171.8) scale(1.000,1)" font-size="9.2" text-anchor="middle">60</text>
<text class="b" transform="translate(849.4,171.8) scale(1.000,1)" font-size="9.2" text-anchor="middle">80</text>
<text class="b" transform="translate(883.8,171.8) scale(1.000,1)" font-size="9.2" text-anchor="middle">100</text>
<text class="b" transform="translate(919.2,171.8) scale(1.000,1)" font-size="9.2" text-anchor="middle">120</text>
<text class="b" transform="translate(708.4,157.0) scale(1.000,1)" font-size="9.2" text-anchor="end">0</text>
<text class="b" transform="translate(708.4,131.4) scale(1.000,1)" font-size="9.2" text-anchor="end">2</text>
<text class="b" transform="translate(708.4,102.9) scale(1.000,1)" font-size="9.2" text-anchor="end">4</text>
<text class="b" transform="translate(708.4,74.5) scale(1.000,1)" font-size="9.2" text-anchor="end">6</text>
<text class="b" transform="translate(708.4,46.0) scale(1.000,1)" font-size="9.2" text-anchor="end">8</text>
<text class="b" transform="translate(708.4,21.0) scale(1.000,1)" font-size="9.2" text-anchor="end">10</text>
<text class="bs" transform="translate(814.6,183.6) scale(1.000,1)" font-size="9.6" text-anchor="middle" letter-spacing="0.05">Frequency spacing (<tspan class="mub">μ</tspan>Hz)</text>
</svg>
</body>
</html>
